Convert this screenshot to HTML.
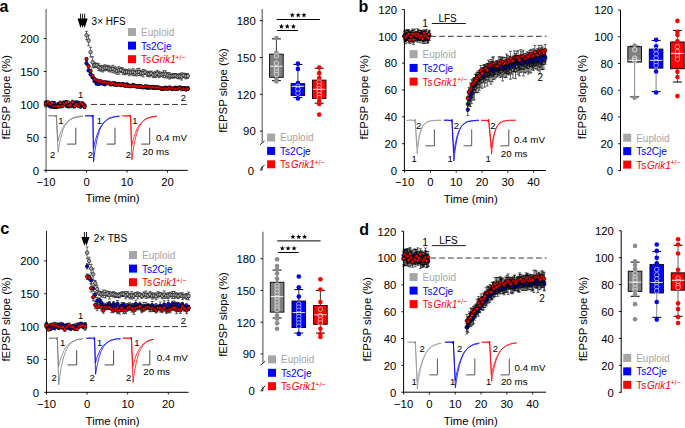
<!DOCTYPE html>
<html><head><meta charset="utf-8"><style>
html,body{margin:0;padding:0;background:#fff;width:685px;height:428px;overflow:hidden}
svg{display:block;font-family:"Liberation Sans",sans-serif}
</style></head><body>
<svg width="685" height="428" viewBox="0 0 685 428" font-family="Liberation Sans, sans-serif">
<rect width="685" height="428" fill="#fff"/>
<text x="-0.60" y="11.60" font-size="16" text-anchor="start" fill="#000" font-weight="bold" >a</text>
<text transform="translate(9.50,97.20) rotate(-90)" font-size="11.4" text-anchor="middle">fEPSP slope (%)</text>
<line x1="46.10" y1="9.00" x2="46.10" y2="170.85" stroke="#888" stroke-width="1.5" />
<line x1="43.80" y1="170.35" x2="46.10" y2="170.35" stroke="#000" stroke-width="0.9" />
<text x="39.00" y="174.70" font-size="11.3" text-anchor="end" fill="#000" >0</text>
<line x1="43.80" y1="137.40" x2="46.10" y2="137.40" stroke="#000" stroke-width="0.9" />
<text x="39.00" y="141.75" font-size="11.3" text-anchor="end" fill="#000" >50</text>
<line x1="43.80" y1="104.45" x2="46.10" y2="104.45" stroke="#000" stroke-width="0.9" />
<text x="39.00" y="108.80" font-size="11.3" text-anchor="end" fill="#000" >100</text>
<line x1="43.80" y1="71.50" x2="46.10" y2="71.50" stroke="#000" stroke-width="0.9" />
<text x="39.00" y="75.85" font-size="11.3" text-anchor="end" fill="#000" >150</text>
<line x1="43.80" y1="38.55" x2="46.10" y2="38.55" stroke="#000" stroke-width="0.9" />
<text x="39.00" y="42.90" font-size="11.3" text-anchor="end" fill="#000" >200</text>
<line x1="45.50" y1="170.35" x2="187.80" y2="170.35" stroke="#000" stroke-width="1" />
<line x1="46.05" y1="170.35" x2="46.05" y2="172.55" stroke="#000" stroke-width="0.9" />
<text x="46.05" y="186.35" font-size="11.3" text-anchor="middle" fill="#000" >−10</text>
<line x1="86.55" y1="170.35" x2="86.55" y2="172.55" stroke="#000" stroke-width="0.9" />
<text x="86.55" y="186.35" font-size="11.3" text-anchor="middle" fill="#000" >0</text>
<line x1="127.05" y1="170.35" x2="127.05" y2="172.55" stroke="#000" stroke-width="0.9" />
<text x="127.05" y="186.35" font-size="11.3" text-anchor="middle" fill="#000" >10</text>
<line x1="167.55" y1="170.35" x2="167.55" y2="172.55" stroke="#000" stroke-width="0.9" />
<text x="167.55" y="186.35" font-size="11.3" text-anchor="middle" fill="#000" >20</text>
<text x="112.60" y="202.15" font-size="11.4" text-anchor="middle" fill="#000" >Time (min)</text>
<line x1="91.00" y1="104.45" x2="187.50" y2="104.45" stroke="#222" stroke-width="0.9" stroke-dasharray="6.0,3.0"/>
<path d="M46.0,103.7V106.8M44.6,103.7h2.8M44.6,106.8h2.8M48.1,102.3V105.2M46.7,102.3h2.8M46.7,105.2h2.8M50.1,102.5V106.1M48.7,102.5h2.8M48.7,106.1h2.8M52.1,104.5V108.5M50.7,104.5h2.8M50.7,108.5h2.8M54.1,104.7V108.5M52.8,104.7h2.8M52.8,108.5h2.8M56.2,104.9V107.9M54.8,104.9h2.8M54.8,107.9h2.8M58.2,102.4V107.2M56.8,102.4h2.8M56.8,107.2h2.8M60.2,104.5V107.8M58.8,104.5h2.8M58.8,107.8h2.8M62.2,101.4V106.4M60.9,101.4h2.8M60.9,106.4h2.8M64.3,102.2V105.9M62.9,102.2h2.8M62.9,105.9h2.8M66.3,100.8V103.7M64.9,100.8h2.8M64.9,103.7h2.8M68.3,101.1V104.5M66.9,101.1h2.8M66.9,104.5h2.8M70.3,104.6V107.6M68.9,104.6h2.8M68.9,107.6h2.8M72.4,103.0V107.7M71.0,103.0h2.8M71.0,107.7h2.8M74.4,103.8V108.0M73.0,103.8h2.8M73.0,108.0h2.8M76.4,102.0V105.6M75.0,102.0h2.8M75.0,105.6h2.8M78.5,102.8V105.7M77.0,102.8h2.8M77.0,105.7h2.8M80.5,104.9V108.1M79.1,104.9h2.8M79.1,108.1h2.8M82.5,101.7V105.5M81.1,101.7h2.8M81.1,105.5h2.8M84.5,103.2V107.4M83.1,103.2h2.8M83.1,107.4h2.8" stroke="#000" stroke-width="0.6" fill="none"/>
<g fill="#b0b0b0" stroke="#000" stroke-width="0.65"><circle cx="46.0" cy="105.3" r="1.75"/><circle cx="48.1" cy="103.8" r="1.75"/><circle cx="50.1" cy="104.3" r="1.75"/><circle cx="52.1" cy="106.5" r="1.75"/><circle cx="54.1" cy="106.6" r="1.75"/><circle cx="56.2" cy="106.4" r="1.75"/><circle cx="58.2" cy="104.8" r="1.75"/><circle cx="60.2" cy="106.2" r="1.75"/><circle cx="62.2" cy="103.9" r="1.75"/><circle cx="64.3" cy="104.1" r="1.75"/><circle cx="66.3" cy="102.3" r="1.75"/><circle cx="68.3" cy="102.8" r="1.75"/><circle cx="70.3" cy="106.1" r="1.75"/><circle cx="72.4" cy="105.3" r="1.75"/><circle cx="74.4" cy="105.9" r="1.75"/><circle cx="76.4" cy="103.8" r="1.75"/><circle cx="78.5" cy="104.2" r="1.75"/><circle cx="80.5" cy="106.5" r="1.75"/><circle cx="82.5" cy="103.6" r="1.75"/><circle cx="84.5" cy="105.3" r="1.75"/></g>
<path d="M86.5,31.3V39.4M85.1,31.3h2.8M85.1,39.4h2.8M88.6,35.5V45.8M87.2,35.5h2.8M87.2,45.8h2.8M90.6,47.4V57.0M89.2,47.4h2.8M89.2,57.0h2.8M92.6,56.6V67.9M91.2,56.6h2.8M91.2,67.9h2.8M94.6,62.6V67.7M93.2,62.6h2.8M93.2,67.7h2.8M96.7,63.1V67.7M95.3,63.1h2.8M95.3,67.7h2.8M98.7,63.7V70.6M97.3,63.7h2.8M97.3,70.6h2.8M100.7,65.3V71.2M99.3,65.3h2.8M99.3,71.2h2.8M102.8,65.5V72.0M101.3,65.5h2.8M101.3,72.0h2.8M104.8,64.7V70.9M103.4,64.7h2.8M103.4,70.9h2.8M106.8,65.3V70.5M105.4,65.3h2.8M105.4,70.5h2.8M108.8,65.4V71.7M107.4,65.4h2.8M107.4,71.7h2.8M110.8,66.2V72.0M109.4,66.2h2.8M109.4,72.0h2.8M112.9,65.2V72.7M111.5,65.2h2.8M111.5,72.7h2.8M114.9,66.7V73.2M113.5,66.7h2.8M113.5,73.2h2.8M116.9,67.7V74.3M115.5,67.7h2.8M115.5,74.3h2.8M118.9,66.4V74.1M117.5,66.4h2.8M117.5,74.1h2.8M121.0,67.5V72.7M119.6,67.5h2.8M119.6,72.7h2.8M123.0,67.9V74.4M121.6,67.9h2.8M121.6,74.4h2.8M125.0,69.1V74.9M123.6,69.1h2.8M123.6,74.9h2.8M127.0,69.6V74.2M125.6,69.6h2.8M125.6,74.2h2.8M129.1,68.9V75.8M127.7,68.9h2.8M127.7,75.8h2.8M131.1,69.9V74.9M129.7,69.9h2.8M129.7,74.9h2.8M133.1,68.5V75.7M131.7,68.5h2.8M131.7,75.7h2.8M135.1,70.0V75.8M133.7,70.0h2.8M133.7,75.8h2.8M137.2,68.6V75.9M135.8,68.6h2.8M135.8,75.9h2.8M139.2,68.3V75.5M137.8,68.3h2.8M137.8,75.5h2.8M141.2,70.3V76.0M139.8,70.3h2.8M139.8,76.0h2.8M143.2,69.5V76.8M141.8,69.5h2.8M141.8,76.8h2.8M145.3,70.0V74.6M143.9,70.0h2.8M143.9,74.6h2.8M147.3,71.5V76.4M145.9,71.5h2.8M145.9,76.4h2.8M149.3,71.1V77.0M147.9,71.1h2.8M147.9,77.0h2.8M151.3,71.1V76.1M149.9,71.1h2.8M149.9,76.1h2.8M153.4,72.1V77.7M152.0,72.1h2.8M152.0,77.7h2.8M155.4,71.3V77.5M154.0,71.3h2.8M154.0,77.5h2.8M157.4,70.2V76.9M156.0,70.2h2.8M156.0,76.9h2.8M159.4,71.4V77.7M158.0,71.4h2.8M158.0,77.7h2.8M161.5,72.3V76.6M160.1,72.3h2.8M160.1,76.6h2.8M163.5,70.8V77.7M162.1,70.8h2.8M162.1,77.7h2.8M165.5,70.8V77.8M164.1,70.8h2.8M164.1,77.8h2.8M167.6,72.5V78.1M166.2,72.5h2.8M166.2,78.1h2.8M169.6,72.7V79.1M168.2,72.7h2.8M168.2,79.1h2.8M171.6,73.8V78.2M170.2,73.8h2.8M170.2,78.2h2.8M173.6,73.5V78.2M172.2,73.5h2.8M172.2,78.2h2.8M175.6,73.5V77.8M174.2,73.5h2.8M174.2,77.8h2.8M177.7,74.0V78.7M176.3,74.0h2.8M176.3,78.7h2.8M179.7,73.5V79.0M178.3,73.5h2.8M178.3,79.0h2.8M181.7,72.8V80.1M180.3,72.8h2.8M180.3,80.1h2.8M183.8,73.1V77.8M182.3,73.1h2.8M182.3,77.8h2.8M185.8,73.5V78.9M184.4,73.5h2.8M184.4,78.9h2.8M187.8,73.7V78.3M186.4,73.7h2.8M186.4,78.3h2.8" stroke="#000" stroke-width="0.6" fill="none"/>
<g fill="#b0b0b0" stroke="#000" stroke-width="0.65"><circle cx="86.5" cy="35.3" r="1.75"/><circle cx="88.6" cy="40.6" r="1.75"/><circle cx="90.6" cy="52.2" r="1.75"/><circle cx="92.6" cy="62.2" r="1.75"/><circle cx="94.6" cy="65.1" r="1.75"/><circle cx="96.7" cy="65.4" r="1.75"/><circle cx="98.7" cy="67.1" r="1.75"/><circle cx="100.7" cy="68.3" r="1.75"/><circle cx="102.8" cy="68.8" r="1.75"/><circle cx="104.8" cy="67.8" r="1.75"/><circle cx="106.8" cy="67.9" r="1.75"/><circle cx="108.8" cy="68.5" r="1.75"/><circle cx="110.8" cy="69.1" r="1.75"/><circle cx="112.9" cy="68.9" r="1.75"/><circle cx="114.9" cy="69.9" r="1.75"/><circle cx="116.9" cy="71.0" r="1.75"/><circle cx="118.9" cy="70.2" r="1.75"/><circle cx="121.0" cy="70.1" r="1.75"/><circle cx="123.0" cy="71.1" r="1.75"/><circle cx="125.0" cy="72.0" r="1.75"/><circle cx="127.0" cy="71.9" r="1.75"/><circle cx="129.1" cy="72.3" r="1.75"/><circle cx="131.1" cy="72.4" r="1.75"/><circle cx="133.1" cy="72.1" r="1.75"/><circle cx="135.1" cy="72.9" r="1.75"/><circle cx="137.2" cy="72.2" r="1.75"/><circle cx="139.2" cy="71.9" r="1.75"/><circle cx="141.2" cy="73.1" r="1.75"/><circle cx="143.2" cy="73.2" r="1.75"/><circle cx="145.3" cy="72.3" r="1.75"/><circle cx="147.3" cy="73.9" r="1.75"/><circle cx="149.3" cy="74.0" r="1.75"/><circle cx="151.3" cy="73.6" r="1.75"/><circle cx="153.4" cy="74.9" r="1.75"/><circle cx="155.4" cy="74.4" r="1.75"/><circle cx="157.4" cy="73.6" r="1.75"/><circle cx="159.4" cy="74.6" r="1.75"/><circle cx="161.5" cy="74.5" r="1.75"/><circle cx="163.5" cy="74.2" r="1.75"/><circle cx="165.5" cy="74.3" r="1.75"/><circle cx="167.6" cy="75.3" r="1.75"/><circle cx="169.6" cy="75.9" r="1.75"/><circle cx="171.6" cy="76.0" r="1.75"/><circle cx="173.6" cy="75.8" r="1.75"/><circle cx="175.6" cy="75.7" r="1.75"/><circle cx="177.7" cy="76.4" r="1.75"/><circle cx="179.7" cy="76.2" r="1.75"/><circle cx="181.7" cy="76.5" r="1.75"/><circle cx="183.8" cy="75.4" r="1.75"/><circle cx="185.8" cy="76.2" r="1.75"/><circle cx="187.8" cy="76.0" r="1.75"/></g>
<path d="M46.0,100.7V105.0M44.6,100.7h2.8M44.6,105.0h2.8M48.1,103.0V106.2M46.7,103.0h2.8M46.7,106.2h2.8M50.1,105.1V107.6M48.7,105.1h2.8M48.7,107.6h2.8M52.1,103.8V106.6M50.7,103.8h2.8M50.7,106.6h2.8M54.1,101.6V104.2M52.8,101.6h2.8M52.8,104.2h2.8M56.2,104.6V108.7M54.8,104.6h2.8M54.8,108.7h2.8M58.2,103.0V105.6M56.8,103.0h2.8M56.8,105.6h2.8M60.2,103.1V105.4M58.8,103.1h2.8M58.8,105.4h2.8M62.2,102.2V106.4M60.9,102.2h2.8M60.9,106.4h2.8M64.3,100.9V104.6M62.9,100.9h2.8M62.9,104.6h2.8M66.3,104.0V107.1M64.9,104.0h2.8M64.9,107.1h2.8M68.3,104.1V107.9M66.9,104.1h2.8M66.9,107.9h2.8M70.3,102.4V106.2M68.9,102.4h2.8M68.9,106.2h2.8M72.4,103.9V106.6M71.0,103.9h2.8M71.0,106.6h2.8M74.4,100.9V105.1M73.0,100.9h2.8M73.0,105.1h2.8M76.4,100.9V104.8M75.0,100.9h2.8M75.0,104.8h2.8M78.5,101.1V104.9M77.0,101.1h2.8M77.0,104.9h2.8M80.5,104.0V107.4M79.1,104.0h2.8M79.1,107.4h2.8M82.5,103.9V106.3M81.1,103.9h2.8M81.1,106.3h2.8M84.5,105.2V108.1M83.1,105.2h2.8M83.1,108.1h2.8" stroke="#000" stroke-width="0.6" fill="none"/>
<g fill="#0000ff" stroke="#000" stroke-width="0.65"><circle cx="46.0" cy="102.8" r="1.75"/><circle cx="48.1" cy="104.6" r="1.75"/><circle cx="50.1" cy="106.4" r="1.75"/><circle cx="52.1" cy="105.2" r="1.75"/><circle cx="54.1" cy="102.9" r="1.75"/><circle cx="56.2" cy="106.6" r="1.75"/><circle cx="58.2" cy="104.3" r="1.75"/><circle cx="60.2" cy="104.3" r="1.75"/><circle cx="62.2" cy="104.3" r="1.75"/><circle cx="64.3" cy="102.8" r="1.75"/><circle cx="66.3" cy="105.6" r="1.75"/><circle cx="68.3" cy="106.0" r="1.75"/><circle cx="70.3" cy="104.3" r="1.75"/><circle cx="72.4" cy="105.2" r="1.75"/><circle cx="74.4" cy="103.0" r="1.75"/><circle cx="76.4" cy="102.8" r="1.75"/><circle cx="78.5" cy="103.0" r="1.75"/><circle cx="80.5" cy="105.7" r="1.75"/><circle cx="82.5" cy="105.1" r="1.75"/><circle cx="84.5" cy="106.6" r="1.75"/></g>
<path d="M86.5,61.8V64.8M85.1,61.8h2.8M85.1,64.8h2.8M88.6,69.2V71.7M87.2,69.2h2.8M87.2,71.7h2.8M90.6,72.5V75.9M89.2,72.5h2.8M89.2,75.9h2.8M92.6,76.2V78.6M91.2,76.2h2.8M91.2,78.6h2.8M94.6,80.1V82.3M93.2,80.1h2.8M93.2,82.3h2.8M96.7,82.8V84.9M95.3,82.8h2.8M95.3,84.9h2.8M98.7,82.2V85.5M97.3,82.2h2.8M97.3,85.5h2.8M100.7,82.0V84.6M99.3,82.0h2.8M99.3,84.6h2.8M102.8,81.9V85.0M101.3,81.9h2.8M101.3,85.0h2.8M104.8,82.7V85.6M103.4,82.7h2.8M103.4,85.6h2.8M106.8,81.2V84.3M105.4,81.2h2.8M105.4,84.3h2.8M108.8,81.8V84.4M107.4,81.8h2.8M107.4,84.4h2.8M110.8,82.7V85.7M109.4,82.7h2.8M109.4,85.7h2.8M112.9,82.6V85.7M111.5,82.6h2.8M111.5,85.7h2.8M114.9,82.0V84.5M113.5,82.0h2.8M113.5,84.5h2.8M116.9,82.7V86.0M115.5,82.7h2.8M115.5,86.0h2.8M118.9,82.9V85.1M117.5,82.9h2.8M117.5,85.1h2.8M121.0,84.1V86.2M119.6,84.1h2.8M119.6,86.2h2.8M123.0,82.6V85.7M121.6,82.6h2.8M121.6,85.7h2.8M125.0,84.0V87.1M123.6,84.0h2.8M123.6,87.1h2.8M127.0,83.0V85.9M125.6,83.0h2.8M125.6,85.9h2.8M129.1,84.3V87.0M127.7,84.3h2.8M127.7,87.0h2.8M131.1,85.3V87.1M129.7,85.3h2.8M129.7,87.1h2.8M133.1,83.7V86.5M131.7,83.7h2.8M131.7,86.5h2.8M135.1,84.4V87.7M133.7,84.4h2.8M133.7,87.7h2.8M137.2,84.8V88.0M135.8,84.8h2.8M135.8,88.0h2.8M139.2,84.9V87.1M137.8,84.9h2.8M137.8,87.1h2.8M141.2,85.9V88.2M139.8,85.9h2.8M139.8,88.2h2.8M143.2,85.8V88.6M141.8,85.8h2.8M141.8,88.6h2.8M145.3,86.1V88.6M143.9,86.1h2.8M143.9,88.6h2.8M147.3,86.0V89.3M145.9,86.0h2.8M145.9,89.3h2.8M149.3,86.1V88.7M147.9,86.1h2.8M147.9,88.7h2.8M151.3,85.5V88.8M149.9,85.5h2.8M149.9,88.8h2.8M153.4,85.9V89.2M152.0,85.9h2.8M152.0,89.2h2.8M155.4,86.2V88.9M154.0,86.2h2.8M154.0,88.9h2.8M157.4,86.7V88.6M156.0,86.7h2.8M156.0,88.6h2.8M159.4,86.8V88.9M158.0,86.8h2.8M158.0,88.9h2.8M161.5,87.1V90.2M160.1,87.1h2.8M160.1,90.2h2.8M163.5,87.2V89.8M162.1,87.2h2.8M162.1,89.8h2.8M165.5,86.3V89.0M164.1,86.3h2.8M164.1,89.0h2.8M167.6,87.0V89.6M166.2,87.0h2.8M166.2,89.6h2.8M169.6,86.4V89.5M168.2,86.4h2.8M168.2,89.5h2.8M171.6,87.3V90.1M170.2,87.3h2.8M170.2,90.1h2.8M173.6,87.4V89.7M172.2,87.4h2.8M172.2,89.7h2.8M175.6,86.4V89.0M174.2,86.4h2.8M174.2,89.0h2.8M177.7,86.6V89.6M176.3,86.6h2.8M176.3,89.6h2.8M179.7,86.3V88.8M178.3,86.3h2.8M178.3,88.8h2.8M181.7,86.7V89.4M180.3,86.7h2.8M180.3,89.4h2.8M183.8,86.8V89.7M182.3,86.8h2.8M182.3,89.7h2.8M185.8,87.0V89.7M184.4,87.0h2.8M184.4,89.7h2.8M187.8,86.7V90.0M186.4,86.7h2.8M186.4,90.0h2.8" stroke="#000" stroke-width="0.6" fill="none"/>
<g fill="#0000ff" stroke="#000" stroke-width="0.65"><circle cx="86.5" cy="63.3" r="1.75"/><circle cx="88.6" cy="70.4" r="1.75"/><circle cx="90.6" cy="74.2" r="1.75"/><circle cx="92.6" cy="77.4" r="1.75"/><circle cx="94.6" cy="81.2" r="1.75"/><circle cx="96.7" cy="83.8" r="1.75"/><circle cx="98.7" cy="83.8" r="1.75"/><circle cx="100.7" cy="83.3" r="1.75"/><circle cx="102.8" cy="83.4" r="1.75"/><circle cx="104.8" cy="84.2" r="1.75"/><circle cx="106.8" cy="82.7" r="1.75"/><circle cx="108.8" cy="83.1" r="1.75"/><circle cx="110.8" cy="84.2" r="1.75"/><circle cx="112.9" cy="84.1" r="1.75"/><circle cx="114.9" cy="83.3" r="1.75"/><circle cx="116.9" cy="84.3" r="1.75"/><circle cx="118.9" cy="84.0" r="1.75"/><circle cx="121.0" cy="85.2" r="1.75"/><circle cx="123.0" cy="84.1" r="1.75"/><circle cx="125.0" cy="85.6" r="1.75"/><circle cx="127.0" cy="84.4" r="1.75"/><circle cx="129.1" cy="85.7" r="1.75"/><circle cx="131.1" cy="86.2" r="1.75"/><circle cx="133.1" cy="85.1" r="1.75"/><circle cx="135.1" cy="86.0" r="1.75"/><circle cx="137.2" cy="86.4" r="1.75"/><circle cx="139.2" cy="86.0" r="1.75"/><circle cx="141.2" cy="87.1" r="1.75"/><circle cx="143.2" cy="87.2" r="1.75"/><circle cx="145.3" cy="87.3" r="1.75"/><circle cx="147.3" cy="87.6" r="1.75"/><circle cx="149.3" cy="87.4" r="1.75"/><circle cx="151.3" cy="87.2" r="1.75"/><circle cx="153.4" cy="87.5" r="1.75"/><circle cx="155.4" cy="87.5" r="1.75"/><circle cx="157.4" cy="87.6" r="1.75"/><circle cx="159.4" cy="87.9" r="1.75"/><circle cx="161.5" cy="88.7" r="1.75"/><circle cx="163.5" cy="88.5" r="1.75"/><circle cx="165.5" cy="87.7" r="1.75"/><circle cx="167.6" cy="88.3" r="1.75"/><circle cx="169.6" cy="88.0" r="1.75"/><circle cx="171.6" cy="88.7" r="1.75"/><circle cx="173.6" cy="88.5" r="1.75"/><circle cx="175.6" cy="87.7" r="1.75"/><circle cx="177.7" cy="88.1" r="1.75"/><circle cx="179.7" cy="87.5" r="1.75"/><circle cx="181.7" cy="88.0" r="1.75"/><circle cx="183.8" cy="88.2" r="1.75"/><circle cx="185.8" cy="88.4" r="1.75"/><circle cx="187.8" cy="88.3" r="1.75"/></g>
<path d="M46.0,101.5V105.6M44.6,101.5h2.8M44.6,105.6h2.8M48.1,101.0V103.8M46.7,101.0h2.8M46.7,103.8h2.8M50.1,102.1V106.3M48.7,102.1h2.8M48.7,106.3h2.8M52.1,101.6V104.2M50.7,101.6h2.8M50.7,104.2h2.8M54.1,104.6V107.8M52.8,104.6h2.8M52.8,107.8h2.8M56.2,105.0V107.8M54.8,105.0h2.8M54.8,107.8h2.8M58.2,104.6V108.2M56.8,104.6h2.8M56.8,108.2h2.8M60.2,101.1V105.2M58.8,101.1h2.8M58.8,105.2h2.8M62.2,104.2V107.9M60.9,104.2h2.8M60.9,107.9h2.8M64.3,102.4V105.0M62.9,102.4h2.8M62.9,105.0h2.8M66.3,100.6V104.8M64.9,100.6h2.8M64.9,104.8h2.8M68.3,103.6V107.8M66.9,103.6h2.8M66.9,107.8h2.8M70.3,103.3V106.6M68.9,103.3h2.8M68.9,106.6h2.8M72.4,100.2V104.2M71.0,100.2h2.8M71.0,104.2h2.8M74.4,104.4V107.6M73.0,104.4h2.8M73.0,107.6h2.8M76.4,102.9V105.9M75.0,102.9h2.8M75.0,105.9h2.8M78.5,104.4V107.3M77.0,104.4h2.8M77.0,107.3h2.8M80.5,102.3V104.6M79.1,102.3h2.8M79.1,104.6h2.8M82.5,102.6V105.8M81.1,102.6h2.8M81.1,105.8h2.8M84.5,105.2V108.2M83.1,105.2h2.8M83.1,108.2h2.8" stroke="#000" stroke-width="0.6" fill="none"/>
<g fill="#ff0000" stroke="#000" stroke-width="0.65"><circle cx="46.0" cy="103.5" r="1.75"/><circle cx="48.1" cy="102.4" r="1.75"/><circle cx="50.1" cy="104.2" r="1.75"/><circle cx="52.1" cy="102.9" r="1.75"/><circle cx="54.1" cy="106.2" r="1.75"/><circle cx="56.2" cy="106.4" r="1.75"/><circle cx="58.2" cy="106.4" r="1.75"/><circle cx="60.2" cy="103.1" r="1.75"/><circle cx="62.2" cy="106.0" r="1.75"/><circle cx="64.3" cy="103.7" r="1.75"/><circle cx="66.3" cy="102.7" r="1.75"/><circle cx="68.3" cy="105.7" r="1.75"/><circle cx="70.3" cy="104.9" r="1.75"/><circle cx="72.4" cy="102.2" r="1.75"/><circle cx="74.4" cy="106.0" r="1.75"/><circle cx="76.4" cy="104.4" r="1.75"/><circle cx="78.5" cy="105.9" r="1.75"/><circle cx="80.5" cy="103.4" r="1.75"/><circle cx="82.5" cy="104.2" r="1.75"/><circle cx="84.5" cy="106.7" r="1.75"/></g>
<path d="M86.5,57.8V60.4M85.1,57.8h2.8M85.1,60.4h2.8M88.6,64.6V68.0M87.2,64.6h2.8M87.2,68.0h2.8M90.6,69.4V72.7M89.2,69.4h2.8M89.2,72.7h2.8M92.6,74.7V77.0M91.2,74.7h2.8M91.2,77.0h2.8M94.6,77.7V80.8M93.2,77.7h2.8M93.2,80.8h2.8M96.7,79.3V81.4M95.3,79.3h2.8M95.3,81.4h2.8M98.7,79.9V83.2M97.3,79.9h2.8M97.3,83.2h2.8M100.7,80.1V82.3M99.3,80.1h2.8M99.3,82.3h2.8M102.8,80.9V84.2M101.3,80.9h2.8M101.3,84.2h2.8M104.8,80.8V83.7M103.4,80.8h2.8M103.4,83.7h2.8M106.8,82.4V84.3M105.4,82.4h2.8M105.4,84.3h2.8M108.8,81.4V83.9M107.4,81.4h2.8M107.4,83.9h2.8M110.8,82.3V85.6M109.4,82.3h2.8M109.4,85.6h2.8M112.9,81.8V84.9M111.5,81.8h2.8M111.5,84.9h2.8M114.9,82.9V86.1M113.5,82.9h2.8M113.5,86.1h2.8M116.9,83.2V86.4M115.5,83.2h2.8M115.5,86.4h2.8M118.9,83.2V85.6M117.5,83.2h2.8M117.5,85.6h2.8M121.0,82.8V86.1M119.6,82.8h2.8M119.6,86.1h2.8M123.0,84.1V86.2M121.6,84.1h2.8M121.6,86.2h2.8M125.0,83.8V86.0M123.6,83.8h2.8M123.6,86.0h2.8M127.0,84.7V86.8M125.6,84.7h2.8M125.6,86.8h2.8M129.1,85.0V87.2M127.7,85.0h2.8M127.7,87.2h2.8M131.1,84.7V87.1M129.7,84.7h2.8M129.7,87.1h2.8M133.1,84.2V86.5M131.7,84.2h2.8M131.7,86.5h2.8M135.1,84.9V87.1M133.7,84.9h2.8M133.7,87.1h2.8M137.2,85.5V87.4M135.8,85.5h2.8M135.8,87.4h2.8M139.2,85.9V87.8M137.8,85.9h2.8M137.8,87.8h2.8M141.2,84.9V87.6M139.8,84.9h2.8M139.8,87.6h2.8M143.2,85.9V88.5M141.8,85.9h2.8M141.8,88.5h2.8M145.3,85.2V87.2M143.9,85.2h2.8M143.9,87.2h2.8M147.3,85.2V87.8M145.9,85.2h2.8M145.9,87.8h2.8M149.3,85.6V88.7M147.9,85.6h2.8M147.9,88.7h2.8M151.3,86.1V88.7M149.9,86.1h2.8M149.9,88.7h2.8M153.4,85.4V88.8M152.0,85.4h2.8M152.0,88.8h2.8M155.4,86.2V89.3M154.0,86.2h2.8M154.0,89.3h2.8M157.4,85.9V88.7M156.0,85.9h2.8M156.0,88.7h2.8M159.4,86.7V89.1M158.0,86.7h2.8M158.0,89.1h2.8M161.5,87.6V89.6M160.1,87.6h2.8M160.1,89.6h2.8M163.5,87.2V90.2M162.1,87.2h2.8M162.1,90.2h2.8M165.5,87.4V89.5M164.1,87.4h2.8M164.1,89.5h2.8M167.6,87.2V90.4M166.2,87.2h2.8M166.2,90.4h2.8M169.6,86.2V89.1M168.2,86.2h2.8M168.2,89.1h2.8M171.6,87.5V89.7M170.2,87.5h2.8M170.2,89.7h2.8M173.6,87.4V89.9M172.2,87.4h2.8M172.2,89.9h2.8M175.6,87.6V90.2M174.2,87.6h2.8M174.2,90.2h2.8M177.7,87.1V90.5M176.3,87.1h2.8M176.3,90.5h2.8M179.7,86.4V89.1M178.3,86.4h2.8M178.3,89.1h2.8M181.7,87.3V90.7M180.3,87.3h2.8M180.3,90.7h2.8M183.8,87.7V90.1M182.3,87.7h2.8M182.3,90.1h2.8M185.8,88.3V90.7M184.4,88.3h2.8M184.4,90.7h2.8M187.8,87.5V90.1M186.4,87.5h2.8M186.4,90.1h2.8" stroke="#000" stroke-width="0.6" fill="none"/>
<g fill="#ff0000" stroke="#000" stroke-width="0.65"><circle cx="86.5" cy="59.1" r="1.75"/><circle cx="88.6" cy="66.3" r="1.75"/><circle cx="90.6" cy="71.0" r="1.75"/><circle cx="92.6" cy="75.9" r="1.75"/><circle cx="94.6" cy="79.3" r="1.75"/><circle cx="96.7" cy="80.3" r="1.75"/><circle cx="98.7" cy="81.5" r="1.75"/><circle cx="100.7" cy="81.2" r="1.75"/><circle cx="102.8" cy="82.6" r="1.75"/><circle cx="104.8" cy="82.3" r="1.75"/><circle cx="106.8" cy="83.4" r="1.75"/><circle cx="108.8" cy="82.7" r="1.75"/><circle cx="110.8" cy="83.9" r="1.75"/><circle cx="112.9" cy="83.3" r="1.75"/><circle cx="114.9" cy="84.5" r="1.75"/><circle cx="116.9" cy="84.8" r="1.75"/><circle cx="118.9" cy="84.4" r="1.75"/><circle cx="121.0" cy="84.5" r="1.75"/><circle cx="123.0" cy="85.1" r="1.75"/><circle cx="125.0" cy="84.9" r="1.75"/><circle cx="127.0" cy="85.8" r="1.75"/><circle cx="129.1" cy="86.1" r="1.75"/><circle cx="131.1" cy="85.9" r="1.75"/><circle cx="133.1" cy="85.4" r="1.75"/><circle cx="135.1" cy="86.0" r="1.75"/><circle cx="137.2" cy="86.5" r="1.75"/><circle cx="139.2" cy="86.8" r="1.75"/><circle cx="141.2" cy="86.2" r="1.75"/><circle cx="143.2" cy="87.2" r="1.75"/><circle cx="145.3" cy="86.2" r="1.75"/><circle cx="147.3" cy="86.5" r="1.75"/><circle cx="149.3" cy="87.1" r="1.75"/><circle cx="151.3" cy="87.4" r="1.75"/><circle cx="153.4" cy="87.1" r="1.75"/><circle cx="155.4" cy="87.8" r="1.75"/><circle cx="157.4" cy="87.3" r="1.75"/><circle cx="159.4" cy="87.9" r="1.75"/><circle cx="161.5" cy="88.6" r="1.75"/><circle cx="163.5" cy="88.7" r="1.75"/><circle cx="165.5" cy="88.5" r="1.75"/><circle cx="167.6" cy="88.8" r="1.75"/><circle cx="169.6" cy="87.6" r="1.75"/><circle cx="171.6" cy="88.6" r="1.75"/><circle cx="173.6" cy="88.6" r="1.75"/><circle cx="175.6" cy="88.9" r="1.75"/><circle cx="177.7" cy="88.8" r="1.75"/><circle cx="179.7" cy="87.8" r="1.75"/><circle cx="181.7" cy="89.0" r="1.75"/><circle cx="183.8" cy="88.9" r="1.75"/><circle cx="185.8" cy="89.5" r="1.75"/><circle cx="187.8" cy="88.8" r="1.75"/></g>
<text x="78.00" y="98.45" font-size="9.5" text-anchor="start" fill="#000" >1</text>
<text x="180.80" y="101.45" font-size="9.5" text-anchor="start" fill="#000" >2</text>
<path d="M77.50,18.6 L83.50,18.6 L80.50,28 Z M79.55,18.6 L85.55,18.6 L82.55,28 Z M81.65,18.6 L87.65,18.6 L84.65,28 Z " fill="#000"/>
<line x1="80.50" y1="13.70" x2="80.50" y2="19.00" stroke="#000" stroke-width="0.9" />
<line x1="82.55" y1="13.70" x2="82.55" y2="19.00" stroke="#000" stroke-width="0.9" />
<line x1="84.65" y1="13.70" x2="84.65" y2="19.00" stroke="#000" stroke-width="0.9" />
<text x="91.60" y="25.00" font-size="10" text-anchor="start" fill="#000" >3× HFS</text>
<rect x="128.00" y="28.00" width="8.00" height="8.00" fill="#a6a6a6" stroke="none" stroke-width="0"/>
<text x="141.00" y="35.95" font-size="10.0" text-anchor="start" fill="#a6a6a6" >Euploid</text>
<rect x="128.00" y="41.60" width="8.00" height="8.00" fill="#0000ff" stroke="none" stroke-width="0"/>
<text x="141.00" y="49.55" font-size="10.0" text-anchor="start" fill="#0000ff" >Ts2Cje</text>
<rect x="128.00" y="55.20" width="8.00" height="8.00" fill="#ff0000" stroke="none" stroke-width="0"/>
<text x="141.00" y="63.15" font-size="10.0" fill="#ff0000">Ts<tspan font-style="italic" dx="0.8">Grik1</tspan><tspan font-size="7.00" dy="-3.60" dx="-0.4">+/−</tspan></text>
<path d="M48.3,115.7 L49.3,115.8 L50.3,115.6 L51.3,115.7 L52.3,115.6 L53.3,115.7 L54.3,115.6 L55.3,115.6 L56.0,117.0 L56.3,115.0 L57.9,141.0 L58.4,139.0 L58.9,137.3 L59.4,135.8 L59.9,134.3 L60.4,133.1 L60.9,131.8 L61.4,130.6 L61.9,129.6 L62.4,128.4 L62.9,127.4 L63.4,126.9 L63.9,125.6 L64.4,125.2 L64.9,124.5 L65.4,123.5 L65.9,123.3 L66.9,122.3 L67.9,121.3 L68.9,120.6 L69.9,119.9 L70.9,119.0 L71.9,118.7 L72.9,118.3 L73.9,118.1 L74.9,117.8 L75.9,117.5 L76.9,117.2 L77.9,117.2 L78.9,116.9 L79.9,116.8 L80.9,116.4 L81.9,116.2 L82.9,116.2" fill="none" stroke="#7a7a7a" stroke-width="0.8" stroke-linejoin="round" />
<path d="M48.3,115.7 L49.3,115.6 L50.3,116.0 L51.3,115.8 L52.3,115.9 L53.3,115.9 L54.3,115.9 L55.3,115.8 L56.0,117.0 L56.3,115.0 L58.1,152.3 L58.6,148.8 L59.1,146.2 L59.6,143.4 L60.1,140.8 L60.6,138.6 L61.1,136.6 L61.6,134.4 L62.1,133.1 L62.6,131.3 L63.1,129.8 L63.6,128.6 L64.1,127.7 L64.6,126.4 L65.1,125.7 L65.6,124.9 L66.1,123.9 L67.1,122.4 L68.1,121.3 L69.1,120.5 L70.1,119.7 L71.1,119.0 L72.1,118.5 L73.1,117.7 L74.1,117.4 L75.1,117.2 L76.1,117.1 L77.1,116.7 L78.1,116.7 L79.1,116.3 L80.1,116.2 L81.1,116.2 L82.1,116.3 L83.1,116.2" fill="none" stroke="#7a7a7a" stroke-width="0.8" stroke-linejoin="round" />
<path d="M85.1,115.9 L86.1,115.7 L87.1,115.8 L88.1,115.8 L89.1,115.8 L90.1,115.6 L91.1,116.0 L92.1,115.6 L92.6,117.0 L92.9,115.0 L93.4,149.0 L93.9,146.8 L94.4,144.5 L94.9,141.9 L95.4,140.2 L95.9,138.6 L96.4,137.0 L96.9,135.2 L97.4,133.6 L97.9,132.3 L98.4,131.4 L98.9,129.9 L99.4,129.0 L99.9,127.8 L100.4,127.1 L100.9,126.5 L101.4,125.3 L102.4,124.3 L103.4,122.9 L104.4,122.1 L105.4,121.1 L106.4,120.2 L107.4,119.9 L108.4,119.1 L109.4,118.4 L110.4,118.0 L111.4,117.9 L112.4,117.6 L113.4,117.2 L114.4,116.9 L115.4,116.8 L116.4,116.7 L117.4,116.8 L118.4,116.3 L119.4,116.5" fill="none" stroke="#0000ff" stroke-width="0.8" stroke-linejoin="round" />
<path d="M85.1,116.0 L86.1,115.6 L87.1,116.0 L88.1,115.9 L89.1,116.0 L90.1,115.7 L91.1,115.7 L92.1,115.7 L92.6,117.0 L92.9,115.0 L93.5,162.0 L94.0,158.1 L94.5,154.1 L95.0,150.5 L95.5,147.4 L96.0,144.5 L96.5,141.8 L97.0,139.5 L97.5,137.7 L98.0,135.5 L98.5,134.0 L99.0,132.0 L99.5,130.6 L100.0,129.4 L100.5,128.0 L101.0,127.0 L101.5,126.2 L102.5,124.4 L103.5,123.0 L104.5,121.7 L105.5,120.8 L106.5,120.0 L107.5,119.1 L108.5,118.6 L109.5,117.8 L110.5,117.8 L111.5,117.3 L112.5,117.2 L113.5,116.9 L114.5,116.6 L115.5,116.3 L116.5,116.6 L117.5,116.1 L118.5,116.2 L119.5,116.1" fill="none" stroke="#0000ff" stroke-width="0.8" stroke-linejoin="round" />
<path d="M122.4,115.7 L123.4,115.9 L124.4,116.0 L125.4,115.7 L126.4,115.9 L127.4,115.7 L128.4,115.8 L129.4,115.7 L130.2,117.0 L130.5,115.0 L131.7,146.0 L132.2,143.6 L132.7,141.5 L133.2,139.6 L133.7,138.2 L134.2,136.4 L134.7,134.7 L135.2,133.6 L135.7,132.4 L136.2,130.9 L136.7,129.6 L137.2,128.6 L137.7,127.6 L138.2,126.8 L138.7,125.9 L139.2,125.2 L139.7,124.5 L140.7,123.4 L141.7,122.5 L142.7,121.5 L143.7,120.5 L144.7,119.8 L145.7,119.3 L146.7,118.7 L147.7,118.3 L148.7,117.8 L149.7,117.6 L150.7,117.7 L151.7,117.0 L152.7,117.0 L153.7,116.9 L154.7,116.9 L155.7,116.4 L156.7,116.3" fill="none" stroke="#ff0000" stroke-width="0.8" stroke-linejoin="round" />
<path d="M122.4,115.7 L123.4,115.7 L124.4,115.8 L125.4,116.0 L126.4,116.0 L127.4,116.0 L128.4,115.6 L129.4,115.6 L130.2,117.0 L130.5,115.0 L131.9,159.6 L132.4,155.8 L132.9,152.3 L133.4,148.8 L133.9,145.9 L134.4,142.9 L134.9,140.6 L135.4,138.6 L135.9,136.6 L136.4,134.7 L136.9,133.1 L137.4,131.2 L137.9,129.7 L138.4,128.5 L138.9,127.5 L139.4,126.5 L139.9,125.7 L140.9,123.9 L141.9,122.5 L142.9,121.4 L143.9,120.3 L144.9,119.6 L145.9,118.7 L146.9,118.5 L147.9,117.8 L148.9,117.8 L149.9,117.3 L150.9,116.9 L151.9,116.6 L152.9,116.5 L153.9,116.6 L154.9,116.5 L155.9,116.1 L156.9,116.0" fill="none" stroke="#ff0000" stroke-width="0.8" stroke-linejoin="round" />
<path d="M75.80,127.70 L75.80,144.10 L67.10,144.10" fill="none" stroke="#333" stroke-width="0.9"/>
<path d="M115.00,127.70 L115.00,144.10 L106.90,144.10" fill="none" stroke="#333" stroke-width="0.9"/>
<path d="M149.70,127.70 L149.70,144.10 L141.20,144.10" fill="none" stroke="#333" stroke-width="0.9"/>
<text x="58.20" y="124.00" font-size="9.5" text-anchor="start" fill="#000" >1</text>
<text x="50.00" y="158.00" font-size="9.5" text-anchor="start" fill="#000" >2</text>
<text x="96.70" y="124.00" font-size="9.5" text-anchor="start" fill="#000" >1</text>
<text x="87.70" y="158.00" font-size="9.5" text-anchor="start" fill="#000" >2</text>
<text x="132.30" y="124.00" font-size="9.5" text-anchor="start" fill="#000" >1</text>
<text x="125.80" y="158.00" font-size="9.5" text-anchor="start" fill="#000" >2</text>
<text x="155.90" y="140.70" font-size="9.8" text-anchor="start" fill="#000" >0.4 mV</text>
<text x="142.50" y="155.00" font-size="9.8" text-anchor="start" fill="#000" >20 ms</text>
<text x="0.30" y="234.10" font-size="16.3" text-anchor="start" fill="#000" font-weight="bold" >c</text>
<text transform="translate(9.80,319.30) rotate(-90)" font-size="11.4" text-anchor="middle">fEPSP slope (%)</text>
<line x1="46.50" y1="231.00" x2="46.50" y2="392.80" stroke="#222" stroke-width="1.0" />
<line x1="44.20" y1="392.30" x2="46.50" y2="392.30" stroke="#000" stroke-width="0.9" />
<text x="39.00" y="396.65" font-size="11.3" text-anchor="end" fill="#000" >0</text>
<line x1="44.20" y1="359.45" x2="46.50" y2="359.45" stroke="#000" stroke-width="0.9" />
<text x="39.00" y="363.80" font-size="11.3" text-anchor="end" fill="#000" >50</text>
<line x1="44.20" y1="326.60" x2="46.50" y2="326.60" stroke="#000" stroke-width="0.9" />
<text x="39.00" y="330.95" font-size="11.3" text-anchor="end" fill="#000" >100</text>
<line x1="44.20" y1="293.75" x2="46.50" y2="293.75" stroke="#000" stroke-width="0.9" />
<text x="39.00" y="298.10" font-size="11.3" text-anchor="end" fill="#000" >150</text>
<line x1="44.20" y1="260.90" x2="46.50" y2="260.90" stroke="#000" stroke-width="0.9" />
<text x="39.00" y="265.25" font-size="11.3" text-anchor="end" fill="#000" >200</text>
<line x1="45.90" y1="392.30" x2="188.50" y2="392.30" stroke="#000" stroke-width="1" />
<line x1="46.50" y1="392.30" x2="46.50" y2="394.50" stroke="#000" stroke-width="0.9" />
<text x="46.50" y="408.30" font-size="11.3" text-anchor="middle" fill="#000" >−10</text>
<line x1="87.10" y1="392.30" x2="87.10" y2="394.50" stroke="#000" stroke-width="0.9" />
<text x="87.10" y="408.30" font-size="11.3" text-anchor="middle" fill="#000" >0</text>
<line x1="127.70" y1="392.30" x2="127.70" y2="394.50" stroke="#000" stroke-width="0.9" />
<text x="127.70" y="408.30" font-size="11.3" text-anchor="middle" fill="#000" >10</text>
<line x1="168.30" y1="392.30" x2="168.30" y2="394.50" stroke="#000" stroke-width="0.9" />
<text x="168.30" y="408.30" font-size="11.3" text-anchor="middle" fill="#000" >20</text>
<text x="112.60" y="425.20" font-size="11.4" text-anchor="middle" fill="#000" >Time (min)</text>
<line x1="91.00" y1="326.60" x2="187.50" y2="326.60" stroke="#222" stroke-width="0.9" stroke-dasharray="6.0,3.0"/>
<path d="M46.5,324.4V328.6M45.1,324.4h2.8M45.1,328.6h2.8M48.5,325.5V328.8M47.1,325.5h2.8M47.1,328.8h2.8M50.6,324.7V327.5M49.2,324.7h2.8M49.2,327.5h2.8M52.6,325.6V329.4M51.2,325.6h2.8M51.2,329.4h2.8M54.6,322.3V326.6M53.2,322.3h2.8M53.2,326.6h2.8M56.6,322.9V326.8M55.2,322.9h2.8M55.2,326.8h2.8M58.7,326.1V329.5M57.3,326.1h2.8M57.3,329.5h2.8M60.7,322.3V326.7M59.3,322.3h2.8M59.3,326.7h2.8M62.7,326.1V328.9M61.3,326.1h2.8M61.3,328.9h2.8M64.8,324.4V328.8M63.4,324.4h2.8M63.4,328.8h2.8M66.8,325.3V328.7M65.4,325.3h2.8M65.4,328.7h2.8M68.8,323.4V328.3M67.4,323.4h2.8M67.4,328.3h2.8M70.9,326.4V329.3M69.5,326.4h2.8M69.5,329.3h2.8M72.9,325.5V329.2M71.5,325.5h2.8M71.5,329.2h2.8M74.9,324.1V327.4M73.5,324.1h2.8M73.5,327.4h2.8M76.9,323.0V327.5M75.5,323.0h2.8M75.5,327.5h2.8M79.0,325.0V328.2M77.6,325.0h2.8M77.6,328.2h2.8M81.0,322.7V326.2M79.6,322.7h2.8M79.6,326.2h2.8M83.0,323.5V326.8M81.6,323.5h2.8M81.6,326.8h2.8M85.1,325.6V330.2M83.7,325.6h2.8M83.7,330.2h2.8" stroke="#000" stroke-width="0.6" fill="none"/>
<g fill="#b0b0b0" stroke="#000" stroke-width="0.65"><circle cx="46.5" cy="326.5" r="1.75"/><circle cx="48.5" cy="327.1" r="1.75"/><circle cx="50.6" cy="326.1" r="1.75"/><circle cx="52.6" cy="327.5" r="1.75"/><circle cx="54.6" cy="324.5" r="1.75"/><circle cx="56.6" cy="324.8" r="1.75"/><circle cx="58.7" cy="327.8" r="1.75"/><circle cx="60.7" cy="324.5" r="1.75"/><circle cx="62.7" cy="327.5" r="1.75"/><circle cx="64.8" cy="326.6" r="1.75"/><circle cx="66.8" cy="327.0" r="1.75"/><circle cx="68.8" cy="325.8" r="1.75"/><circle cx="70.9" cy="327.9" r="1.75"/><circle cx="72.9" cy="327.3" r="1.75"/><circle cx="74.9" cy="325.8" r="1.75"/><circle cx="76.9" cy="325.2" r="1.75"/><circle cx="79.0" cy="326.6" r="1.75"/><circle cx="81.0" cy="324.4" r="1.75"/><circle cx="83.0" cy="325.1" r="1.75"/><circle cx="85.1" cy="327.9" r="1.75"/></g>
<path d="M87.1,246.9V258.6M85.7,246.9h2.8M85.7,258.6h2.8M89.1,257.2V264.6M87.7,257.2h2.8M87.7,264.6h2.8M91.2,264.3V273.0M89.8,264.3h2.8M89.8,273.0h2.8M93.2,268.6V280.2M91.8,268.6h2.8M91.8,280.2h2.8M95.2,280.5V286.0M93.8,280.5h2.8M93.8,286.0h2.8M97.2,285.2V292.8M95.8,285.2h2.8M95.8,292.8h2.8M99.3,290.9V295.3M97.9,290.9h2.8M97.9,295.3h2.8M101.3,291.5V297.0M99.9,291.5h2.8M99.9,297.0h2.8M103.3,290.0V297.3M101.9,290.0h2.8M101.9,297.3h2.8M105.4,290.2V297.9M104.0,290.2h2.8M104.0,297.9h2.8M107.4,291.1V296.4M106.0,291.1h2.8M106.0,296.4h2.8M109.4,291.4V298.9M108.0,291.4h2.8M108.0,298.9h2.8M111.5,292.0V296.3M110.1,292.0h2.8M110.1,296.3h2.8M113.5,291.6V297.1M112.1,291.6h2.8M112.1,297.1h2.8M115.5,292.3V297.6M114.1,292.3h2.8M114.1,297.6h2.8M117.5,293.3V297.5M116.1,293.3h2.8M116.1,297.5h2.8M119.6,292.6V297.9M118.2,292.6h2.8M118.2,297.9h2.8M121.6,291.8V296.4M120.2,291.8h2.8M120.2,296.4h2.8M123.6,291.7V296.5M122.2,291.7h2.8M122.2,296.5h2.8M125.7,291.7V298.8M124.3,291.7h2.8M124.3,298.8h2.8M127.7,291.6V297.3M126.3,291.6h2.8M126.3,297.3h2.8M129.7,293.0V298.8M128.3,293.0h2.8M128.3,298.8h2.8M131.8,291.6V299.0M130.4,291.6h2.8M130.4,299.0h2.8M133.8,293.0V298.4M132.4,293.0h2.8M132.4,298.4h2.8M135.8,292.3V296.5M134.4,292.3h2.8M134.4,296.5h2.8M137.8,291.8V298.8M136.4,291.8h2.8M136.4,298.8h2.8M139.9,292.6V296.8M138.5,292.6h2.8M138.5,296.8h2.8M141.9,293.9V298.3M140.5,293.9h2.8M140.5,298.3h2.8M143.9,291.9V297.0M142.5,291.9h2.8M142.5,297.0h2.8M146.0,291.1V298.5M144.6,291.1h2.8M144.6,298.5h2.8M148.0,293.0V298.1M146.6,293.0h2.8M146.6,298.1h2.8M150.0,291.3V297.6M148.6,291.3h2.8M148.6,297.6h2.8M152.1,292.4V299.1M150.7,292.4h2.8M150.7,299.1h2.8M154.1,293.1V298.2M152.7,293.1h2.8M152.7,298.2h2.8M156.1,292.9V299.7M154.7,292.9h2.8M154.7,299.7h2.8M158.1,291.4V297.8M156.7,291.4h2.8M156.7,297.8h2.8M160.2,292.5V296.7M158.8,292.5h2.8M158.8,296.7h2.8M162.2,293.0V298.8M160.8,293.0h2.8M160.8,298.8h2.8M164.2,290.9V298.4M162.8,290.9h2.8M162.8,298.4h2.8M166.3,293.2V298.2M164.9,293.2h2.8M164.9,298.2h2.8M168.3,292.7V298.6M166.9,292.7h2.8M166.9,298.6h2.8M170.3,292.3V297.1M168.9,292.3h2.8M168.9,297.1h2.8M172.4,291.6V298.4M171.0,291.6h2.8M171.0,298.4h2.8M174.4,291.5V298.4M173.0,291.5h2.8M173.0,298.4h2.8M176.4,292.7V298.0M175.0,292.7h2.8M175.0,298.0h2.8M178.4,293.2V298.7M177.0,293.2h2.8M177.0,298.7h2.8M180.5,292.9V297.3M179.1,292.9h2.8M179.1,297.3h2.8M182.5,292.8V299.6M181.1,292.8h2.8M181.1,299.6h2.8M184.5,294.0V298.3M183.1,294.0h2.8M183.1,298.3h2.8M186.6,293.5V299.6M185.2,293.5h2.8M185.2,299.6h2.8M188.6,292.2V299.8M187.2,292.2h2.8M187.2,299.8h2.8" stroke="#000" stroke-width="0.6" fill="none"/>
<g fill="#b0b0b0" stroke="#000" stroke-width="0.65"><circle cx="87.1" cy="252.7" r="1.75"/><circle cx="89.1" cy="260.9" r="1.75"/><circle cx="91.2" cy="268.6" r="1.75"/><circle cx="93.2" cy="274.4" r="1.75"/><circle cx="95.2" cy="283.2" r="1.75"/><circle cx="97.2" cy="289.0" r="1.75"/><circle cx="99.3" cy="293.1" r="1.75"/><circle cx="101.3" cy="294.2" r="1.75"/><circle cx="103.3" cy="293.7" r="1.75"/><circle cx="105.4" cy="294.0" r="1.75"/><circle cx="107.4" cy="293.7" r="1.75"/><circle cx="109.4" cy="295.1" r="1.75"/><circle cx="111.5" cy="294.2" r="1.75"/><circle cx="113.5" cy="294.4" r="1.75"/><circle cx="115.5" cy="295.0" r="1.75"/><circle cx="117.5" cy="295.4" r="1.75"/><circle cx="119.6" cy="295.3" r="1.75"/><circle cx="121.6" cy="294.1" r="1.75"/><circle cx="123.6" cy="294.1" r="1.75"/><circle cx="125.7" cy="295.3" r="1.75"/><circle cx="127.7" cy="294.5" r="1.75"/><circle cx="129.7" cy="295.9" r="1.75"/><circle cx="131.8" cy="295.3" r="1.75"/><circle cx="133.8" cy="295.7" r="1.75"/><circle cx="135.8" cy="294.4" r="1.75"/><circle cx="137.8" cy="295.3" r="1.75"/><circle cx="139.9" cy="294.7" r="1.75"/><circle cx="141.9" cy="296.1" r="1.75"/><circle cx="143.9" cy="294.5" r="1.75"/><circle cx="146.0" cy="294.8" r="1.75"/><circle cx="148.0" cy="295.6" r="1.75"/><circle cx="150.0" cy="294.5" r="1.75"/><circle cx="152.1" cy="295.8" r="1.75"/><circle cx="154.1" cy="295.7" r="1.75"/><circle cx="156.1" cy="296.3" r="1.75"/><circle cx="158.1" cy="294.6" r="1.75"/><circle cx="160.2" cy="294.6" r="1.75"/><circle cx="162.2" cy="295.9" r="1.75"/><circle cx="164.2" cy="294.6" r="1.75"/><circle cx="166.3" cy="295.7" r="1.75"/><circle cx="168.3" cy="295.6" r="1.75"/><circle cx="170.3" cy="294.7" r="1.75"/><circle cx="172.4" cy="295.0" r="1.75"/><circle cx="174.4" cy="295.0" r="1.75"/><circle cx="176.4" cy="295.4" r="1.75"/><circle cx="178.4" cy="295.9" r="1.75"/><circle cx="180.5" cy="295.1" r="1.75"/><circle cx="182.5" cy="296.2" r="1.75"/><circle cx="184.5" cy="296.1" r="1.75"/><circle cx="186.6" cy="296.6" r="1.75"/><circle cx="188.6" cy="296.0" r="1.75"/></g>
<path d="M46.5,322.2V326.5M45.1,322.2h2.8M45.1,326.5h2.8M48.5,326.8V329.2M47.1,326.8h2.8M47.1,329.2h2.8M50.6,327.3V330.6M49.2,327.3h2.8M49.2,330.6h2.8M52.6,323.8V326.9M51.2,323.8h2.8M51.2,326.9h2.8M54.6,326.6V329.7M53.2,326.6h2.8M53.2,329.7h2.8M56.6,324.1V327.7M55.2,324.1h2.8M55.2,327.7h2.8M58.7,323.1V327.1M57.3,323.1h2.8M57.3,327.1h2.8M60.7,324.4V326.9M59.3,324.4h2.8M59.3,326.9h2.8M62.7,323.1V326.0M61.3,323.1h2.8M61.3,326.0h2.8M64.8,324.7V327.7M63.4,324.7h2.8M63.4,327.7h2.8M66.8,323.8V326.5M65.4,323.8h2.8M65.4,326.5h2.8M68.8,326.7V329.5M67.4,326.7h2.8M67.4,329.5h2.8M70.9,326.6V330.7M69.5,326.6h2.8M69.5,330.7h2.8M72.9,324.7V327.6M71.5,324.7h2.8M71.5,327.6h2.8M74.9,325.1V329.3M73.5,325.1h2.8M73.5,329.3h2.8M76.9,325.2V327.9M75.5,325.2h2.8M75.5,327.9h2.8M79.0,323.0V326.6M77.6,323.0h2.8M77.6,326.6h2.8M81.0,322.4V324.9M79.6,322.4h2.8M79.6,324.9h2.8M83.0,324.8V328.7M81.6,324.8h2.8M81.6,328.7h2.8M85.1,322.5V326.6M83.7,322.5h2.8M83.7,326.6h2.8" stroke="#000" stroke-width="0.6" fill="none"/>
<g fill="#0000ff" stroke="#000" stroke-width="0.65"><circle cx="46.5" cy="324.3" r="1.75"/><circle cx="48.5" cy="328.0" r="1.75"/><circle cx="50.6" cy="329.0" r="1.75"/><circle cx="52.6" cy="325.4" r="1.75"/><circle cx="54.6" cy="328.2" r="1.75"/><circle cx="56.6" cy="325.9" r="1.75"/><circle cx="58.7" cy="325.1" r="1.75"/><circle cx="60.7" cy="325.6" r="1.75"/><circle cx="62.7" cy="324.6" r="1.75"/><circle cx="64.8" cy="326.2" r="1.75"/><circle cx="66.8" cy="325.2" r="1.75"/><circle cx="68.8" cy="328.1" r="1.75"/><circle cx="70.9" cy="328.6" r="1.75"/><circle cx="72.9" cy="326.1" r="1.75"/><circle cx="74.9" cy="327.2" r="1.75"/><circle cx="76.9" cy="326.6" r="1.75"/><circle cx="79.0" cy="324.8" r="1.75"/><circle cx="81.0" cy="323.7" r="1.75"/><circle cx="83.0" cy="326.7" r="1.75"/><circle cx="85.1" cy="324.6" r="1.75"/></g>
<path d="M87.1,263.7V268.9M85.7,263.7h2.8M85.7,268.9h2.8M89.1,274.7V279.5M87.7,274.7h2.8M87.7,279.5h2.8M91.2,277.3V283.5M89.8,277.3h2.8M89.8,283.5h2.8M93.2,285.8V291.2M91.8,285.8h2.8M91.8,291.2h2.8M95.2,291.8V297.6M93.8,291.8h2.8M93.8,297.6h2.8M97.2,297.3V304.2M95.8,297.3h2.8M95.8,304.2h2.8M99.3,298.0V302.5M97.9,298.0h2.8M97.9,302.5h2.8M101.3,299.7V306.0M99.9,299.7h2.8M99.9,306.0h2.8M103.3,302.8V308.3M101.9,302.8h2.8M101.9,308.3h2.8M105.4,303.6V308.5M104.0,303.6h2.8M104.0,308.5h2.8M107.4,302.5V308.7M106.0,302.5h2.8M106.0,308.7h2.8M109.4,301.5V306.3M108.0,301.5h2.8M108.0,306.3h2.8M111.5,304.3V309.6M110.1,304.3h2.8M110.1,309.6h2.8M113.5,301.6V306.4M112.1,301.6h2.8M112.1,306.4h2.8M115.5,303.4V308.2M114.1,303.4h2.8M114.1,308.2h2.8M117.5,300.6V306.7M116.1,300.6h2.8M116.1,306.7h2.8M119.6,304.9V309.4M118.2,304.9h2.8M118.2,309.4h2.8M121.6,302.7V308.8M120.2,302.7h2.8M120.2,308.8h2.8M123.6,302.5V306.9M122.2,302.5h2.8M122.2,306.9h2.8M125.7,303.7V310.3M124.3,303.7h2.8M124.3,310.3h2.8M127.7,303.4V308.6M126.3,303.4h2.8M126.3,308.6h2.8M129.7,302.7V310.2M128.3,302.7h2.8M128.3,310.2h2.8M131.8,303.4V309.6M130.4,303.4h2.8M130.4,309.6h2.8M133.8,303.5V309.1M132.4,303.5h2.8M132.4,309.1h2.8M135.8,300.2V307.8M134.4,300.2h2.8M134.4,307.8h2.8M137.8,303.9V308.7M136.4,303.9h2.8M136.4,308.7h2.8M139.9,302.2V307.1M138.5,302.2h2.8M138.5,307.1h2.8M141.9,304.3V311.7M140.5,304.3h2.8M140.5,311.7h2.8M143.9,302.6V309.6M142.5,302.6h2.8M142.5,309.6h2.8M146.0,302.6V309.8M144.6,302.6h2.8M144.6,309.8h2.8M148.0,303.6V308.3M146.6,303.6h2.8M146.6,308.3h2.8M150.0,305.0V311.1M148.6,305.0h2.8M148.6,311.1h2.8M152.1,301.5V308.9M150.7,301.5h2.8M150.7,308.9h2.8M154.1,304.6V310.9M152.7,304.6h2.8M152.7,310.9h2.8M156.1,303.5V309.4M154.7,303.5h2.8M154.7,309.4h2.8M158.1,305.0V310.1M156.7,305.0h2.8M156.7,310.1h2.8M160.2,302.1V309.5M158.8,302.1h2.8M158.8,309.5h2.8M162.2,304.8V310.7M160.8,304.8h2.8M160.8,310.7h2.8M164.2,300.8V308.4M162.8,300.8h2.8M162.8,308.4h2.8M166.3,305.1V309.7M164.9,305.1h2.8M164.9,309.7h2.8M168.3,300.2V307.8M166.9,300.2h2.8M166.9,307.8h2.8M170.3,304.0V308.3M168.9,304.0h2.8M168.9,308.3h2.8M172.4,301.3V306.9M171.0,301.3h2.8M171.0,306.9h2.8M174.4,301.1V307.4M173.0,301.1h2.8M173.0,307.4h2.8M176.4,302.3V307.0M175.0,302.3h2.8M175.0,307.0h2.8M178.4,302.3V307.3M177.0,302.3h2.8M177.0,307.3h2.8M180.5,303.0V310.2M179.1,303.0h2.8M179.1,310.2h2.8M182.5,302.3V307.0M181.1,302.3h2.8M181.1,307.0h2.8M184.5,304.7V310.3M183.1,304.7h2.8M183.1,310.3h2.8M186.6,303.4V308.9M185.2,303.4h2.8M185.2,308.9h2.8M188.6,305.5V310.5M187.2,305.5h2.8M187.2,310.5h2.8" stroke="#000" stroke-width="0.6" fill="none"/>
<g fill="#0000ff" stroke="#000" stroke-width="0.65"><circle cx="87.1" cy="266.3" r="1.75"/><circle cx="89.1" cy="277.1" r="1.75"/><circle cx="91.2" cy="280.4" r="1.75"/><circle cx="93.2" cy="288.5" r="1.75"/><circle cx="95.2" cy="294.7" r="1.75"/><circle cx="97.2" cy="300.8" r="1.75"/><circle cx="99.3" cy="300.2" r="1.75"/><circle cx="101.3" cy="302.8" r="1.75"/><circle cx="103.3" cy="305.6" r="1.75"/><circle cx="105.4" cy="306.0" r="1.75"/><circle cx="107.4" cy="305.6" r="1.75"/><circle cx="109.4" cy="303.9" r="1.75"/><circle cx="111.5" cy="306.9" r="1.75"/><circle cx="113.5" cy="304.0" r="1.75"/><circle cx="115.5" cy="305.8" r="1.75"/><circle cx="117.5" cy="303.7" r="1.75"/><circle cx="119.6" cy="307.1" r="1.75"/><circle cx="121.6" cy="305.7" r="1.75"/><circle cx="123.6" cy="304.7" r="1.75"/><circle cx="125.7" cy="307.0" r="1.75"/><circle cx="127.7" cy="306.0" r="1.75"/><circle cx="129.7" cy="306.5" r="1.75"/><circle cx="131.8" cy="306.5" r="1.75"/><circle cx="133.8" cy="306.3" r="1.75"/><circle cx="135.8" cy="304.0" r="1.75"/><circle cx="137.8" cy="306.3" r="1.75"/><circle cx="139.9" cy="304.7" r="1.75"/><circle cx="141.9" cy="308.0" r="1.75"/><circle cx="143.9" cy="306.1" r="1.75"/><circle cx="146.0" cy="306.2" r="1.75"/><circle cx="148.0" cy="306.0" r="1.75"/><circle cx="150.0" cy="308.0" r="1.75"/><circle cx="152.1" cy="305.2" r="1.75"/><circle cx="154.1" cy="307.8" r="1.75"/><circle cx="156.1" cy="306.5" r="1.75"/><circle cx="158.1" cy="307.5" r="1.75"/><circle cx="160.2" cy="305.8" r="1.75"/><circle cx="162.2" cy="307.7" r="1.75"/><circle cx="164.2" cy="304.6" r="1.75"/><circle cx="166.3" cy="307.4" r="1.75"/><circle cx="168.3" cy="304.0" r="1.75"/><circle cx="170.3" cy="306.1" r="1.75"/><circle cx="172.4" cy="304.1" r="1.75"/><circle cx="174.4" cy="304.2" r="1.75"/><circle cx="176.4" cy="304.6" r="1.75"/><circle cx="178.4" cy="304.8" r="1.75"/><circle cx="180.5" cy="306.6" r="1.75"/><circle cx="182.5" cy="304.7" r="1.75"/><circle cx="184.5" cy="307.5" r="1.75"/><circle cx="186.6" cy="306.1" r="1.75"/><circle cx="188.6" cy="308.0" r="1.75"/></g>
<path d="M46.5,323.2V327.3M45.1,323.2h2.8M45.1,327.3h2.8M48.5,327.6V331.0M47.1,327.6h2.8M47.1,331.0h2.8M50.6,323.9V326.3M49.2,323.9h2.8M49.2,326.3h2.8M52.6,323.3V325.9M51.2,323.3h2.8M51.2,325.9h2.8M54.6,324.3V327.7M53.2,324.3h2.8M53.2,327.7h2.8M56.6,324.4V327.3M55.2,324.4h2.8M55.2,327.3h2.8M58.7,325.3V328.8M57.3,325.3h2.8M57.3,328.8h2.8M60.7,325.2V328.8M59.3,325.2h2.8M59.3,328.8h2.8M62.7,325.3V328.5M61.3,325.3h2.8M61.3,328.5h2.8M64.8,327.7V331.2M63.4,327.7h2.8M63.4,331.2h2.8M66.8,325.3V328.0M65.4,325.3h2.8M65.4,328.0h2.8M68.8,323.1V327.0M67.4,323.1h2.8M67.4,327.0h2.8M70.9,325.5V328.2M69.5,325.5h2.8M69.5,328.2h2.8M72.9,325.5V328.0M71.5,325.5h2.8M71.5,328.0h2.8M74.9,327.2V330.4M73.5,327.2h2.8M73.5,330.4h2.8M76.9,327.4V330.6M75.5,327.4h2.8M75.5,330.6h2.8M79.0,325.3V327.7M77.6,325.3h2.8M77.6,327.7h2.8M81.0,324.6V327.0M79.6,324.6h2.8M79.6,327.0h2.8M83.0,323.3V327.1M81.6,323.3h2.8M81.6,327.1h2.8M85.1,325.3V327.7M83.7,325.3h2.8M83.7,327.7h2.8" stroke="#000" stroke-width="0.6" fill="none"/>
<g fill="#ff0000" stroke="#000" stroke-width="0.65"><circle cx="46.5" cy="325.3" r="1.75"/><circle cx="48.5" cy="329.3" r="1.75"/><circle cx="50.6" cy="325.1" r="1.75"/><circle cx="52.6" cy="324.6" r="1.75"/><circle cx="54.6" cy="326.0" r="1.75"/><circle cx="56.6" cy="325.8" r="1.75"/><circle cx="58.7" cy="327.1" r="1.75"/><circle cx="60.7" cy="327.0" r="1.75"/><circle cx="62.7" cy="326.9" r="1.75"/><circle cx="64.8" cy="329.4" r="1.75"/><circle cx="66.8" cy="326.7" r="1.75"/><circle cx="68.8" cy="325.0" r="1.75"/><circle cx="70.9" cy="326.8" r="1.75"/><circle cx="72.9" cy="326.8" r="1.75"/><circle cx="74.9" cy="328.8" r="1.75"/><circle cx="76.9" cy="329.0" r="1.75"/><circle cx="79.0" cy="326.5" r="1.75"/><circle cx="81.0" cy="325.8" r="1.75"/><circle cx="83.0" cy="325.2" r="1.75"/><circle cx="85.1" cy="326.5" r="1.75"/></g>
<path d="M87.1,273.9V279.4M85.7,273.9h2.8M85.7,279.4h2.8M89.1,275.6V280.2M87.7,275.6h2.8M87.7,280.2h2.8M91.2,284.3V292.0M89.8,284.3h2.8M89.8,292.0h2.8M93.2,293.8V300.8M91.8,293.8h2.8M91.8,300.8h2.8M95.2,301.2V308.8M93.8,301.2h2.8M93.8,308.8h2.8M97.2,303.2V310.7M95.8,303.2h2.8M95.8,310.7h2.8M99.3,303.9V308.7M97.9,303.9h2.8M97.9,308.7h2.8M101.3,303.3V310.8M99.9,303.3h2.8M99.9,310.8h2.8M103.3,307.8V313.2M101.9,307.8h2.8M101.9,313.2h2.8M105.4,305.2V309.9M104.0,305.2h2.8M104.0,309.9h2.8M107.4,304.5V309.6M106.0,304.5h2.8M106.0,309.6h2.8M109.4,305.1V309.7M108.0,305.1h2.8M108.0,309.7h2.8M111.5,305.1V312.6M110.1,305.1h2.8M110.1,312.6h2.8M113.5,307.7V312.7M112.1,307.7h2.8M112.1,312.7h2.8M115.5,306.2V311.5M114.1,306.2h2.8M114.1,311.5h2.8M117.5,308.6V313.4M116.1,308.6h2.8M116.1,313.4h2.8M119.6,306.7V314.1M118.2,306.7h2.8M118.2,314.1h2.8M121.6,304.4V311.7M120.2,304.4h2.8M120.2,311.7h2.8M123.6,306.9V313.8M122.2,306.9h2.8M122.2,313.8h2.8M125.7,307.6V313.6M124.3,307.6h2.8M124.3,313.6h2.8M127.7,305.5V310.9M126.3,305.5h2.8M126.3,310.9h2.8M129.7,304.1V310.2M128.3,304.1h2.8M128.3,310.2h2.8M131.8,304.8V312.1M130.4,304.8h2.8M130.4,312.1h2.8M133.8,306.8V314.4M132.4,306.8h2.8M132.4,314.4h2.8M135.8,305.4V310.9M134.4,305.4h2.8M134.4,310.9h2.8M137.8,304.8V309.9M136.4,304.8h2.8M136.4,309.9h2.8M139.9,303.4V309.6M138.5,303.4h2.8M138.5,309.6h2.8M141.9,305.9V312.8M140.5,305.9h2.8M140.5,312.8h2.8M143.9,306.6V311.3M142.5,306.6h2.8M142.5,311.3h2.8M146.0,305.4V309.7M144.6,305.4h2.8M144.6,309.7h2.8M148.0,304.7V309.7M146.6,304.7h2.8M146.6,309.7h2.8M150.0,304.2V311.8M148.6,304.2h2.8M148.6,311.8h2.8M152.1,305.0V311.5M150.7,305.0h2.8M150.7,311.5h2.8M154.1,307.4V311.5M152.7,307.4h2.8M152.7,311.5h2.8M156.1,308.4V313.0M154.7,308.4h2.8M154.7,313.0h2.8M158.1,305.2V310.8M156.7,305.2h2.8M156.7,310.8h2.8M160.2,304.8V312.1M158.8,304.8h2.8M158.8,312.1h2.8M162.2,307.7V312.7M160.8,307.7h2.8M160.8,312.7h2.8M164.2,305.7V309.9M162.8,305.7h2.8M162.8,309.9h2.8M166.3,308.0V313.4M164.9,308.0h2.8M164.9,313.4h2.8M168.3,307.5V312.9M166.9,307.5h2.8M166.9,312.9h2.8M170.3,306.6V312.8M168.9,306.6h2.8M168.9,312.8h2.8M172.4,305.5V310.4M171.0,305.5h2.8M171.0,310.4h2.8M174.4,304.9V310.7M173.0,304.9h2.8M173.0,310.7h2.8M176.4,306.3V313.7M175.0,306.3h2.8M175.0,313.7h2.8M178.4,307.2V311.8M177.0,307.2h2.8M177.0,311.8h2.8M180.5,306.9V313.4M179.1,306.9h2.8M179.1,313.4h2.8M182.5,303.1V310.0M181.1,303.1h2.8M181.1,310.0h2.8M184.5,306.2V311.2M183.1,306.2h2.8M183.1,311.2h2.8M186.6,307.3V313.7M185.2,307.3h2.8M185.2,313.7h2.8M188.6,305.2V310.6M187.2,305.2h2.8M187.2,310.6h2.8" stroke="#000" stroke-width="0.6" fill="none"/>
<g fill="#ff0000" stroke="#000" stroke-width="0.65"><circle cx="87.1" cy="276.6" r="1.75"/><circle cx="89.1" cy="277.9" r="1.75"/><circle cx="91.2" cy="288.2" r="1.75"/><circle cx="93.2" cy="297.3" r="1.75"/><circle cx="95.2" cy="305.0" r="1.75"/><circle cx="97.2" cy="306.9" r="1.75"/><circle cx="99.3" cy="306.3" r="1.75"/><circle cx="101.3" cy="307.0" r="1.75"/><circle cx="103.3" cy="310.5" r="1.75"/><circle cx="105.4" cy="307.5" r="1.75"/><circle cx="107.4" cy="307.0" r="1.75"/><circle cx="109.4" cy="307.4" r="1.75"/><circle cx="111.5" cy="308.9" r="1.75"/><circle cx="113.5" cy="310.2" r="1.75"/><circle cx="115.5" cy="308.8" r="1.75"/><circle cx="117.5" cy="311.0" r="1.75"/><circle cx="119.6" cy="310.4" r="1.75"/><circle cx="121.6" cy="308.0" r="1.75"/><circle cx="123.6" cy="310.4" r="1.75"/><circle cx="125.7" cy="310.6" r="1.75"/><circle cx="127.7" cy="308.2" r="1.75"/><circle cx="129.7" cy="307.1" r="1.75"/><circle cx="131.8" cy="308.4" r="1.75"/><circle cx="133.8" cy="310.6" r="1.75"/><circle cx="135.8" cy="308.2" r="1.75"/><circle cx="137.8" cy="307.4" r="1.75"/><circle cx="139.9" cy="306.5" r="1.75"/><circle cx="141.9" cy="309.4" r="1.75"/><circle cx="143.9" cy="309.0" r="1.75"/><circle cx="146.0" cy="307.5" r="1.75"/><circle cx="148.0" cy="307.2" r="1.75"/><circle cx="150.0" cy="308.0" r="1.75"/><circle cx="152.1" cy="308.2" r="1.75"/><circle cx="154.1" cy="309.4" r="1.75"/><circle cx="156.1" cy="310.7" r="1.75"/><circle cx="158.1" cy="308.0" r="1.75"/><circle cx="160.2" cy="308.5" r="1.75"/><circle cx="162.2" cy="310.2" r="1.75"/><circle cx="164.2" cy="307.8" r="1.75"/><circle cx="166.3" cy="310.7" r="1.75"/><circle cx="168.3" cy="310.2" r="1.75"/><circle cx="170.3" cy="309.7" r="1.75"/><circle cx="172.4" cy="308.0" r="1.75"/><circle cx="174.4" cy="307.8" r="1.75"/><circle cx="176.4" cy="310.0" r="1.75"/><circle cx="178.4" cy="309.5" r="1.75"/><circle cx="180.5" cy="310.2" r="1.75"/><circle cx="182.5" cy="306.6" r="1.75"/><circle cx="184.5" cy="308.7" r="1.75"/><circle cx="186.6" cy="310.5" r="1.75"/><circle cx="188.6" cy="307.9" r="1.75"/></g>
<text x="78.00" y="319.00" font-size="9.5" text-anchor="start" fill="#000" >1</text>
<text x="180.80" y="323.60" font-size="9.5" text-anchor="start" fill="#000" >2</text>
<path d="M81.40,237.1 L87.40,237.1 L84.40,246 Z M83.50,237.1 L89.50,237.1 L86.50,246 Z " fill="#000"/>
<line x1="84.40" y1="232.00" x2="84.40" y2="237.50" stroke="#000" stroke-width="0.9" />
<line x1="86.50" y1="232.00" x2="86.50" y2="237.50" stroke="#000" stroke-width="0.9" />
<text x="93.70" y="241.70" font-size="10" text-anchor="start" fill="#000" >2× TBS</text>
<rect x="129.00" y="251.00" width="8.00" height="8.00" fill="#a6a6a6" stroke="none" stroke-width="0"/>
<text x="142.00" y="258.95" font-size="10.0" text-anchor="start" fill="#a6a6a6" >Euploid</text>
<rect x="129.00" y="264.60" width="8.00" height="8.00" fill="#0000ff" stroke="none" stroke-width="0"/>
<text x="142.00" y="272.55" font-size="10.0" text-anchor="start" fill="#0000ff" >Ts2Cje</text>
<rect x="129.00" y="278.20" width="8.00" height="8.00" fill="#ff0000" stroke="none" stroke-width="0"/>
<text x="142.00" y="286.15" font-size="10.0" fill="#ff0000">Ts<tspan font-style="italic" dx="0.8">Grik1</tspan><tspan font-size="7.00" dy="-3.60" dx="-0.4">+/−</tspan></text>
<path d="M48.9,338.3 L49.9,338.2 L50.9,338.4 L51.9,338.3 L52.9,338.1 L53.9,338.4 L54.9,338.0 L55.9,338.2 L56.9,338.2 L57.0,339.4 L57.3,337.4 L58.5,367.0 L59.0,364.7 L59.5,362.7 L60.0,361.2 L60.5,359.1 L61.0,357.8 L61.5,356.6 L62.0,354.8 L62.5,353.6 L63.0,352.7 L63.5,351.5 L64.0,350.6 L64.5,349.8 L65.0,348.6 L65.5,347.9 L66.0,347.2 L66.5,346.4 L67.5,345.6 L68.5,344.5 L69.5,343.6 L70.5,342.5 L71.5,342.3 L72.5,341.7 L73.5,341.0 L74.5,340.8 L75.5,340.3 L76.5,339.9 L77.5,339.6 L78.5,339.4 L79.5,339.1 L80.5,339.1 L81.5,339.2 L82.5,339.0" fill="none" stroke="#7a7a7a" stroke-width="0.8" stroke-linejoin="round" />
<path d="M48.9,338.4 L49.9,338.3 L50.9,338.1 L51.9,338.2 L52.9,338.2 L53.9,338.3 L54.9,338.2 L55.9,338.1 L56.9,338.3 L57.0,339.4 L57.3,337.4 L58.7,384.8 L59.2,381.0 L59.7,376.9 L60.2,373.9 L60.7,370.4 L61.2,367.7 L61.7,365.1 L62.2,363.0 L62.7,360.9 L63.2,358.9 L63.7,356.9 L64.2,355.5 L64.7,353.8 L65.2,352.4 L65.7,351.5 L66.2,350.2 L66.7,349.2 L67.7,347.4 L68.7,346.0 L69.7,344.5 L70.7,343.6 L71.7,342.7 L72.7,342.0 L73.7,341.2 L74.7,340.9 L75.7,340.4 L76.7,339.9 L77.7,339.5 L78.7,339.5 L79.7,339.0 L80.7,339.3 L81.7,338.7 L82.7,338.6" fill="none" stroke="#7a7a7a" stroke-width="0.8" stroke-linejoin="round" />
<path d="M86.3,338.0 L87.3,338.4 L88.3,338.1 L89.3,338.0 L90.3,338.0 L91.3,338.0 L92.3,338.3 L93.3,338.3 L94.2,339.4 L94.5,337.4 L95.4,363.0 L95.9,361.3 L96.4,359.6 L96.9,357.7 L97.4,356.5 L97.9,355.0 L98.4,354.0 L98.9,352.8 L99.4,351.8 L99.9,350.4 L100.4,349.9 L100.9,349.0 L101.4,348.3 L101.9,347.1 L102.4,346.5 L102.9,345.8 L103.4,345.2 L104.4,344.6 L105.4,343.7 L106.4,342.8 L107.4,342.3 L108.4,341.6 L109.4,341.0 L110.4,340.5 L111.4,340.1 L112.4,340.1 L113.4,339.6 L114.4,339.4 L115.4,339.3 L116.4,338.9 L117.4,338.9 L118.4,338.8 L119.4,338.9 L120.4,338.7" fill="none" stroke="#0000ff" stroke-width="0.8" stroke-linejoin="round" />
<path d="M86.3,338.1 L87.3,338.4 L88.3,338.2 L89.3,338.4 L90.3,338.3 L91.3,338.0 L92.3,338.2 L93.3,338.2 L94.2,339.4 L94.5,337.4 L95.6,374.3 L96.1,371.3 L96.6,368.2 L97.1,365.8 L97.6,363.3 L98.1,361.0 L98.6,359.3 L99.1,357.1 L99.6,355.8 L100.1,354.0 L100.6,352.5 L101.1,351.3 L101.6,350.5 L102.1,349.5 L102.6,348.1 L103.1,347.4 L103.6,346.6 L104.6,345.4 L105.6,343.9 L106.6,343.1 L107.6,342.2 L108.6,341.8 L109.6,340.9 L110.6,340.8 L111.6,340.1 L112.6,339.7 L113.6,339.7 L114.6,339.3 L115.6,339.0 L116.6,339.1 L117.6,338.7 L118.6,338.9 L119.6,338.8 L120.6,338.7" fill="none" stroke="#0000ff" stroke-width="0.8" stroke-linejoin="round" />
<path d="M122.9,338.3 L123.9,338.1 L124.9,338.2 L125.9,338.1 L126.9,338.4 L127.9,338.0 L128.9,338.4 L129.9,338.0 L130.9,338.1 L131.1,339.4 L131.4,337.4 L132.8,367.0 L133.3,364.7 L133.8,363.1 L134.3,361.1 L134.8,359.3 L135.3,358.0 L135.8,356.2 L136.3,355.0 L136.8,353.8 L137.3,352.7 L137.8,351.7 L138.3,350.6 L138.8,349.6 L139.3,348.7 L139.8,347.8 L140.3,347.5 L140.8,346.7 L141.8,345.5 L142.8,344.2 L143.8,343.5 L144.8,342.9 L145.8,342.1 L146.8,341.4 L147.8,341.0 L148.8,340.8 L149.8,340.2 L150.8,339.9 L151.8,339.6 L152.8,339.6 L153.8,339.5" fill="none" stroke="#ff0000" stroke-width="0.8" stroke-linejoin="round" />
<path d="M122.9,338.0 L123.9,338.0 L124.9,338.1 L125.9,338.1 L126.9,338.2 L127.9,338.0 L128.9,338.1 L129.9,338.0 L130.9,338.4 L131.1,339.4 L131.4,337.4 L133.0,382.4 L133.5,378.7 L134.0,374.9 L134.5,372.1 L135.0,368.7 L135.5,366.2 L136.0,364.1 L136.5,361.7 L137.0,359.7 L137.5,357.7 L138.0,355.9 L138.5,354.5 L139.0,352.9 L139.5,351.6 L140.0,350.5 L140.5,349.3 L141.0,348.5 L142.0,347.0 L143.0,345.5 L144.0,344.2 L145.0,343.3 L146.0,342.3 L147.0,341.5 L148.0,341.1 L149.0,340.6 L150.0,340.3 L151.0,340.1 L152.0,339.6 L153.0,339.4 L154.0,339.3" fill="none" stroke="#ff0000" stroke-width="0.8" stroke-linejoin="round" />
<path d="M76.70,350.20 L76.70,364.90 L67.60,364.90" fill="none" stroke="#333" stroke-width="0.9"/>
<path d="M113.60,350.20 L113.60,364.90 L104.60,364.90" fill="none" stroke="#333" stroke-width="0.9"/>
<path d="M149.80,350.20 L149.80,364.90 L142.30,364.90" fill="none" stroke="#333" stroke-width="0.9"/>
<text x="60.00" y="346.20" font-size="9.5" text-anchor="start" fill="#000" >1</text>
<text x="51.40" y="380.60" font-size="9.5" text-anchor="start" fill="#000" >2</text>
<text x="96.90" y="346.20" font-size="9.5" text-anchor="start" fill="#000" >1</text>
<text x="89.40" y="380.60" font-size="9.5" text-anchor="start" fill="#000" >2</text>
<text x="134.30" y="346.20" font-size="9.5" text-anchor="start" fill="#000" >1</text>
<text x="126.10" y="380.60" font-size="9.5" text-anchor="start" fill="#000" >2</text>
<text x="156.80" y="361.40" font-size="9.8" text-anchor="start" fill="#000" >0.4 mV</text>
<text x="143.30" y="375.40" font-size="9.8" text-anchor="start" fill="#000" >20 ms</text>
<text x="358.60" y="11.60" font-size="16" text-anchor="start" fill="#000" font-weight="bold" >b</text>
<text transform="translate(368.20,97.10) rotate(-90)" font-size="11.4" text-anchor="middle">fEPSP slope (%)</text>
<line x1="404.40" y1="9.46" x2="404.40" y2="171.00" stroke="#000" stroke-width="1" />
<line x1="402.10" y1="170.50" x2="404.40" y2="170.50" stroke="#000" stroke-width="0.9" />
<text x="397.10" y="174.85" font-size="11.3" text-anchor="end" fill="#000" >0</text>
<line x1="402.10" y1="143.66" x2="404.40" y2="143.66" stroke="#000" stroke-width="0.9" />
<text x="397.10" y="148.01" font-size="11.3" text-anchor="end" fill="#000" >20</text>
<line x1="402.10" y1="116.82" x2="404.40" y2="116.82" stroke="#000" stroke-width="0.9" />
<text x="397.10" y="121.17" font-size="11.3" text-anchor="end" fill="#000" >40</text>
<line x1="402.10" y1="89.98" x2="404.40" y2="89.98" stroke="#000" stroke-width="0.9" />
<text x="397.10" y="94.33" font-size="11.3" text-anchor="end" fill="#000" >60</text>
<line x1="402.10" y1="63.14" x2="404.40" y2="63.14" stroke="#000" stroke-width="0.9" />
<text x="397.10" y="67.49" font-size="11.3" text-anchor="end" fill="#000" >80</text>
<line x1="402.10" y1="36.30" x2="404.40" y2="36.30" stroke="#000" stroke-width="0.9" />
<text x="397.10" y="40.65" font-size="11.3" text-anchor="end" fill="#000" >100</text>
<line x1="402.10" y1="9.46" x2="404.40" y2="9.46" stroke="#000" stroke-width="0.9" />
<text x="397.10" y="13.81" font-size="11.3" text-anchor="end" fill="#000" >120</text>
<line x1="403.90" y1="170.50" x2="546.00" y2="170.50" stroke="#000" stroke-width="1" />
<line x1="404.60" y1="170.50" x2="404.60" y2="172.70" stroke="#000" stroke-width="0.9" />
<text x="404.60" y="186.10" font-size="11.3" text-anchor="middle" fill="#000" >−10</text>
<line x1="430.40" y1="170.50" x2="430.40" y2="172.70" stroke="#000" stroke-width="0.9" />
<text x="430.40" y="186.10" font-size="11.3" text-anchor="middle" fill="#000" >0</text>
<line x1="456.20" y1="170.50" x2="456.20" y2="172.70" stroke="#000" stroke-width="0.9" />
<text x="456.20" y="186.10" font-size="11.3" text-anchor="middle" fill="#000" >10</text>
<line x1="482.00" y1="170.50" x2="482.00" y2="172.70" stroke="#000" stroke-width="0.9" />
<text x="482.00" y="186.10" font-size="11.3" text-anchor="middle" fill="#000" >20</text>
<line x1="507.80" y1="170.50" x2="507.80" y2="172.70" stroke="#000" stroke-width="0.9" />
<text x="507.80" y="186.10" font-size="11.3" text-anchor="middle" fill="#000" >30</text>
<line x1="533.60" y1="170.50" x2="533.60" y2="172.70" stroke="#000" stroke-width="0.9" />
<text x="533.60" y="186.10" font-size="11.3" text-anchor="middle" fill="#000" >40</text>
<text x="470.70" y="203.00" font-size="11.4" text-anchor="middle" fill="#000" >Time (min)</text>
<line x1="430.40" y1="36.30" x2="546.50" y2="36.30" stroke="#222" stroke-width="0.9" stroke-dasharray="5.8,3.0"/>
<line x1="431.80" y1="23.50" x2="465.80" y2="23.50" stroke="#000" stroke-width="0.9" />
<text x="447.60" y="21.60" font-size="10" text-anchor="middle" fill="#000" >LFS</text>
<text x="422.30" y="27.30" font-size="10.4" text-anchor="start" fill="#000" >1</text>
<path d="M404.6,33.5V40.2M403.2,33.5h2.8M403.2,40.2h2.8M405.9,29.9V39.8M404.5,29.9h2.8M404.5,39.8h2.8M407.2,30.0V39.0M405.8,30.0h2.8M405.8,39.0h2.8M408.5,29.5V38.4M407.1,29.5h2.8M407.1,38.4h2.8M409.8,31.4V39.3M408.4,31.4h2.8M408.4,39.3h2.8M411.0,33.2V41.9M409.6,33.2h2.8M409.6,41.9h2.8M412.3,35.2V42.8M410.9,35.2h2.8M410.9,42.8h2.8M413.6,29.9V38.9M412.2,29.9h2.8M412.2,38.9h2.8M414.9,32.0V38.9M413.5,32.0h2.8M413.5,38.9h2.8M416.2,32.9V40.7M414.8,32.9h2.8M414.8,40.7h2.8M417.5,31.7V39.3M416.1,31.7h2.8M416.1,39.3h2.8M418.8,30.1V40.2M417.4,30.1h2.8M417.4,40.2h2.8M420.1,34.0V42.8M418.7,34.0h2.8M418.7,42.8h2.8M421.4,30.7V38.2M420.0,30.7h2.8M420.0,38.2h2.8M422.7,31.2V41.5M421.3,31.2h2.8M421.3,41.5h2.8M423.9,35.3V43.5M422.6,35.3h2.8M422.6,43.5h2.8M425.2,33.9V43.3M423.8,33.9h2.8M423.8,43.3h2.8M426.5,29.3V37.4M425.1,29.3h2.8M425.1,37.4h2.8M427.8,34.8V43.2M426.4,34.8h2.8M426.4,43.2h2.8M429.1,31.5V40.6M427.7,31.5h2.8M427.7,40.6h2.8" stroke="#000" stroke-width="0.6" fill="none"/>
<g fill="#8a8a8a" stroke="#000" stroke-width="0.65"><circle cx="404.6" cy="36.8" r="1.75"/><circle cx="405.9" cy="34.8" r="1.75"/><circle cx="407.2" cy="34.5" r="1.75"/><circle cx="408.5" cy="33.9" r="1.75"/><circle cx="409.8" cy="35.4" r="1.75"/><circle cx="411.0" cy="37.6" r="1.75"/><circle cx="412.3" cy="39.0" r="1.75"/><circle cx="413.6" cy="34.4" r="1.75"/><circle cx="414.9" cy="35.4" r="1.75"/><circle cx="416.2" cy="36.8" r="1.75"/><circle cx="417.5" cy="35.5" r="1.75"/><circle cx="418.8" cy="35.1" r="1.75"/><circle cx="420.1" cy="38.4" r="1.75"/><circle cx="421.4" cy="34.4" r="1.75"/><circle cx="422.7" cy="36.4" r="1.75"/><circle cx="423.9" cy="39.4" r="1.75"/><circle cx="425.2" cy="38.6" r="1.75"/><circle cx="426.5" cy="33.3" r="1.75"/><circle cx="427.8" cy="39.0" r="1.75"/><circle cx="429.1" cy="36.0" r="1.75"/></g>
<path d="M467.8,96.7V111.3M466.4,96.7h2.8M466.4,111.3h2.8M469.1,92.2V105.7M467.7,92.2h2.8M467.7,105.7h2.8M470.4,89.4V106.5M469.0,89.4h2.8M469.0,106.5h2.8M471.7,88.7V103.7M470.3,88.7h2.8M470.3,103.7h2.8M473.0,84.6V100.2M471.6,84.6h2.8M471.6,100.2h2.8M474.3,82.4V99.7M472.9,82.4h2.8M472.9,99.7h2.8M475.5,82.6V92.4M474.1,82.6h2.8M474.1,92.4h2.8M476.8,80.1V92.7M475.4,80.1h2.8M475.4,92.7h2.8M478.1,79.9V92.7M476.7,79.9h2.8M476.7,92.7h2.8M479.4,75.1V90.2M478.0,75.1h2.8M478.0,90.2h2.8M480.7,75.8V87.3M479.3,75.8h2.8M479.3,87.3h2.8M482.0,73.0V88.4M480.6,73.0h2.8M480.6,88.4h2.8M483.3,69.3V82.9M481.9,69.3h2.8M481.9,82.9h2.8M484.6,71.3V87.2M483.2,71.3h2.8M483.2,87.2h2.8M485.9,72.0V83.1M484.5,72.0h2.8M484.5,83.1h2.8M487.2,70.4V86.0M485.8,70.4h2.8M485.8,86.0h2.8M488.4,66.5V81.0M487.1,66.5h2.8M487.1,81.0h2.8M489.7,67.9V81.8M488.3,67.9h2.8M488.3,81.8h2.8M491.0,67.1V84.3M489.6,67.1h2.8M489.6,84.3h2.8M492.3,67.3V81.8M490.9,67.3h2.8M490.9,81.8h2.8M493.6,63.6V79.6M492.2,63.6h2.8M492.2,79.6h2.8M494.9,67.2V79.0M493.5,67.2h2.8M493.5,79.0h2.8M496.2,67.0V77.4M494.8,67.0h2.8M494.8,77.4h2.8M497.5,64.1V76.4M496.1,64.1h2.8M496.1,76.4h2.8M498.8,64.0V75.5M497.4,64.0h2.8M497.4,75.5h2.8M500.1,66.1V77.6M498.7,66.1h2.8M498.7,77.6h2.8M501.3,65.8V76.7M499.9,65.8h2.8M499.9,76.7h2.8M502.6,65.6V80.9M501.2,65.6h2.8M501.2,80.9h2.8M503.9,65.8V77.1M502.5,65.8h2.8M502.5,77.1h2.8M505.2,64.4V77.7M503.8,64.4h2.8M503.8,77.7h2.8M506.5,62.8V77.3M505.1,62.8h2.8M505.1,77.3h2.8M507.8,62.4V74.7M506.4,62.4h2.8M506.4,74.7h2.8M509.1,58.6V74.9M507.7,58.6h2.8M507.7,74.9h2.8M510.4,63.1V79.2M509.0,63.1h2.8M509.0,79.2h2.8M511.7,58.4V74.1M510.3,58.4h2.8M510.3,74.1h2.8M513.0,62.0V78.1M511.6,62.0h2.8M511.6,78.1h2.8M514.2,62.4V71.9M512.9,62.4h2.8M512.9,71.9h2.8M515.5,61.6V78.7M514.1,61.6h2.8M514.1,78.7h2.8M516.8,60.7V72.1M515.4,60.7h2.8M515.4,72.1h2.8M518.1,63.8V74.3M516.7,63.8h2.8M516.7,74.3h2.8M519.4,60.2V75.9M518.0,60.2h2.8M518.0,75.9h2.8M520.7,61.9V72.5M519.3,61.9h2.8M519.3,72.5h2.8M522.0,56.1V71.8M520.6,56.1h2.8M520.6,71.8h2.8M523.3,59.4V75.9M521.9,59.4h2.8M521.9,75.9h2.8M524.6,57.2V72.9M523.2,57.2h2.8M523.2,72.9h2.8M525.9,56.2V72.8M524.5,56.2h2.8M524.5,72.8h2.8M527.1,55.5V71.7M525.8,55.5h2.8M525.8,71.7h2.8M528.4,59.0V74.0M527.0,59.0h2.8M527.0,74.0h2.8M529.7,56.8V72.2M528.3,56.8h2.8M528.3,72.2h2.8M531.0,56.5V73.0M529.6,56.5h2.8M529.6,73.0h2.8M532.3,58.1V69.6M530.9,58.1h2.8M530.9,69.6h2.8M533.6,60.1V70.6M532.2,60.1h2.8M532.2,70.6h2.8M534.9,58.8V68.7M533.5,58.8h2.8M533.5,68.7h2.8M536.2,58.3V68.9M534.8,58.3h2.8M534.8,68.9h2.8M537.5,56.5V70.0M536.1,56.5h2.8M536.1,70.0h2.8M538.8,54.6V70.9M537.4,54.6h2.8M537.4,70.9h2.8M540.0,57.3V73.4M538.6,57.3h2.8M538.6,73.4h2.8M541.3,55.7V69.6M539.9,55.7h2.8M539.9,69.6h2.8M542.6,53.3V69.4M541.2,53.3h2.8M541.2,69.4h2.8M543.9,56.3V69.0M542.5,56.3h2.8M542.5,69.0h2.8M545.2,54.3V64.3M543.8,54.3h2.8M543.8,64.3h2.8" stroke="#000" stroke-width="0.6" fill="none"/>
<g fill="#8a8a8a" stroke="#000" stroke-width="0.65"><circle cx="467.8" cy="104.0" r="1.75"/><circle cx="469.1" cy="99.0" r="1.75"/><circle cx="470.4" cy="97.9" r="1.75"/><circle cx="471.7" cy="96.2" r="1.75"/><circle cx="473.0" cy="92.4" r="1.75"/><circle cx="474.3" cy="91.0" r="1.75"/><circle cx="475.5" cy="87.5" r="1.75"/><circle cx="476.8" cy="86.4" r="1.75"/><circle cx="478.1" cy="86.3" r="1.75"/><circle cx="479.4" cy="82.7" r="1.75"/><circle cx="480.7" cy="81.5" r="1.75"/><circle cx="482.0" cy="80.7" r="1.75"/><circle cx="483.3" cy="76.1" r="1.75"/><circle cx="484.6" cy="79.2" r="1.75"/><circle cx="485.9" cy="77.6" r="1.75"/><circle cx="487.2" cy="78.2" r="1.75"/><circle cx="488.4" cy="73.8" r="1.75"/><circle cx="489.7" cy="74.9" r="1.75"/><circle cx="491.0" cy="75.7" r="1.75"/><circle cx="492.3" cy="74.6" r="1.75"/><circle cx="493.6" cy="71.6" r="1.75"/><circle cx="494.9" cy="73.1" r="1.75"/><circle cx="496.2" cy="72.2" r="1.75"/><circle cx="497.5" cy="70.3" r="1.75"/><circle cx="498.8" cy="69.7" r="1.75"/><circle cx="500.1" cy="71.9" r="1.75"/><circle cx="501.3" cy="71.3" r="1.75"/><circle cx="502.6" cy="73.3" r="1.75"/><circle cx="503.9" cy="71.5" r="1.75"/><circle cx="505.2" cy="71.0" r="1.75"/><circle cx="506.5" cy="70.1" r="1.75"/><circle cx="507.8" cy="68.5" r="1.75"/><circle cx="509.1" cy="66.8" r="1.75"/><circle cx="510.4" cy="71.1" r="1.75"/><circle cx="511.7" cy="66.3" r="1.75"/><circle cx="513.0" cy="70.1" r="1.75"/><circle cx="514.2" cy="67.1" r="1.75"/><circle cx="515.5" cy="70.2" r="1.75"/><circle cx="516.8" cy="66.4" r="1.75"/><circle cx="518.1" cy="69.1" r="1.75"/><circle cx="519.4" cy="68.0" r="1.75"/><circle cx="520.7" cy="67.2" r="1.75"/><circle cx="522.0" cy="63.9" r="1.75"/><circle cx="523.3" cy="67.6" r="1.75"/><circle cx="524.6" cy="65.0" r="1.75"/><circle cx="525.9" cy="64.5" r="1.75"/><circle cx="527.1" cy="63.6" r="1.75"/><circle cx="528.4" cy="66.5" r="1.75"/><circle cx="529.7" cy="64.5" r="1.75"/><circle cx="531.0" cy="64.7" r="1.75"/><circle cx="532.3" cy="63.9" r="1.75"/><circle cx="533.6" cy="65.4" r="1.75"/><circle cx="534.9" cy="63.7" r="1.75"/><circle cx="536.2" cy="63.6" r="1.75"/><circle cx="537.5" cy="63.2" r="1.75"/><circle cx="538.8" cy="62.7" r="1.75"/><circle cx="540.0" cy="65.4" r="1.75"/><circle cx="541.3" cy="62.6" r="1.75"/><circle cx="542.6" cy="61.3" r="1.75"/><circle cx="543.9" cy="62.7" r="1.75"/><circle cx="545.2" cy="59.3" r="1.75"/></g>
<path d="M404.6,31.0V39.7M403.2,31.0h2.8M403.2,39.7h2.8M405.9,35.2V43.8M404.5,35.2h2.8M404.5,43.8h2.8M407.2,30.0V40.1M405.8,30.0h2.8M405.8,40.1h2.8M408.5,32.2V42.6M407.1,32.2h2.8M407.1,42.6h2.8M409.8,32.2V40.2M408.4,32.2h2.8M408.4,40.2h2.8M411.0,30.7V36.5M409.6,30.7h2.8M409.6,36.5h2.8M412.3,30.5V39.2M410.9,30.5h2.8M410.9,39.2h2.8M413.6,32.5V42.3M412.2,32.5h2.8M412.2,42.3h2.8M414.9,33.2V41.2M413.5,33.2h2.8M413.5,41.2h2.8M416.2,31.4V40.8M414.8,31.4h2.8M414.8,40.8h2.8M417.5,34.4V42.1M416.1,34.4h2.8M416.1,42.1h2.8M418.8,32.7V41.0M417.4,32.7h2.8M417.4,41.0h2.8M420.1,30.6V37.6M418.7,30.6h2.8M418.7,37.6h2.8M421.4,30.3V37.9M420.0,30.3h2.8M420.0,37.9h2.8M422.7,32.8V39.7M421.3,32.8h2.8M421.3,39.7h2.8M423.9,31.1V41.4M422.6,31.1h2.8M422.6,41.4h2.8M425.2,30.5V40.0M423.8,30.5h2.8M423.8,40.0h2.8M426.5,33.9V41.0M425.1,33.9h2.8M425.1,41.0h2.8M427.8,33.4V41.9M426.4,33.4h2.8M426.4,41.9h2.8M429.1,30.7V40.1M427.7,30.7h2.8M427.7,40.1h2.8" stroke="#000" stroke-width="0.6" fill="none"/>
<g fill="#0000ff" stroke="#000" stroke-width="0.65"><circle cx="404.6" cy="35.4" r="1.75"/><circle cx="405.9" cy="39.5" r="1.75"/><circle cx="407.2" cy="35.1" r="1.75"/><circle cx="408.5" cy="37.4" r="1.75"/><circle cx="409.8" cy="36.2" r="1.75"/><circle cx="411.0" cy="33.6" r="1.75"/><circle cx="412.3" cy="34.8" r="1.75"/><circle cx="413.6" cy="37.4" r="1.75"/><circle cx="414.9" cy="37.2" r="1.75"/><circle cx="416.2" cy="36.1" r="1.75"/><circle cx="417.5" cy="38.2" r="1.75"/><circle cx="418.8" cy="36.8" r="1.75"/><circle cx="420.1" cy="34.1" r="1.75"/><circle cx="421.4" cy="34.1" r="1.75"/><circle cx="422.7" cy="36.3" r="1.75"/><circle cx="423.9" cy="36.3" r="1.75"/><circle cx="425.2" cy="35.3" r="1.75"/><circle cx="426.5" cy="37.4" r="1.75"/><circle cx="427.8" cy="37.6" r="1.75"/><circle cx="429.1" cy="35.4" r="1.75"/></g>
<path d="M467.8,103.6V115.7M466.4,103.6h2.8M466.4,115.7h2.8M469.1,93.3V104.4M467.7,93.3h2.8M467.7,104.4h2.8M470.4,92.1V101.6M469.0,92.1h2.8M469.0,101.6h2.8M471.7,89.3V98.1M470.3,89.3h2.8M470.3,98.1h2.8M473.0,80.2V91.6M471.6,80.2h2.8M471.6,91.6h2.8M474.3,77.5V90.1M472.9,77.5h2.8M472.9,90.1h2.8M475.5,74.3V85.8M474.1,74.3h2.8M474.1,85.8h2.8M476.8,74.2V85.8M475.4,74.2h2.8M475.4,85.8h2.8M478.1,72.5V83.9M476.7,72.5h2.8M476.7,83.9h2.8M479.4,72.4V81.3M478.0,72.4h2.8M478.0,81.3h2.8M480.7,70.2V80.7M479.3,70.2h2.8M479.3,80.7h2.8M482.0,69.5V77.6M480.6,69.5h2.8M480.6,77.6h2.8M483.3,71.6V79.4M481.9,71.6h2.8M481.9,79.4h2.8M484.6,65.1V78.5M483.2,65.1h2.8M483.2,78.5h2.8M485.9,66.6V76.5M484.5,66.6h2.8M484.5,76.5h2.8M487.2,63.6V76.2M485.8,63.6h2.8M485.8,76.2h2.8M488.4,65.7V74.9M487.1,65.7h2.8M487.1,74.9h2.8M489.7,65.6V75.8M488.3,65.6h2.8M488.3,75.8h2.8M491.0,65.0V75.3M489.6,65.0h2.8M489.6,75.3h2.8M492.3,61.5V75.0M490.9,61.5h2.8M490.9,75.0h2.8M493.6,65.1V76.3M492.2,65.1h2.8M492.2,76.3h2.8M494.9,66.3V74.6M493.5,66.3h2.8M493.5,74.6h2.8M496.2,60.7V72.0M494.8,60.7h2.8M494.8,72.0h2.8M497.5,60.3V70.7M496.1,60.3h2.8M496.1,70.7h2.8M498.8,64.5V74.5M497.4,64.5h2.8M497.4,74.5h2.8M500.1,59.5V73.1M498.7,59.5h2.8M498.7,73.1h2.8M501.3,58.8V69.4M499.9,58.8h2.8M499.9,69.4h2.8M502.6,62.5V70.6M501.2,62.5h2.8M501.2,70.6h2.8M503.9,60.7V69.5M502.5,60.7h2.8M502.5,69.5h2.8M505.2,63.3V71.0M503.8,63.3h2.8M503.8,71.0h2.8M506.5,61.6V73.5M505.1,61.6h2.8M505.1,73.5h2.8M507.8,59.8V73.5M506.4,59.8h2.8M506.4,73.5h2.8M509.1,59.9V73.1M507.7,59.9h2.8M507.7,73.1h2.8M510.4,62.2V69.8M509.0,62.2h2.8M509.0,69.8h2.8M511.7,58.3V67.3M510.3,58.3h2.8M510.3,67.3h2.8M513.0,58.0V66.8M511.6,58.0h2.8M511.6,66.8h2.8M514.2,59.1V71.6M512.9,59.1h2.8M512.9,71.6h2.8M515.5,55.3V68.4M514.1,55.3h2.8M514.1,68.4h2.8M516.8,57.4V65.5M515.4,57.4h2.8M515.4,65.5h2.8M518.1,55.6V67.7M516.7,55.6h2.8M516.7,67.7h2.8M519.4,55.4V68.9M518.0,55.4h2.8M518.0,68.9h2.8M520.7,56.0V69.7M519.3,56.0h2.8M519.3,69.7h2.8M522.0,56.6V64.2M520.6,56.6h2.8M520.6,64.2h2.8M523.3,57.7V69.5M521.9,57.7h2.8M521.9,69.5h2.8M524.6,55.5V63.5M523.2,55.5h2.8M523.2,63.5h2.8M525.9,55.6V67.9M524.5,55.6h2.8M524.5,67.9h2.8M527.1,55.7V68.8M525.8,55.7h2.8M525.8,68.8h2.8M528.4,56.5V64.4M527.0,56.5h2.8M527.0,64.4h2.8M529.7,55.3V66.5M528.3,55.3h2.8M528.3,66.5h2.8M531.0,54.4V66.2M529.6,54.4h2.8M529.6,66.2h2.8M532.3,55.2V67.8M530.9,55.2h2.8M530.9,67.8h2.8M533.6,54.4V66.1M532.2,54.4h2.8M532.2,66.1h2.8M534.9,53.7V63.9M533.5,53.7h2.8M533.5,63.9h2.8M536.2,53.4V66.0M534.8,53.4h2.8M534.8,66.0h2.8M537.5,50.5V63.1M536.1,50.5h2.8M536.1,63.1h2.8M538.8,53.7V63.1M537.4,53.7h2.8M537.4,63.1h2.8M540.0,53.8V67.6M538.6,53.8h2.8M538.6,67.6h2.8M541.3,50.9V63.8M539.9,50.9h2.8M539.9,63.8h2.8M542.6,53.2V64.7M541.2,53.2h2.8M541.2,64.7h2.8M543.9,49.2V62.1M542.5,49.2h2.8M542.5,62.1h2.8M545.2,52.5V62.0M543.8,52.5h2.8M543.8,62.0h2.8" stroke="#000" stroke-width="0.6" fill="none"/>
<g fill="#0000ff" stroke="#000" stroke-width="0.65"><circle cx="467.8" cy="109.6" r="1.75"/><circle cx="469.1" cy="98.9" r="1.75"/><circle cx="470.4" cy="96.9" r="1.75"/><circle cx="471.7" cy="93.7" r="1.75"/><circle cx="473.0" cy="85.9" r="1.75"/><circle cx="474.3" cy="83.8" r="1.75"/><circle cx="475.5" cy="80.0" r="1.75"/><circle cx="476.8" cy="80.0" r="1.75"/><circle cx="478.1" cy="78.2" r="1.75"/><circle cx="479.4" cy="76.8" r="1.75"/><circle cx="480.7" cy="75.4" r="1.75"/><circle cx="482.0" cy="73.5" r="1.75"/><circle cx="483.3" cy="75.5" r="1.75"/><circle cx="484.6" cy="71.8" r="1.75"/><circle cx="485.9" cy="71.5" r="1.75"/><circle cx="487.2" cy="69.9" r="1.75"/><circle cx="488.4" cy="70.3" r="1.75"/><circle cx="489.7" cy="70.7" r="1.75"/><circle cx="491.0" cy="70.2" r="1.75"/><circle cx="492.3" cy="68.2" r="1.75"/><circle cx="493.6" cy="70.7" r="1.75"/><circle cx="494.9" cy="70.4" r="1.75"/><circle cx="496.2" cy="66.3" r="1.75"/><circle cx="497.5" cy="65.5" r="1.75"/><circle cx="498.8" cy="69.5" r="1.75"/><circle cx="500.1" cy="66.3" r="1.75"/><circle cx="501.3" cy="64.1" r="1.75"/><circle cx="502.6" cy="66.5" r="1.75"/><circle cx="503.9" cy="65.1" r="1.75"/><circle cx="505.2" cy="67.2" r="1.75"/><circle cx="506.5" cy="67.5" r="1.75"/><circle cx="507.8" cy="66.7" r="1.75"/><circle cx="509.1" cy="66.5" r="1.75"/><circle cx="510.4" cy="66.0" r="1.75"/><circle cx="511.7" cy="62.8" r="1.75"/><circle cx="513.0" cy="62.4" r="1.75"/><circle cx="514.2" cy="65.4" r="1.75"/><circle cx="515.5" cy="61.9" r="1.75"/><circle cx="516.8" cy="61.5" r="1.75"/><circle cx="518.1" cy="61.6" r="1.75"/><circle cx="519.4" cy="62.1" r="1.75"/><circle cx="520.7" cy="62.9" r="1.75"/><circle cx="522.0" cy="60.4" r="1.75"/><circle cx="523.3" cy="63.6" r="1.75"/><circle cx="524.6" cy="59.5" r="1.75"/><circle cx="525.9" cy="61.8" r="1.75"/><circle cx="527.1" cy="62.2" r="1.75"/><circle cx="528.4" cy="60.5" r="1.75"/><circle cx="529.7" cy="60.9" r="1.75"/><circle cx="531.0" cy="60.3" r="1.75"/><circle cx="532.3" cy="61.5" r="1.75"/><circle cx="533.6" cy="60.3" r="1.75"/><circle cx="534.9" cy="58.8" r="1.75"/><circle cx="536.2" cy="59.7" r="1.75"/><circle cx="537.5" cy="56.8" r="1.75"/><circle cx="538.8" cy="58.4" r="1.75"/><circle cx="540.0" cy="60.7" r="1.75"/><circle cx="541.3" cy="57.4" r="1.75"/><circle cx="542.6" cy="59.0" r="1.75"/><circle cx="543.9" cy="55.6" r="1.75"/><circle cx="545.2" cy="57.3" r="1.75"/></g>
<path d="M404.6,31.9V41.8M403.2,31.9h2.8M403.2,41.8h2.8M405.9,32.8V41.7M404.5,32.8h2.8M404.5,41.7h2.8M407.2,30.6V40.5M405.8,30.6h2.8M405.8,40.5h2.8M408.5,30.5V37.5M407.1,30.5h2.8M407.1,37.5h2.8M409.8,36.6V43.5M408.4,36.6h2.8M408.4,43.5h2.8M411.0,32.6V41.1M409.6,32.6h2.8M409.6,41.1h2.8M412.3,29.0V38.9M410.9,29.0h2.8M410.9,38.9h2.8M413.6,34.9V44.6M412.2,34.9h2.8M412.2,44.6h2.8M414.9,29.0V38.9M413.5,29.0h2.8M413.5,38.9h2.8M416.2,32.3V39.2M414.8,32.3h2.8M414.8,39.2h2.8M417.5,28.9V38.4M416.1,28.9h2.8M416.1,38.4h2.8M418.8,29.9V39.9M417.4,29.9h2.8M417.4,39.9h2.8M420.1,34.4V40.5M418.7,34.4h2.8M418.7,40.5h2.8M421.4,31.2V40.6M420.0,31.2h2.8M420.0,40.6h2.8M422.7,33.9V43.2M421.3,33.9h2.8M421.3,43.2h2.8M423.9,29.7V36.4M422.6,29.7h2.8M422.6,36.4h2.8M425.2,31.0V40.0M423.8,31.0h2.8M423.8,40.0h2.8M426.5,33.2V39.9M425.1,33.2h2.8M425.1,39.9h2.8M427.8,33.5V42.8M426.4,33.5h2.8M426.4,42.8h2.8M429.1,30.2V38.0M427.7,30.2h2.8M427.7,38.0h2.8" stroke="#000" stroke-width="0.6" fill="none"/>
<g fill="#ff0000" stroke="#000" stroke-width="0.65"><circle cx="404.6" cy="36.8" r="1.75"/><circle cx="405.9" cy="37.2" r="1.75"/><circle cx="407.2" cy="35.5" r="1.75"/><circle cx="408.5" cy="34.0" r="1.75"/><circle cx="409.8" cy="40.0" r="1.75"/><circle cx="411.0" cy="36.9" r="1.75"/><circle cx="412.3" cy="33.9" r="1.75"/><circle cx="413.6" cy="39.7" r="1.75"/><circle cx="414.9" cy="34.0" r="1.75"/><circle cx="416.2" cy="35.8" r="1.75"/><circle cx="417.5" cy="33.7" r="1.75"/><circle cx="418.8" cy="34.9" r="1.75"/><circle cx="420.1" cy="37.5" r="1.75"/><circle cx="421.4" cy="35.9" r="1.75"/><circle cx="422.7" cy="38.6" r="1.75"/><circle cx="423.9" cy="33.1" r="1.75"/><circle cx="425.2" cy="35.5" r="1.75"/><circle cx="426.5" cy="36.6" r="1.75"/><circle cx="427.8" cy="38.1" r="1.75"/><circle cx="429.1" cy="34.1" r="1.75"/></g>
<path d="M467.8,92.0V104.7M466.4,92.0h2.8M466.4,104.7h2.8M469.1,87.3V96.3M467.7,87.3h2.8M467.7,96.3h2.8M470.4,82.9V96.2M469.0,82.9h2.8M469.0,96.2h2.8M471.7,79.7V90.5M470.3,79.7h2.8M470.3,90.5h2.8M473.0,78.4V89.8M471.6,78.4h2.8M471.6,89.8h2.8M474.3,78.1V86.9M472.9,78.1h2.8M472.9,86.9h2.8M475.5,74.2V86.2M474.1,74.2h2.8M474.1,86.2h2.8M476.8,72.3V83.5M475.4,72.3h2.8M475.4,83.5h2.8M478.1,70.8V81.7M476.7,70.8h2.8M476.7,81.7h2.8M479.4,72.1V79.9M478.0,72.1h2.8M478.0,79.9h2.8M480.7,65.5V75.5M479.3,65.5h2.8M479.3,75.5h2.8M482.0,67.6V79.2M480.6,67.6h2.8M480.6,79.2h2.8M483.3,65.0V73.5M481.9,65.0h2.8M481.9,73.5h2.8M484.6,64.4V74.2M483.2,64.4h2.8M483.2,74.2h2.8M485.9,65.0V72.7M484.5,65.0h2.8M484.5,72.7h2.8M487.2,63.4V77.3M485.8,63.4h2.8M485.8,77.3h2.8M488.4,60.1V70.8M487.1,60.1h2.8M487.1,70.8h2.8M489.7,61.5V70.7M488.3,61.5h2.8M488.3,70.7h2.8M491.0,59.5V69.7M489.6,59.5h2.8M489.6,69.7h2.8M492.3,57.2V69.6M490.9,57.2h2.8M490.9,69.6h2.8M493.6,56.8V70.5M492.2,56.8h2.8M492.2,70.5h2.8M494.9,62.2V69.9M493.5,62.2h2.8M493.5,69.9h2.8M496.2,61.6V70.3M494.8,61.6h2.8M494.8,70.3h2.8M497.5,62.2V70.1M496.1,62.2h2.8M496.1,70.1h2.8M498.8,56.9V70.1M497.4,56.9h2.8M497.4,70.1h2.8M500.1,56.8V70.4M498.7,56.8h2.8M498.7,70.4h2.8M501.3,57.1V65.0M499.9,57.1h2.8M499.9,65.0h2.8M502.6,57.2V67.2M501.2,57.2h2.8M501.2,67.2h2.8M503.9,57.3V71.0M502.5,57.3h2.8M502.5,71.0h2.8M505.2,57.5V68.7M503.8,57.5h2.8M503.8,68.7h2.8M506.5,54.1V67.7M505.1,54.1h2.8M505.1,67.7h2.8M507.8,55.4V65.4M506.4,55.4h2.8M506.4,65.4h2.8M509.1,56.8V65.4M507.7,56.8h2.8M507.7,65.4h2.8M510.4,51.3V65.2M509.0,51.3h2.8M509.0,65.2h2.8M511.7,57.6V65.3M510.3,57.6h2.8M510.3,65.3h2.8M513.0,56.0V65.8M511.6,56.0h2.8M511.6,65.8h2.8M514.2,50.8V64.1M512.9,50.8h2.8M512.9,64.1h2.8M515.5,53.5V61.3M514.1,53.5h2.8M514.1,61.3h2.8M516.8,51.2V63.3M515.4,51.2h2.8M515.4,63.3h2.8M518.1,50.6V64.5M516.7,50.6h2.8M516.7,64.5h2.8M519.4,55.8V64.3M518.0,55.8h2.8M518.0,64.3h2.8M520.7,49.6V63.1M519.3,49.6h2.8M519.3,63.1h2.8M522.0,51.7V61.1M520.6,51.7h2.8M520.6,61.1h2.8M523.3,50.3V62.6M521.9,50.3h2.8M521.9,62.6h2.8M524.6,53.7V63.3M523.2,53.7h2.8M523.2,63.3h2.8M525.9,53.2V61.5M524.5,53.2h2.8M524.5,61.5h2.8M527.1,51.7V60.3M525.8,51.7h2.8M525.8,60.3h2.8M528.4,52.6V61.0M527.0,52.6h2.8M527.0,61.0h2.8M529.7,50.5V58.1M528.3,50.5h2.8M528.3,58.1h2.8M531.0,49.4V58.2M529.6,49.4h2.8M529.6,58.2h2.8M532.3,50.0V63.5M530.9,50.0h2.8M530.9,63.5h2.8M533.6,48.8V62.3M532.2,48.8h2.8M532.2,62.3h2.8M534.9,45.4V58.7M533.5,45.4h2.8M533.5,58.7h2.8M536.2,50.0V60.4M534.8,50.0h2.8M534.8,60.4h2.8M537.5,48.4V61.9M536.1,48.4h2.8M536.1,61.9h2.8M538.8,45.4V57.0M537.4,45.4h2.8M537.4,57.0h2.8M540.0,47.9V57.6M538.6,47.9h2.8M538.6,57.6h2.8M541.3,45.3V55.9M539.9,45.3h2.8M539.9,55.9h2.8M542.6,47.0V55.4M541.2,47.0h2.8M541.2,55.4h2.8M543.9,48.9V56.8M542.5,48.9h2.8M542.5,56.8h2.8M545.2,44.6V55.7M543.8,44.6h2.8M543.8,55.7h2.8" stroke="#000" stroke-width="0.6" fill="none"/>
<g fill="#ff0000" stroke="#000" stroke-width="0.65"><circle cx="467.8" cy="98.3" r="1.75"/><circle cx="469.1" cy="91.8" r="1.75"/><circle cx="470.4" cy="89.5" r="1.75"/><circle cx="471.7" cy="85.1" r="1.75"/><circle cx="473.0" cy="84.1" r="1.75"/><circle cx="474.3" cy="82.5" r="1.75"/><circle cx="475.5" cy="80.2" r="1.75"/><circle cx="476.8" cy="77.9" r="1.75"/><circle cx="478.1" cy="76.3" r="1.75"/><circle cx="479.4" cy="76.0" r="1.75"/><circle cx="480.7" cy="70.5" r="1.75"/><circle cx="482.0" cy="73.4" r="1.75"/><circle cx="483.3" cy="69.2" r="1.75"/><circle cx="484.6" cy="69.3" r="1.75"/><circle cx="485.9" cy="68.8" r="1.75"/><circle cx="487.2" cy="70.3" r="1.75"/><circle cx="488.4" cy="65.5" r="1.75"/><circle cx="489.7" cy="66.1" r="1.75"/><circle cx="491.0" cy="64.6" r="1.75"/><circle cx="492.3" cy="63.4" r="1.75"/><circle cx="493.6" cy="63.7" r="1.75"/><circle cx="494.9" cy="66.0" r="1.75"/><circle cx="496.2" cy="65.9" r="1.75"/><circle cx="497.5" cy="66.1" r="1.75"/><circle cx="498.8" cy="63.5" r="1.75"/><circle cx="500.1" cy="63.6" r="1.75"/><circle cx="501.3" cy="61.1" r="1.75"/><circle cx="502.6" cy="62.2" r="1.75"/><circle cx="503.9" cy="64.1" r="1.75"/><circle cx="505.2" cy="63.1" r="1.75"/><circle cx="506.5" cy="60.9" r="1.75"/><circle cx="507.8" cy="60.4" r="1.75"/><circle cx="509.1" cy="61.1" r="1.75"/><circle cx="510.4" cy="58.2" r="1.75"/><circle cx="511.7" cy="61.5" r="1.75"/><circle cx="513.0" cy="60.9" r="1.75"/><circle cx="514.2" cy="57.4" r="1.75"/><circle cx="515.5" cy="57.4" r="1.75"/><circle cx="516.8" cy="57.3" r="1.75"/><circle cx="518.1" cy="57.6" r="1.75"/><circle cx="519.4" cy="60.1" r="1.75"/><circle cx="520.7" cy="56.3" r="1.75"/><circle cx="522.0" cy="56.4" r="1.75"/><circle cx="523.3" cy="56.4" r="1.75"/><circle cx="524.6" cy="58.5" r="1.75"/><circle cx="525.9" cy="57.4" r="1.75"/><circle cx="527.1" cy="56.0" r="1.75"/><circle cx="528.4" cy="56.8" r="1.75"/><circle cx="529.7" cy="54.3" r="1.75"/><circle cx="531.0" cy="53.8" r="1.75"/><circle cx="532.3" cy="56.8" r="1.75"/><circle cx="533.6" cy="55.5" r="1.75"/><circle cx="534.9" cy="52.1" r="1.75"/><circle cx="536.2" cy="55.2" r="1.75"/><circle cx="537.5" cy="55.1" r="1.75"/><circle cx="538.8" cy="51.2" r="1.75"/><circle cx="540.0" cy="52.7" r="1.75"/><circle cx="541.3" cy="50.6" r="1.75"/><circle cx="542.6" cy="51.2" r="1.75"/><circle cx="543.9" cy="52.8" r="1.75"/><circle cx="545.2" cy="50.2" r="1.75"/></g>
<text x="537.40" y="80.80" font-size="10.0" text-anchor="start" fill="#000" >2</text>
<rect x="409.60" y="50.20" width="8.00" height="8.00" fill="#a6a6a6" stroke="none" stroke-width="0"/>
<text x="422.60" y="58.15" font-size="10.0" text-anchor="start" fill="#a6a6a6" >Euploid</text>
<rect x="409.60" y="63.90" width="8.00" height="8.00" fill="#0000ff" stroke="none" stroke-width="0"/>
<text x="422.60" y="71.85" font-size="10.0" text-anchor="start" fill="#0000ff" >Ts2Cje</text>
<rect x="409.60" y="77.60" width="8.00" height="8.00" fill="#ff0000" stroke="none" stroke-width="0"/>
<text x="422.60" y="85.55" font-size="10.0" fill="#ff0000">Ts<tspan font-style="italic" dx="0.8">Grik1</tspan><tspan font-size="7.00" dy="-3.60" dx="-0.4">+/−</tspan></text>
<path d="M406.5,120.1 L407.5,120.5 L408.5,120.2 L409.5,120.3 L410.5,120.1 L411.5,120.2 L412.5,120.5 L413.5,120.2 L414.5,120.1 L414.8,121.5 L415.1,119.5 L417.2,154.1 L417.7,149.2 L418.2,144.9 L418.7,141.7 L419.2,138.2 L419.7,136.0 L420.2,133.3 L420.7,131.8 L421.2,130.1 L421.7,128.4 L422.2,127.4 L422.7,126.3 L423.2,125.4 L423.7,124.6 L424.2,124.0 L424.7,123.8 L425.2,123.3 L426.2,122.5 L427.2,121.6 L428.2,121.3 L429.2,121.3 L430.2,120.7 L431.2,120.8 L432.2,120.5 L433.2,120.8 L434.2,120.2 L435.2,120.6 L436.2,120.3 L437.2,120.2 L438.2,120.1 L439.2,120.5 L440.2,120.3 L441.2,120.2" fill="none" stroke="#999" stroke-width="0.8" stroke-linejoin="round" />
<path d="M406.5,120.3 L407.5,120.5 L408.5,120.2 L409.5,120.3 L410.5,120.1 L411.5,120.1 L412.5,120.4 L413.5,120.4 L414.5,120.1 L414.8,121.5 L415.1,119.5 L417.1,147.5 L417.6,143.9 L418.1,141.0 L418.6,138.7 L419.1,136.4 L419.6,134.3 L420.1,132.5 L420.6,131.2 L421.1,129.9 L421.6,128.8 L422.1,127.6 L422.6,126.5 L423.1,125.7 L423.6,125.3 L424.1,124.6 L424.6,124.2 L425.1,123.4 L426.1,123.0 L427.1,122.2 L428.1,122.0 L429.1,121.6 L430.1,121.2 L431.1,120.7 L432.1,121.0 L433.1,120.7 L434.1,120.8 L435.1,120.4 L436.1,120.3 L437.1,120.6 L438.1,120.3 L439.1,120.2 L440.1,120.3 L441.1,120.4" fill="none" stroke="#999" stroke-width="0.8" stroke-linejoin="round" />
<path d="M443.9,120.1 L444.9,120.3 L445.9,120.3 L446.9,120.3 L447.9,120.1 L448.9,120.4 L449.9,120.5 L450.9,120.5 L451.6,121.5 L451.9,119.5 L453.9,161.0 L454.4,156.1 L454.9,152.1 L455.4,148.2 L455.9,145.1 L456.4,141.9 L456.9,139.7 L457.4,137.5 L457.9,135.3 L458.4,133.5 L458.9,132.0 L459.4,130.6 L459.9,129.1 L460.4,128.5 L460.9,127.2 L461.4,126.4 L461.9,125.6 L462.9,124.5 L463.9,123.8 L464.9,122.7 L465.9,122.1 L466.9,122.0 L467.9,121.4 L468.9,121.0 L469.9,121.1 L470.9,120.9 L471.9,120.8 L472.9,120.8 L473.9,120.4 L474.9,120.7 L475.9,120.6 L476.9,120.2 L477.9,120.2 L478.9,120.4" fill="none" stroke="#0000ff" stroke-width="0.8" stroke-linejoin="round" />
<path d="M443.9,120.3 L444.9,120.2 L445.9,120.1 L446.9,120.3 L447.9,120.1 L448.9,120.3 L449.9,120.5 L450.9,120.1 L451.6,121.5 L451.9,119.5 L453.8,153.0 L454.3,149.7 L454.8,146.7 L455.3,143.7 L455.8,141.6 L456.3,139.5 L456.8,137.3 L457.3,135.5 L457.8,134.2 L458.3,132.6 L458.8,131.3 L459.3,130.4 L459.8,129.3 L460.3,128.2 L460.8,127.3 L461.3,126.6 L461.8,126.0 L462.8,125.2 L463.8,124.2 L464.8,123.5 L465.8,122.9 L466.8,122.4 L467.8,121.6 L468.8,121.6 L469.8,121.5 L470.8,121.3 L471.8,120.8 L472.8,120.8 L473.8,120.8 L474.8,120.6 L475.8,120.6 L476.8,120.3 L477.8,120.4 L478.8,120.4" fill="none" stroke="#0000ff" stroke-width="0.8" stroke-linejoin="round" />
<path d="M481.1,120.1 L482.1,120.1 L483.1,120.5 L484.1,120.4 L485.1,120.5 L486.1,120.4 L487.1,120.5 L488.1,120.5 L488.3,121.5 L488.6,119.5 L491.6,154.1 L492.1,149.4 L492.6,144.8 L493.1,141.5 L493.6,138.3 L494.1,135.9 L494.6,133.4 L495.1,131.6 L495.6,130.2 L496.1,128.6 L496.6,127.3 L497.1,126.4 L497.6,125.5 L498.1,125.0 L498.6,124.0 L499.1,123.4 L499.6,123.1 L500.6,122.1 L501.6,121.8 L502.6,121.6 L503.6,121.1 L504.6,120.8 L505.6,120.7 L506.6,120.6 L507.6,120.4 L508.6,120.3 L509.6,120.2 L510.6,120.3 L511.6,120.3 L512.6,120.2 L513.6,120.2 L514.6,120.1 L515.6,120.3" fill="none" stroke="#ff0000" stroke-width="0.8" stroke-linejoin="round" />
<path d="M481.1,120.5 L482.1,120.4 L483.1,120.3 L484.1,120.4 L485.1,120.2 L486.1,120.4 L487.1,120.3 L488.1,120.3 L488.3,121.5 L488.6,119.5 L491.5,147.5 L492.0,144.2 L492.5,141.2 L493.0,138.5 L493.5,136.2 L494.0,134.2 L494.5,132.7 L495.0,131.1 L495.5,129.8 L496.0,128.4 L496.5,127.5 L497.0,126.9 L497.5,125.8 L498.0,125.2 L498.5,124.6 L499.0,124.0 L499.5,123.9 L500.5,122.7 L501.5,122.4 L502.5,121.6 L503.5,121.2 L504.5,121.4 L505.5,121.0 L506.5,120.6 L507.5,120.6 L508.5,120.6 L509.5,120.7 L510.5,120.3 L511.5,120.3 L512.5,120.6 L513.5,120.5 L514.5,120.2 L515.5,120.3" fill="none" stroke="#ff0000" stroke-width="0.8" stroke-linejoin="round" />
<path d="M434.40,129.40 L434.40,145.80 L425.40,145.80" fill="none" stroke="#444" stroke-width="0.9"/>
<path d="M471.70,129.40 L471.70,145.80 L463.50,145.80" fill="none" stroke="#444" stroke-width="0.9"/>
<path d="M508.80,129.40 L508.80,145.80 L500.30,145.80" fill="none" stroke="#444" stroke-width="0.9"/>
<text x="411.40" y="162.20" font-size="9.5" text-anchor="start" fill="#000" >1</text>
<text x="416.10" y="128.60" font-size="9.5" text-anchor="start" fill="#000" >2</text>
<text x="447.40" y="162.20" font-size="9.5" text-anchor="start" fill="#000" >1</text>
<text x="453.80" y="128.60" font-size="9.5" text-anchor="start" fill="#000" >2</text>
<text x="485.50" y="162.20" font-size="9.5" text-anchor="start" fill="#000" >1</text>
<text x="490.20" y="128.60" font-size="9.5" text-anchor="start" fill="#000" >2</text>
<text x="513.90" y="142.90" font-size="9.8" text-anchor="start" fill="#000" >0.4 mV</text>
<text x="500.80" y="157.30" font-size="9.8" text-anchor="start" fill="#000" >20 ms</text>
<text x="359.30" y="234.60" font-size="16" text-anchor="start" fill="#000" font-weight="bold" >d</text>
<text transform="translate(370.50,319.20) rotate(-90)" font-size="11.4" text-anchor="middle">fEPSP slope (%)</text>
<line x1="403.60" y1="231.20" x2="403.60" y2="392.70" stroke="#000" stroke-width="1" />
<line x1="401.30" y1="392.20" x2="403.60" y2="392.20" stroke="#000" stroke-width="0.9" />
<text x="396.30" y="396.55" font-size="11.3" text-anchor="end" fill="#000" >0</text>
<line x1="401.30" y1="365.37" x2="403.60" y2="365.37" stroke="#000" stroke-width="0.9" />
<text x="396.30" y="369.72" font-size="11.3" text-anchor="end" fill="#000" >20</text>
<line x1="401.30" y1="338.53" x2="403.60" y2="338.53" stroke="#000" stroke-width="0.9" />
<text x="396.30" y="342.88" font-size="11.3" text-anchor="end" fill="#000" >40</text>
<line x1="401.30" y1="311.70" x2="403.60" y2="311.70" stroke="#000" stroke-width="0.9" />
<text x="396.30" y="316.05" font-size="11.3" text-anchor="end" fill="#000" >60</text>
<line x1="401.30" y1="284.86" x2="403.60" y2="284.86" stroke="#000" stroke-width="0.9" />
<text x="396.30" y="289.21" font-size="11.3" text-anchor="end" fill="#000" >80</text>
<line x1="401.30" y1="258.03" x2="403.60" y2="258.03" stroke="#000" stroke-width="0.9" />
<text x="396.30" y="262.38" font-size="11.3" text-anchor="end" fill="#000" >100</text>
<line x1="401.30" y1="231.20" x2="403.60" y2="231.20" stroke="#000" stroke-width="0.9" />
<text x="396.30" y="235.55" font-size="11.3" text-anchor="end" fill="#000" >120</text>
<line x1="403.10" y1="392.20" x2="546.00" y2="392.20" stroke="#000" stroke-width="1" />
<line x1="403.60" y1="392.20" x2="403.60" y2="394.40" stroke="#000" stroke-width="0.9" />
<text x="403.60" y="407.80" font-size="11.3" text-anchor="middle" fill="#000" >−10</text>
<line x1="429.40" y1="392.20" x2="429.40" y2="394.40" stroke="#000" stroke-width="0.9" />
<text x="429.40" y="407.80" font-size="11.3" text-anchor="middle" fill="#000" >0</text>
<line x1="455.20" y1="392.20" x2="455.20" y2="394.40" stroke="#000" stroke-width="0.9" />
<text x="455.20" y="407.80" font-size="11.3" text-anchor="middle" fill="#000" >10</text>
<line x1="481.00" y1="392.20" x2="481.00" y2="394.40" stroke="#000" stroke-width="0.9" />
<text x="481.00" y="407.80" font-size="11.3" text-anchor="middle" fill="#000" >20</text>
<line x1="506.80" y1="392.20" x2="506.80" y2="394.40" stroke="#000" stroke-width="0.9" />
<text x="506.80" y="407.80" font-size="11.3" text-anchor="middle" fill="#000" >30</text>
<line x1="532.60" y1="392.20" x2="532.60" y2="394.40" stroke="#000" stroke-width="0.9" />
<text x="532.60" y="407.80" font-size="11.3" text-anchor="middle" fill="#000" >40</text>
<text x="470.70" y="424.70" font-size="11.4" text-anchor="middle" fill="#000" >Time (min)</text>
<line x1="430.40" y1="258.03" x2="546.50" y2="258.03" stroke="#222" stroke-width="0.9" stroke-dasharray="5.8,3.0"/>
<line x1="431.80" y1="245.63" x2="465.80" y2="245.63" stroke="#000" stroke-width="0.9" />
<text x="448.50" y="243.83" font-size="10" text-anchor="middle" fill="#000" >LFS</text>
<text x="422.30" y="245.73" font-size="10.4" text-anchor="start" fill="#000" >1</text>
<path d="M403.6,251.6V266.4M402.2,251.6h2.8M402.2,266.4h2.8M404.9,249.1V265.4M403.5,249.1h2.8M403.5,265.4h2.8M406.2,249.1V262.7M404.8,249.1h2.8M404.8,262.7h2.8M407.5,248.7V264.1M406.1,248.7h2.8M406.1,264.1h2.8M408.8,249.7V262.9M407.4,249.7h2.8M407.4,262.9h2.8M410.0,248.6V263.7M408.6,248.6h2.8M408.6,263.7h2.8M411.3,250.0V260.5M409.9,250.0h2.8M409.9,260.5h2.8M412.6,250.8V260.3M411.2,250.8h2.8M411.2,260.3h2.8M413.9,249.2V263.3M412.5,249.2h2.8M412.5,263.3h2.8M415.2,249.5V266.6M413.8,249.5h2.8M413.8,266.6h2.8M416.5,251.2V263.9M415.1,251.2h2.8M415.1,263.9h2.8M417.8,247.9V264.3M416.4,247.9h2.8M416.4,264.3h2.8M419.1,251.1V263.5M417.7,251.1h2.8M417.7,263.5h2.8M420.4,251.8V264.9M419.0,251.8h2.8M419.0,264.9h2.8M421.7,250.7V262.4M420.3,250.7h2.8M420.3,262.4h2.8M422.9,251.8V265.7M421.6,251.8h2.8M421.6,265.7h2.8M424.2,252.8V264.8M422.8,252.8h2.8M422.8,264.8h2.8M425.5,248.0V264.2M424.1,248.0h2.8M424.1,264.2h2.8M426.8,251.5V264.5M425.4,251.5h2.8M425.4,264.5h2.8M428.1,254.2V266.1M426.7,254.2h2.8M426.7,266.1h2.8" stroke="#000" stroke-width="0.6" fill="none"/>
<g fill="#8a8a8a" stroke="#000" stroke-width="0.65"><circle cx="403.6" cy="259.0" r="1.75"/><circle cx="404.9" cy="257.2" r="1.75"/><circle cx="406.2" cy="255.9" r="1.75"/><circle cx="407.5" cy="256.4" r="1.75"/><circle cx="408.8" cy="256.3" r="1.75"/><circle cx="410.0" cy="256.1" r="1.75"/><circle cx="411.3" cy="255.2" r="1.75"/><circle cx="412.6" cy="255.5" r="1.75"/><circle cx="413.9" cy="256.2" r="1.75"/><circle cx="415.2" cy="258.0" r="1.75"/><circle cx="416.5" cy="257.5" r="1.75"/><circle cx="417.8" cy="256.1" r="1.75"/><circle cx="419.1" cy="257.3" r="1.75"/><circle cx="420.4" cy="258.4" r="1.75"/><circle cx="421.7" cy="256.5" r="1.75"/><circle cx="422.9" cy="258.8" r="1.75"/><circle cx="424.2" cy="258.8" r="1.75"/><circle cx="425.5" cy="256.1" r="1.75"/><circle cx="426.8" cy="258.0" r="1.75"/><circle cx="428.1" cy="260.1" r="1.75"/></g>
<path d="M466.8,320.0V334.0M465.4,320.0h2.8M465.4,334.0h2.8M468.1,317.1V327.2M466.7,317.1h2.8M466.7,327.2h2.8M469.4,311.8V323.8M468.0,311.8h2.8M468.0,323.8h2.8M470.7,308.1V324.2M469.3,308.1h2.8M469.3,324.2h2.8M472.0,308.3V319.3M470.6,308.3h2.8M470.6,319.3h2.8M473.3,306.5V323.2M471.9,306.5h2.8M471.9,323.2h2.8M474.5,310.5V320.2M473.1,310.5h2.8M473.1,320.2h2.8M475.8,304.0V317.4M474.4,304.0h2.8M474.4,317.4h2.8M477.1,299.3V314.9M475.7,299.3h2.8M475.7,314.9h2.8M478.4,298.8V316.2M477.0,298.8h2.8M477.0,316.2h2.8M479.7,299.1V312.7M478.3,299.1h2.8M478.3,312.7h2.8M481.0,297.0V309.5M479.6,297.0h2.8M479.6,309.5h2.8M482.3,296.2V310.3M480.9,296.2h2.8M480.9,310.3h2.8M483.6,293.0V310.0M482.2,293.0h2.8M482.2,310.0h2.8M484.9,291.2V304.8M483.5,291.2h2.8M483.5,304.8h2.8M486.2,293.6V306.0M484.8,293.6h2.8M484.8,306.0h2.8M487.4,289.8V303.8M486.1,289.8h2.8M486.1,303.8h2.8M488.7,286.3V302.8M487.3,286.3h2.8M487.3,302.8h2.8M490.0,284.4V297.7M488.6,284.4h2.8M488.6,297.7h2.8M491.3,285.5V299.9M489.9,285.5h2.8M489.9,299.9h2.8M492.6,282.4V294.5M491.2,282.4h2.8M491.2,294.5h2.8M493.9,281.7V297.7M492.5,281.7h2.8M492.5,297.7h2.8M495.2,284.6V296.5M493.8,284.6h2.8M493.8,296.5h2.8M496.5,277.7V293.7M495.1,277.7h2.8M495.1,293.7h2.8M497.8,282.5V292.8M496.4,282.5h2.8M496.4,292.8h2.8M499.1,277.6V292.5M497.7,277.6h2.8M497.7,292.5h2.8M500.3,276.4V293.7M498.9,276.4h2.8M498.9,293.7h2.8M501.6,278.0V290.8M500.2,278.0h2.8M500.2,290.8h2.8M502.9,282.2V293.9M501.5,282.2h2.8M501.5,293.9h2.8M504.2,279.2V292.6M502.8,279.2h2.8M502.8,292.6h2.8M505.5,281.9V292.8M504.1,281.9h2.8M504.1,292.8h2.8M506.8,277.6V291.8M505.4,277.6h2.8M505.4,291.8h2.8M508.1,277.2V294.6M506.7,277.2h2.8M506.7,294.6h2.8M509.4,279.3V289.0M508.0,279.3h2.8M508.0,289.0h2.8M510.7,277.3V293.0M509.3,277.3h2.8M509.3,293.0h2.8M512.0,278.1V293.0M510.6,278.1h2.8M510.6,293.0h2.8M513.2,281.1V292.9M511.9,281.1h2.8M511.9,292.9h2.8M514.5,275.3V289.4M513.1,275.3h2.8M513.1,289.4h2.8M515.8,277.6V288.6M514.4,277.6h2.8M514.4,288.6h2.8M517.1,276.9V290.8M515.7,276.9h2.8M515.7,290.8h2.8M518.4,277.6V292.2M517.0,277.6h2.8M517.0,292.2h2.8M519.7,274.6V292.1M518.3,274.6h2.8M518.3,292.1h2.8M521.0,276.6V289.3M519.6,276.6h2.8M519.6,289.3h2.8M522.3,279.9V290.5M520.9,279.9h2.8M520.9,290.5h2.8M523.6,276.5V286.8M522.2,276.5h2.8M522.2,286.8h2.8M524.9,279.6V290.4M523.5,279.6h2.8M523.5,290.4h2.8M526.1,274.6V290.6M524.8,274.6h2.8M524.8,290.6h2.8M527.4,274.0V289.9M526.0,274.0h2.8M526.0,289.9h2.8M528.7,280.0V289.4M527.3,280.0h2.8M527.3,289.4h2.8M530.0,274.7V286.7M528.6,274.7h2.8M528.6,286.7h2.8M531.3,274.8V287.1M529.9,274.8h2.8M529.9,287.1h2.8M532.6,278.1V289.6M531.2,278.1h2.8M531.2,289.6h2.8M533.9,275.8V292.5M532.5,275.8h2.8M532.5,292.5h2.8M535.2,275.4V287.6M533.8,275.4h2.8M533.8,287.6h2.8M536.5,275.9V288.4M535.1,275.9h2.8M535.1,288.4h2.8M537.8,275.9V292.5M536.4,275.9h2.8M536.4,292.5h2.8M539.0,272.8V289.9M537.6,272.8h2.8M537.6,289.9h2.8M540.3,274.8V289.2M538.9,274.8h2.8M538.9,289.2h2.8M541.6,278.1V287.8M540.2,278.1h2.8M540.2,287.8h2.8M542.9,271.1V287.4M541.5,271.1h2.8M541.5,287.4h2.8M544.2,274.2V290.8M542.8,274.2h2.8M542.8,290.8h2.8" stroke="#000" stroke-width="0.6" fill="none"/>
<g fill="#8a8a8a" stroke="#000" stroke-width="0.65"><circle cx="466.8" cy="327.0" r="1.75"/><circle cx="468.1" cy="322.2" r="1.75"/><circle cx="469.4" cy="317.8" r="1.75"/><circle cx="470.7" cy="316.2" r="1.75"/><circle cx="472.0" cy="313.8" r="1.75"/><circle cx="473.3" cy="314.9" r="1.75"/><circle cx="474.5" cy="315.3" r="1.75"/><circle cx="475.8" cy="310.7" r="1.75"/><circle cx="477.1" cy="307.1" r="1.75"/><circle cx="478.4" cy="307.5" r="1.75"/><circle cx="479.7" cy="305.9" r="1.75"/><circle cx="481.0" cy="303.3" r="1.75"/><circle cx="482.3" cy="303.2" r="1.75"/><circle cx="483.6" cy="301.5" r="1.75"/><circle cx="484.9" cy="298.0" r="1.75"/><circle cx="486.2" cy="299.8" r="1.75"/><circle cx="487.4" cy="296.8" r="1.75"/><circle cx="488.7" cy="294.5" r="1.75"/><circle cx="490.0" cy="291.1" r="1.75"/><circle cx="491.3" cy="292.7" r="1.75"/><circle cx="492.6" cy="288.5" r="1.75"/><circle cx="493.9" cy="289.7" r="1.75"/><circle cx="495.2" cy="290.6" r="1.75"/><circle cx="496.5" cy="285.7" r="1.75"/><circle cx="497.8" cy="287.7" r="1.75"/><circle cx="499.1" cy="285.1" r="1.75"/><circle cx="500.3" cy="285.0" r="1.75"/><circle cx="501.6" cy="284.4" r="1.75"/><circle cx="502.9" cy="288.1" r="1.75"/><circle cx="504.2" cy="285.9" r="1.75"/><circle cx="505.5" cy="287.4" r="1.75"/><circle cx="506.8" cy="284.7" r="1.75"/><circle cx="508.1" cy="285.9" r="1.75"/><circle cx="509.4" cy="284.1" r="1.75"/><circle cx="510.7" cy="285.2" r="1.75"/><circle cx="512.0" cy="285.6" r="1.75"/><circle cx="513.2" cy="287.0" r="1.75"/><circle cx="514.5" cy="282.4" r="1.75"/><circle cx="515.8" cy="283.1" r="1.75"/><circle cx="517.1" cy="283.9" r="1.75"/><circle cx="518.4" cy="284.9" r="1.75"/><circle cx="519.7" cy="283.4" r="1.75"/><circle cx="521.0" cy="283.0" r="1.75"/><circle cx="522.3" cy="285.2" r="1.75"/><circle cx="523.6" cy="281.6" r="1.75"/><circle cx="524.9" cy="285.0" r="1.75"/><circle cx="526.1" cy="282.6" r="1.75"/><circle cx="527.4" cy="281.9" r="1.75"/><circle cx="528.7" cy="284.7" r="1.75"/><circle cx="530.0" cy="280.7" r="1.75"/><circle cx="531.3" cy="281.0" r="1.75"/><circle cx="532.6" cy="283.8" r="1.75"/><circle cx="533.9" cy="284.1" r="1.75"/><circle cx="535.2" cy="281.5" r="1.75"/><circle cx="536.5" cy="282.1" r="1.75"/><circle cx="537.8" cy="284.2" r="1.75"/><circle cx="539.0" cy="281.3" r="1.75"/><circle cx="540.3" cy="282.0" r="1.75"/><circle cx="541.6" cy="283.0" r="1.75"/><circle cx="542.9" cy="279.3" r="1.75"/><circle cx="544.2" cy="282.5" r="1.75"/></g>
<path d="M403.6,250.2V260.8M402.2,250.2h2.8M402.2,260.8h2.8M404.9,249.5V264.9M403.5,249.5h2.8M403.5,264.9h2.8M406.2,250.4V265.7M404.8,250.4h2.8M404.8,265.7h2.8M407.5,254.5V265.7M406.1,254.5h2.8M406.1,265.7h2.8M408.8,251.2V261.3M407.4,251.2h2.8M407.4,261.3h2.8M410.0,252.2V267.0M408.6,252.2h2.8M408.6,267.0h2.8M411.3,251.1V265.3M409.9,251.1h2.8M409.9,265.3h2.8M412.6,255.2V265.0M411.2,255.2h2.8M411.2,265.0h2.8M413.9,254.3V264.1M412.5,254.3h2.8M412.5,264.1h2.8M415.2,249.0V259.5M413.8,249.0h2.8M413.8,259.5h2.8M416.5,252.9V262.2M415.1,252.9h2.8M415.1,262.2h2.8M417.8,252.1V263.4M416.4,252.1h2.8M416.4,263.4h2.8M419.1,254.3V263.3M417.7,254.3h2.8M417.7,263.3h2.8M420.4,253.8V268.3M419.0,253.8h2.8M419.0,268.3h2.8M421.7,254.1V264.3M420.3,254.1h2.8M420.3,264.3h2.8M422.9,255.3V265.8M421.6,255.3h2.8M421.6,265.8h2.8M424.2,255.8V264.5M422.8,255.8h2.8M422.8,264.5h2.8M425.5,251.2V262.2M424.1,251.2h2.8M424.1,262.2h2.8M426.8,254.0V267.6M425.4,254.0h2.8M425.4,267.6h2.8M428.1,256.1V266.5M426.7,256.1h2.8M426.7,266.5h2.8" stroke="#000" stroke-width="0.6" fill="none"/>
<g fill="#0000ff" stroke="#000" stroke-width="0.65"><circle cx="403.6" cy="255.5" r="1.75"/><circle cx="404.9" cy="257.2" r="1.75"/><circle cx="406.2" cy="258.1" r="1.75"/><circle cx="407.5" cy="260.1" r="1.75"/><circle cx="408.8" cy="256.3" r="1.75"/><circle cx="410.0" cy="259.6" r="1.75"/><circle cx="411.3" cy="258.2" r="1.75"/><circle cx="412.6" cy="260.1" r="1.75"/><circle cx="413.9" cy="259.2" r="1.75"/><circle cx="415.2" cy="254.2" r="1.75"/><circle cx="416.5" cy="257.5" r="1.75"/><circle cx="417.8" cy="257.8" r="1.75"/><circle cx="419.1" cy="258.8" r="1.75"/><circle cx="420.4" cy="261.1" r="1.75"/><circle cx="421.7" cy="259.2" r="1.75"/><circle cx="422.9" cy="260.5" r="1.75"/><circle cx="424.2" cy="260.1" r="1.75"/><circle cx="425.5" cy="256.7" r="1.75"/><circle cx="426.8" cy="260.8" r="1.75"/><circle cx="428.1" cy="261.3" r="1.75"/></g>
<path d="M466.8,323.4V331.7M465.4,323.4h2.8M465.4,331.7h2.8M468.1,319.6V332.5M466.7,319.6h2.8M466.7,332.5h2.8M469.4,316.7V325.2M468.0,316.7h2.8M468.0,325.2h2.8M470.7,314.6V326.7M469.3,314.6h2.8M469.3,326.7h2.8M472.0,311.7V325.4M470.6,311.7h2.8M470.6,325.4h2.8M473.3,310.6V324.3M471.9,310.6h2.8M471.9,324.3h2.8M474.5,309.6V318.6M473.1,309.6h2.8M473.1,318.6h2.8M475.8,308.4V316.8M474.4,308.4h2.8M474.4,316.8h2.8M477.1,305.1V314.3M475.7,305.1h2.8M475.7,314.3h2.8M478.4,301.4V312.7M477.0,301.4h2.8M477.0,312.7h2.8M479.7,303.4V312.5M478.3,303.4h2.8M478.3,312.5h2.8M481.0,300.6V309.5M479.6,300.6h2.8M479.6,309.5h2.8M482.3,297.9V306.2M480.9,297.9h2.8M480.9,306.2h2.8M483.6,296.5V307.5M482.2,296.5h2.8M482.2,307.5h2.8M484.9,295.2V307.6M483.5,295.2h2.8M483.5,307.6h2.8M486.2,293.5V305.2M484.8,293.5h2.8M484.8,305.2h2.8M487.4,292.2V301.7M486.1,292.2h2.8M486.1,301.7h2.8M488.7,292.3V300.3M487.3,292.3h2.8M487.3,300.3h2.8M490.0,289.3V302.3M488.6,289.3h2.8M488.6,302.3h2.8M491.3,288.0V299.8M489.9,288.0h2.8M489.9,299.8h2.8M492.6,288.1V299.2M491.2,288.1h2.8M491.2,299.2h2.8M493.9,285.8V296.6M492.5,285.8h2.8M492.5,296.6h2.8M495.2,286.5V294.4M493.8,286.5h2.8M493.8,294.4h2.8M496.5,285.4V294.3M495.1,285.4h2.8M495.1,294.3h2.8M497.8,284.1V296.3M496.4,284.1h2.8M496.4,296.3h2.8M499.1,283.9V294.0M497.7,283.9h2.8M497.7,294.0h2.8M500.3,279.2V291.7M498.9,279.2h2.8M498.9,291.7h2.8M501.6,278.8V291.8M500.2,278.8h2.8M500.2,291.8h2.8M502.9,284.0V293.3M501.5,284.0h2.8M501.5,293.3h2.8M504.2,282.9V294.8M502.8,282.9h2.8M502.8,294.8h2.8M505.5,280.7V290.4M504.1,280.7h2.8M504.1,290.4h2.8M506.8,280.6V292.4M505.4,280.6h2.8M505.4,292.4h2.8M508.1,280.3V289.4M506.7,280.3h2.8M506.7,289.4h2.8M509.4,279.0V288.8M508.0,279.0h2.8M508.0,288.8h2.8M510.7,280.4V289.1M509.3,280.4h2.8M509.3,289.1h2.8M512.0,280.4V293.8M510.6,280.4h2.8M510.6,293.8h2.8M513.2,277.8V290.0M511.9,277.8h2.8M511.9,290.0h2.8M514.5,283.2V291.0M513.1,283.2h2.8M513.1,291.0h2.8M515.8,281.9V290.7M514.4,281.9h2.8M514.4,290.7h2.8M517.1,280.5V290.5M515.7,280.5h2.8M515.7,290.5h2.8M518.4,281.8V291.3M517.0,281.8h2.8M517.0,291.3h2.8M519.7,279.2V287.9M518.3,279.2h2.8M518.3,287.9h2.8M521.0,276.8V288.0M519.6,276.8h2.8M519.6,288.0h2.8M522.3,278.2V287.4M520.9,278.2h2.8M520.9,287.4h2.8M523.6,278.0V290.0M522.2,278.0h2.8M522.2,290.0h2.8M524.9,280.5V288.0M523.5,280.5h2.8M523.5,288.0h2.8M526.1,275.5V288.0M524.8,275.5h2.8M524.8,288.0h2.8M527.4,280.3V288.1M526.0,280.3h2.8M526.0,288.1h2.8M528.7,275.6V287.0M527.3,275.6h2.8M527.3,287.0h2.8M530.0,280.5V289.6M528.6,280.5h2.8M528.6,289.6h2.8M531.3,278.4V291.0M529.9,278.4h2.8M529.9,291.0h2.8M532.6,277.4V290.8M531.2,277.4h2.8M531.2,290.8h2.8M533.9,277.4V285.5M532.5,277.4h2.8M532.5,285.5h2.8M535.2,276.6V286.7M533.8,276.6h2.8M533.8,286.7h2.8M536.5,274.9V287.8M535.1,274.9h2.8M535.1,287.8h2.8M537.8,279.5V287.6M536.4,279.5h2.8M536.4,287.6h2.8M539.0,275.1V285.4M537.6,275.1h2.8M537.6,285.4h2.8M540.3,274.3V286.3M538.9,274.3h2.8M538.9,286.3h2.8M541.6,274.7V287.6M540.2,274.7h2.8M540.2,287.6h2.8M542.9,276.4V286.8M541.5,276.4h2.8M541.5,286.8h2.8M544.2,278.3V290.3M542.8,278.3h2.8M542.8,290.3h2.8" stroke="#000" stroke-width="0.6" fill="none"/>
<g fill="#0000ff" stroke="#000" stroke-width="0.65"><circle cx="466.8" cy="327.5" r="1.75"/><circle cx="468.1" cy="326.1" r="1.75"/><circle cx="469.4" cy="321.0" r="1.75"/><circle cx="470.7" cy="320.6" r="1.75"/><circle cx="472.0" cy="318.6" r="1.75"/><circle cx="473.3" cy="317.5" r="1.75"/><circle cx="474.5" cy="314.1" r="1.75"/><circle cx="475.8" cy="312.6" r="1.75"/><circle cx="477.1" cy="309.7" r="1.75"/><circle cx="478.4" cy="307.1" r="1.75"/><circle cx="479.7" cy="308.0" r="1.75"/><circle cx="481.0" cy="305.1" r="1.75"/><circle cx="482.3" cy="302.0" r="1.75"/><circle cx="483.6" cy="302.0" r="1.75"/><circle cx="484.9" cy="301.4" r="1.75"/><circle cx="486.2" cy="299.3" r="1.75"/><circle cx="487.4" cy="296.9" r="1.75"/><circle cx="488.7" cy="296.3" r="1.75"/><circle cx="490.0" cy="295.8" r="1.75"/><circle cx="491.3" cy="293.9" r="1.75"/><circle cx="492.6" cy="293.7" r="1.75"/><circle cx="493.9" cy="291.2" r="1.75"/><circle cx="495.2" cy="290.4" r="1.75"/><circle cx="496.5" cy="289.8" r="1.75"/><circle cx="497.8" cy="290.2" r="1.75"/><circle cx="499.1" cy="288.9" r="1.75"/><circle cx="500.3" cy="285.5" r="1.75"/><circle cx="501.6" cy="285.3" r="1.75"/><circle cx="502.9" cy="288.7" r="1.75"/><circle cx="504.2" cy="288.9" r="1.75"/><circle cx="505.5" cy="285.6" r="1.75"/><circle cx="506.8" cy="286.5" r="1.75"/><circle cx="508.1" cy="284.8" r="1.75"/><circle cx="509.4" cy="283.9" r="1.75"/><circle cx="510.7" cy="284.7" r="1.75"/><circle cx="512.0" cy="287.1" r="1.75"/><circle cx="513.2" cy="283.9" r="1.75"/><circle cx="514.5" cy="287.1" r="1.75"/><circle cx="515.8" cy="286.3" r="1.75"/><circle cx="517.1" cy="285.5" r="1.75"/><circle cx="518.4" cy="286.6" r="1.75"/><circle cx="519.7" cy="283.5" r="1.75"/><circle cx="521.0" cy="282.4" r="1.75"/><circle cx="522.3" cy="282.8" r="1.75"/><circle cx="523.6" cy="284.0" r="1.75"/><circle cx="524.9" cy="284.3" r="1.75"/><circle cx="526.1" cy="281.7" r="1.75"/><circle cx="527.4" cy="284.2" r="1.75"/><circle cx="528.7" cy="281.3" r="1.75"/><circle cx="530.0" cy="285.0" r="1.75"/><circle cx="531.3" cy="284.7" r="1.75"/><circle cx="532.6" cy="284.1" r="1.75"/><circle cx="533.9" cy="281.5" r="1.75"/><circle cx="535.2" cy="281.7" r="1.75"/><circle cx="536.5" cy="281.4" r="1.75"/><circle cx="537.8" cy="283.5" r="1.75"/><circle cx="539.0" cy="280.3" r="1.75"/><circle cx="540.3" cy="280.3" r="1.75"/><circle cx="541.6" cy="281.2" r="1.75"/><circle cx="542.9" cy="281.6" r="1.75"/><circle cx="544.2" cy="284.3" r="1.75"/></g>
<path d="M403.6,252.6V264.7M402.2,252.6h2.8M402.2,264.7h2.8M404.9,249.7V259.0M403.5,249.7h2.8M403.5,259.0h2.8M406.2,251.4V260.2M404.8,251.4h2.8M404.8,260.2h2.8M407.5,249.1V263.4M406.1,249.1h2.8M406.1,263.4h2.8M408.8,253.9V266.3M407.4,253.9h2.8M407.4,266.3h2.8M410.0,247.5V260.5M408.6,247.5h2.8M408.6,260.5h2.8M411.3,252.5V262.8M409.9,252.5h2.8M409.9,262.8h2.8M412.6,256.3V267.3M411.2,256.3h2.8M411.2,267.3h2.8M413.9,253.8V263.7M412.5,253.8h2.8M412.5,263.7h2.8M415.2,254.9V264.4M413.8,254.9h2.8M413.8,264.4h2.8M416.5,249.6V262.9M415.1,249.6h2.8M415.1,262.9h2.8M417.8,255.2V265.4M416.4,255.2h2.8M416.4,265.4h2.8M419.1,252.1V263.7M417.7,252.1h2.8M417.7,263.7h2.8M420.4,248.8V259.8M419.0,248.8h2.8M419.0,259.8h2.8M421.7,252.3V267.2M420.3,252.3h2.8M420.3,267.2h2.8M422.9,254.8V267.4M421.6,254.8h2.8M421.6,267.4h2.8M424.2,252.3V266.6M422.8,252.3h2.8M422.8,266.6h2.8M425.5,250.6V264.6M424.1,250.6h2.8M424.1,264.6h2.8M426.8,254.2V267.5M425.4,254.2h2.8M425.4,267.5h2.8M428.1,251.3V263.1M426.7,251.3h2.8M426.7,263.1h2.8" stroke="#000" stroke-width="0.6" fill="none"/>
<g fill="#ff0000" stroke="#000" stroke-width="0.65"><circle cx="403.6" cy="258.6" r="1.75"/><circle cx="404.9" cy="254.4" r="1.75"/><circle cx="406.2" cy="255.8" r="1.75"/><circle cx="407.5" cy="256.3" r="1.75"/><circle cx="408.8" cy="260.1" r="1.75"/><circle cx="410.0" cy="254.0" r="1.75"/><circle cx="411.3" cy="257.7" r="1.75"/><circle cx="412.6" cy="261.8" r="1.75"/><circle cx="413.9" cy="258.8" r="1.75"/><circle cx="415.2" cy="259.7" r="1.75"/><circle cx="416.5" cy="256.3" r="1.75"/><circle cx="417.8" cy="260.3" r="1.75"/><circle cx="419.1" cy="257.9" r="1.75"/><circle cx="420.4" cy="254.3" r="1.75"/><circle cx="421.7" cy="259.8" r="1.75"/><circle cx="422.9" cy="261.1" r="1.75"/><circle cx="424.2" cy="259.5" r="1.75"/><circle cx="425.5" cy="257.6" r="1.75"/><circle cx="426.8" cy="260.9" r="1.75"/><circle cx="428.1" cy="257.2" r="1.75"/></g>
<path d="M466.8,314.3V327.2M465.4,314.3h2.8M465.4,327.2h2.8M468.1,316.8V326.2M466.7,316.8h2.8M466.7,326.2h2.8M469.4,313.5V322.3M468.0,313.5h2.8M468.0,322.3h2.8M470.7,312.7V322.0M469.3,312.7h2.8M469.3,322.0h2.8M472.0,309.0V321.0M470.6,309.0h2.8M470.6,321.0h2.8M473.3,308.0V316.2M471.9,308.0h2.8M471.9,316.2h2.8M474.5,305.7V316.3M473.1,305.7h2.8M473.1,316.3h2.8M475.8,304.8V313.4M474.4,304.8h2.8M474.4,313.4h2.8M477.1,305.1V312.7M475.7,305.1h2.8M475.7,312.7h2.8M478.4,296.6V308.9M477.0,296.6h2.8M477.0,308.9h2.8M479.7,299.4V311.5M478.3,299.4h2.8M478.3,311.5h2.8M481.0,293.8V305.0M479.6,293.8h2.8M479.6,305.0h2.8M482.3,296.6V307.2M480.9,296.6h2.8M480.9,307.2h2.8M483.6,294.2V303.0M482.2,294.2h2.8M482.2,303.0h2.8M484.9,292.5V300.1M483.5,292.5h2.8M483.5,300.1h2.8M486.2,287.3V298.9M484.8,287.3h2.8M484.8,298.9h2.8M487.4,286.3V299.9M486.1,286.3h2.8M486.1,299.9h2.8M488.7,287.0V296.1M487.3,287.0h2.8M487.3,296.1h2.8M490.0,287.9V296.3M488.6,287.9h2.8M488.6,296.3h2.8M491.3,285.7V298.2M489.9,285.7h2.8M489.9,298.2h2.8M492.6,282.1V291.5M491.2,282.1h2.8M491.2,291.5h2.8M493.9,282.9V294.5M492.5,282.9h2.8M492.5,294.5h2.8M495.2,277.7V291.2M493.8,277.7h2.8M493.8,291.2h2.8M496.5,280.9V293.5M495.1,280.9h2.8M495.1,293.5h2.8M497.8,277.4V289.7M496.4,277.4h2.8M496.4,289.7h2.8M499.1,281.1V289.8M497.7,281.1h2.8M497.7,289.8h2.8M500.3,277.9V287.4M498.9,277.9h2.8M498.9,287.4h2.8M501.6,279.1V290.1M500.2,279.1h2.8M500.2,290.1h2.8M502.9,277.9V290.8M501.5,277.9h2.8M501.5,290.8h2.8M504.2,280.8V288.6M502.8,280.8h2.8M502.8,288.6h2.8M505.5,277.1V288.7M504.1,277.1h2.8M504.1,288.7h2.8M506.8,275.4V287.4M505.4,275.4h2.8M505.4,287.4h2.8M508.1,273.9V287.5M506.7,273.9h2.8M506.7,287.5h2.8M509.4,277.1V287.8M508.0,277.1h2.8M508.0,287.8h2.8M510.7,279.2V288.6M509.3,279.2h2.8M509.3,288.6h2.8M512.0,277.7V285.7M510.6,277.7h2.8M510.6,285.7h2.8M513.2,276.7V285.3M511.9,276.7h2.8M511.9,285.3h2.8M514.5,275.1V288.9M513.1,275.1h2.8M513.1,288.9h2.8M515.8,279.6V287.4M514.4,279.6h2.8M514.4,287.4h2.8M517.1,277.3V286.0M515.7,277.3h2.8M515.7,286.0h2.8M518.4,276.3V283.8M517.0,276.3h2.8M517.0,283.8h2.8M519.7,272.8V285.8M518.3,272.8h2.8M518.3,285.8h2.8M521.0,274.3V284.5M519.6,274.3h2.8M519.6,284.5h2.8M522.3,275.8V287.5M520.9,275.8h2.8M520.9,287.5h2.8M523.6,275.2V285.5M522.2,275.2h2.8M522.2,285.5h2.8M524.9,275.8V286.2M523.5,275.8h2.8M523.5,286.2h2.8M526.1,272.8V285.7M524.8,272.8h2.8M524.8,285.7h2.8M527.4,273.6V282.2M526.0,273.6h2.8M526.0,282.2h2.8M528.7,275.5V285.9M527.3,275.5h2.8M527.3,285.9h2.8M530.0,274.3V284.1M528.6,274.3h2.8M528.6,284.1h2.8M531.3,276.8V284.9M529.9,276.8h2.8M529.9,284.9h2.8M532.6,274.9V285.3M531.2,274.9h2.8M531.2,285.3h2.8M533.9,270.2V283.5M532.5,270.2h2.8M532.5,283.5h2.8M535.2,270.3V284.1M533.8,270.3h2.8M533.8,284.1h2.8M536.5,270.9V282.4M535.1,270.9h2.8M535.1,282.4h2.8M537.8,273.3V281.2M536.4,273.3h2.8M536.4,281.2h2.8M539.0,272.1V283.5M537.6,272.1h2.8M537.6,283.5h2.8M540.3,273.9V285.1M538.9,273.9h2.8M538.9,285.1h2.8M541.6,270.9V281.5M540.2,270.9h2.8M540.2,281.5h2.8M542.9,272.8V282.3M541.5,272.8h2.8M541.5,282.3h2.8M544.2,272.3V285.5M542.8,272.3h2.8M542.8,285.5h2.8" stroke="#000" stroke-width="0.6" fill="none"/>
<g fill="#ff0000" stroke="#000" stroke-width="0.65"><circle cx="466.8" cy="320.7" r="1.75"/><circle cx="468.1" cy="321.5" r="1.75"/><circle cx="469.4" cy="317.9" r="1.75"/><circle cx="470.7" cy="317.4" r="1.75"/><circle cx="472.0" cy="315.0" r="1.75"/><circle cx="473.3" cy="312.1" r="1.75"/><circle cx="474.5" cy="311.0" r="1.75"/><circle cx="475.8" cy="309.1" r="1.75"/><circle cx="477.1" cy="308.9" r="1.75"/><circle cx="478.4" cy="302.7" r="1.75"/><circle cx="479.7" cy="305.5" r="1.75"/><circle cx="481.0" cy="299.4" r="1.75"/><circle cx="482.3" cy="301.9" r="1.75"/><circle cx="483.6" cy="298.6" r="1.75"/><circle cx="484.9" cy="296.3" r="1.75"/><circle cx="486.2" cy="293.1" r="1.75"/><circle cx="487.4" cy="293.1" r="1.75"/><circle cx="488.7" cy="291.6" r="1.75"/><circle cx="490.0" cy="292.1" r="1.75"/><circle cx="491.3" cy="291.9" r="1.75"/><circle cx="492.6" cy="286.8" r="1.75"/><circle cx="493.9" cy="288.7" r="1.75"/><circle cx="495.2" cy="284.4" r="1.75"/><circle cx="496.5" cy="287.2" r="1.75"/><circle cx="497.8" cy="283.5" r="1.75"/><circle cx="499.1" cy="285.5" r="1.75"/><circle cx="500.3" cy="282.7" r="1.75"/><circle cx="501.6" cy="284.6" r="1.75"/><circle cx="502.9" cy="284.3" r="1.75"/><circle cx="504.2" cy="284.7" r="1.75"/><circle cx="505.5" cy="282.9" r="1.75"/><circle cx="506.8" cy="281.4" r="1.75"/><circle cx="508.1" cy="280.7" r="1.75"/><circle cx="509.4" cy="282.5" r="1.75"/><circle cx="510.7" cy="283.9" r="1.75"/><circle cx="512.0" cy="281.7" r="1.75"/><circle cx="513.2" cy="281.0" r="1.75"/><circle cx="514.5" cy="282.0" r="1.75"/><circle cx="515.8" cy="283.5" r="1.75"/><circle cx="517.1" cy="281.6" r="1.75"/><circle cx="518.4" cy="280.1" r="1.75"/><circle cx="519.7" cy="279.3" r="1.75"/><circle cx="521.0" cy="279.4" r="1.75"/><circle cx="522.3" cy="281.7" r="1.75"/><circle cx="523.6" cy="280.3" r="1.75"/><circle cx="524.9" cy="281.0" r="1.75"/><circle cx="526.1" cy="279.2" r="1.75"/><circle cx="527.4" cy="277.9" r="1.75"/><circle cx="528.7" cy="280.7" r="1.75"/><circle cx="530.0" cy="279.2" r="1.75"/><circle cx="531.3" cy="280.8" r="1.75"/><circle cx="532.6" cy="280.1" r="1.75"/><circle cx="533.9" cy="276.9" r="1.75"/><circle cx="535.2" cy="277.2" r="1.75"/><circle cx="536.5" cy="276.7" r="1.75"/><circle cx="537.8" cy="277.3" r="1.75"/><circle cx="539.0" cy="277.8" r="1.75"/><circle cx="540.3" cy="279.5" r="1.75"/><circle cx="541.6" cy="276.2" r="1.75"/><circle cx="542.9" cy="277.6" r="1.75"/><circle cx="544.2" cy="278.9" r="1.75"/></g>
<text x="539.20" y="301.80" font-size="10.0" text-anchor="start" fill="#000" >2</text>
<rect x="409.60" y="273.10" width="8.00" height="8.00" fill="#a6a6a6" stroke="none" stroke-width="0"/>
<text x="422.60" y="281.05" font-size="10.0" text-anchor="start" fill="#a6a6a6" >Euploid</text>
<rect x="409.60" y="286.60" width="8.00" height="8.00" fill="#0000ff" stroke="none" stroke-width="0"/>
<text x="422.60" y="294.55" font-size="10.0" text-anchor="start" fill="#0000ff" >Ts2Cje</text>
<rect x="409.60" y="300.10" width="8.00" height="8.00" fill="#ff0000" stroke="none" stroke-width="0"/>
<text x="422.60" y="308.05" font-size="10.0" fill="#ff0000">Ts<tspan font-style="italic" dx="0.8">Grik1</tspan><tspan font-size="7.00" dy="-3.60" dx="-0.4">+/−</tspan></text>
<path d="M407.5,342.0 L408.5,342.0 L409.5,342.3 L410.5,342.2 L411.5,342.0 L412.5,342.3 L413.5,342.1 L414.5,342.2 L415.0,343.4 L415.3,341.4 L417.3,388.9 L417.8,385.1 L418.3,381.7 L418.8,378.6 L419.3,375.6 L419.8,372.8 L420.3,370.4 L420.8,368.5 L421.3,366.2 L421.8,364.1 L422.3,362.7 L422.8,360.7 L423.3,359.2 L423.8,358.0 L424.3,356.6 L424.8,355.6 L425.3,354.5 L426.3,352.5 L427.3,351.1 L428.3,349.5 L429.3,348.5 L430.3,347.6 L431.3,346.5 L432.3,346.0 L433.3,345.2 L434.3,344.9 L435.3,344.7 L436.3,344.2 L437.3,344.0 L438.3,343.7 L439.3,343.2 L440.3,343.5 L441.3,343.2" fill="none" stroke="#999" stroke-width="0.8" stroke-linejoin="round" />
<path d="M407.5,342.0 L408.5,342.4 L409.5,342.1 L410.5,342.0 L411.5,342.4 L412.5,342.2 L413.5,342.3 L414.5,342.0 L415.0,343.4 L415.3,341.4 L417.2,381.5 L417.7,378.9 L418.2,375.9 L418.7,373.6 L419.2,371.4 L419.7,369.2 L420.2,367.5 L420.7,365.5 L421.2,363.9 L421.7,362.6 L422.2,361.0 L422.7,359.9 L423.2,358.5 L423.7,357.5 L424.2,356.3 L424.7,355.5 L425.2,354.5 L426.2,352.5 L427.2,351.4 L428.2,349.9 L429.2,349.1 L430.2,348.1 L431.2,347.4 L432.2,346.3 L433.2,345.9 L434.2,345.5 L435.2,345.2 L436.2,344.7 L437.2,344.0 L438.2,344.0 L439.2,343.5 L440.2,343.6 L441.2,343.5" fill="none" stroke="#999" stroke-width="0.8" stroke-linejoin="round" />
<path d="M444.9,342.0 L445.9,342.4 L446.9,342.3 L447.9,342.1 L448.9,342.0 L449.9,342.2 L450.9,342.4 L451.9,342.2 L452.9,342.0 L453.0,343.4 L453.3,341.4 L455.4,387.8 L455.9,383.9 L456.4,380.6 L456.9,377.9 L457.4,374.7 L457.9,372.3 L458.4,369.8 L458.9,367.7 L459.4,365.6 L459.9,363.6 L460.4,362.2 L460.9,360.5 L461.4,359.1 L461.9,357.8 L462.4,356.6 L462.9,355.0 L463.4,354.1 L464.4,352.2 L465.4,350.8 L466.4,349.7 L467.4,348.5 L468.4,347.2 L469.4,346.5 L470.4,346.1 L471.4,345.5 L472.4,344.8 L473.4,344.5 L474.4,344.0 L475.4,344.0 L476.4,343.5 L477.4,343.6 L478.4,343.2 L479.4,342.8" fill="none" stroke="#0000ff" stroke-width="0.8" stroke-linejoin="round" />
<path d="M444.9,342.1 L445.9,342.1 L446.9,342.4 L447.9,342.2 L448.9,342.0 L449.9,342.0 L450.9,342.1 L451.9,342.2 L452.9,342.2 L453.0,343.4 L453.3,341.4 L455.3,380.5 L455.8,377.7 L456.3,375.2 L456.8,372.7 L457.3,370.8 L457.8,368.6 L458.3,366.6 L458.8,365.1 L459.3,363.7 L459.8,361.7 L460.3,360.4 L460.8,359.3 L461.3,357.9 L461.8,356.8 L462.3,355.9 L462.8,354.8 L463.3,354.0 L464.3,352.4 L465.3,351.2 L466.3,350.0 L467.3,348.5 L468.3,347.9 L469.3,347.2 L470.3,346.6 L471.3,346.0 L472.3,345.4 L473.3,345.0 L474.3,344.5 L475.3,344.1 L476.3,344.1 L477.3,343.9 L478.3,343.7 L479.3,343.4" fill="none" stroke="#0000ff" stroke-width="0.8" stroke-linejoin="round" />
<path d="M481.8,342.1 L482.8,342.3 L483.8,342.3 L484.8,342.2 L485.8,342.3 L486.8,342.1 L487.8,342.2 L488.8,342.2 L489.3,343.4 L489.6,341.4 L491.6,381.2 L492.1,377.9 L492.6,375.1 L493.1,372.5 L493.6,370.4 L494.1,367.9 L494.6,365.8 L495.1,363.8 L495.6,362.1 L496.1,360.5 L496.6,359.0 L497.1,357.5 L497.6,356.7 L498.1,355.4 L498.6,354.3 L499.1,353.4 L499.6,352.4 L500.6,350.7 L501.6,349.3 L502.6,348.3 L503.6,347.4 L504.6,346.8 L505.6,346.0 L506.6,345.6 L507.6,344.8 L508.6,344.7 L509.6,344.2 L510.6,343.6 L511.6,343.4 L512.6,343.4 L513.6,343.4 L514.6,343.0 L515.6,343.1 L516.6,342.8" fill="none" stroke="#ff0000" stroke-width="0.8" stroke-linejoin="round" />
<path d="M481.8,342.4 L482.8,342.0 L483.8,342.2 L484.8,342.4 L485.8,342.1 L486.8,342.1 L487.8,342.0 L488.8,342.0 L489.3,343.4 L489.6,341.4 L491.5,374.5 L492.0,372.1 L492.5,370.2 L493.0,368.0 L493.5,366.2 L494.0,364.4 L494.5,363.0 L495.0,361.7 L495.5,360.2 L496.0,358.7 L496.5,357.8 L497.0,356.8 L497.5,355.6 L498.0,354.4 L498.5,353.9 L499.0,353.1 L499.5,352.1 L500.5,350.6 L501.5,349.5 L502.5,348.6 L503.5,347.9 L504.5,347.0 L505.5,346.5 L506.5,345.6 L507.5,345.2 L508.5,345.0 L509.5,344.6 L510.5,344.1 L511.5,344.0 L512.5,343.6 L513.5,343.2 L514.5,343.3 L515.5,342.9 L516.5,343.1" fill="none" stroke="#ff0000" stroke-width="0.8" stroke-linejoin="round" />
<path d="M437.40,358.60 L437.40,374.90 L429.20,374.90" fill="none" stroke="#444" stroke-width="0.9"/>
<path d="M474.80,358.60 L474.80,374.90 L466.10,374.90" fill="none" stroke="#444" stroke-width="0.9"/>
<path d="M509.30,358.60 L509.30,374.90 L500.50,374.90" fill="none" stroke="#444" stroke-width="0.9"/>
<text x="411.40" y="384.60" font-size="9.5" text-anchor="start" fill="#000" >1</text>
<text x="419.50" y="351.50" font-size="9.5" text-anchor="start" fill="#000" >2</text>
<text x="449.90" y="384.60" font-size="9.5" text-anchor="start" fill="#000" >1</text>
<text x="456.90" y="351.50" font-size="9.5" text-anchor="start" fill="#000" >2</text>
<text x="486.10" y="384.60" font-size="9.5" text-anchor="start" fill="#000" >1</text>
<text x="492.70" y="351.50" font-size="9.5" text-anchor="start" fill="#000" >2</text>
<text x="514.50" y="371.40" font-size="9.8" text-anchor="start" fill="#000" >0.4 mV</text>
<text x="500.90" y="385.40" font-size="9.8" text-anchor="start" fill="#000" >20 ms</text>
<text transform="translate(227.00,90.50) rotate(-90)" font-size="11.4" text-anchor="middle">fEPSP slope (%)</text>
<line x1="262.20" y1="9.00" x2="262.20" y2="142.20" stroke="#666" stroke-width="1.2" />
<line x1="259.80" y1="131.13" x2="262.20" y2="131.13" stroke="#000" stroke-width="0.9" />
<text x="255.70" y="135.48" font-size="11.3" text-anchor="end" fill="#000" >90</text>
<line x1="259.80" y1="94.32" x2="262.20" y2="94.32" stroke="#000" stroke-width="0.9" />
<text x="255.70" y="98.67" font-size="11.3" text-anchor="end" fill="#000" >120</text>
<line x1="259.80" y1="57.51" x2="262.20" y2="57.51" stroke="#000" stroke-width="0.9" />
<text x="255.70" y="61.86" font-size="11.3" text-anchor="end" fill="#000" >150</text>
<line x1="259.80" y1="20.70" x2="262.20" y2="20.70" stroke="#000" stroke-width="0.9" />
<text x="255.70" y="25.05" font-size="11.3" text-anchor="end" fill="#000" >180</text>
<line x1="259.90" y1="144.80" x2="264.50" y2="141.00" stroke="#000" stroke-width="0.9" />
<line x1="260.60" y1="169.00" x2="264.60" y2="164.80" stroke="#000" stroke-width="0.9" />
<line x1="262.20" y1="166.40" x2="262.20" y2="170.00" stroke="#000" stroke-width="0.9" />
<line x1="259.80" y1="170.00" x2="262.20" y2="170.00" stroke="#000" stroke-width="0.9" />
<text x="254.00" y="175.30" font-size="11.3" text-anchor="end" fill="#000" >0</text>
<line x1="276.60" y1="19.50" x2="319.90" y2="19.50" stroke="#000" stroke-width="1.0" />
<line x1="277.00" y1="30.50" x2="298.00" y2="30.50" stroke="#000" stroke-width="1.0" />
<path d="M292.30,12.50 L292.98,14.27 L294.87,14.37 L293.39,15.56 L293.89,17.38 L292.30,16.35 L290.71,17.38 L291.21,15.56 L289.73,14.37 L291.62,14.27ZM298.20,12.50 L298.88,14.27 L300.77,14.37 L299.29,15.56 L299.79,17.38 L298.20,16.35 L296.61,17.38 L297.11,15.56 L295.63,14.37 L297.52,14.27ZM304.00,12.50 L304.68,14.27 L306.57,14.37 L305.09,15.56 L305.59,17.38 L304.00,16.35 L302.41,17.38 L302.91,15.56 L301.43,14.37 L303.32,14.27Z" fill="#000"/>
<path d="M281.40,23.80 L282.08,25.57 L283.97,25.67 L282.49,26.86 L282.99,28.68 L281.40,27.65 L279.81,28.68 L280.31,26.86 L278.83,25.67 L280.72,25.57ZM287.30,23.80 L287.98,25.57 L289.87,25.67 L288.39,26.86 L288.89,28.68 L287.30,27.65 L285.71,28.68 L286.21,26.86 L284.73,25.67 L286.62,25.57ZM293.40,23.80 L294.08,25.57 L295.97,25.67 L294.49,26.86 L294.99,28.68 L293.40,27.65 L291.81,28.68 L292.31,26.86 L290.83,25.67 L292.72,25.57Z" fill="#000"/>
<line x1="276.40" y1="54.14" x2="276.40" y2="38.05" stroke="#222" stroke-width="0.9" />
<line x1="276.40" y1="77.31" x2="276.40" y2="81.45" stroke="#222" stroke-width="0.9" />
<line x1="271.90" y1="38.85" x2="280.90" y2="38.85" stroke="#000" stroke-width="1.0" />
<line x1="271.90" y1="80.65" x2="280.90" y2="80.65" stroke="#000" stroke-width="1.0" />
<rect x="269.60" y="54.14" width="13.60" height="23.16" fill="#808080" stroke="#000" stroke-width="0.9"/>
<circle cx="276.40" cy="38.05" r="2.3" fill="#8c8c8c" stroke="none" stroke-width="0"/>
<circle cx="276.40" cy="52.68" r="2.3" fill="#8c8c8c" stroke="none" stroke-width="0"/>
<circle cx="276.40" cy="55.85" r="2.3" fill="#8c8c8c" stroke="#fff" stroke-width="0.6"/>
<circle cx="276.40" cy="63.17" r="2.3" fill="#8c8c8c" stroke="#fff" stroke-width="0.6"/>
<circle cx="276.40" cy="68.89" r="2.3" fill="#8c8c8c" stroke="#fff" stroke-width="0.6"/>
<circle cx="276.40" cy="72.06" r="2.3" fill="#8c8c8c" stroke="#fff" stroke-width="0.6"/>
<circle cx="276.40" cy="74.62" r="2.3" fill="#8c8c8c" stroke="#fff" stroke-width="0.6"/>
<circle cx="276.40" cy="79.38" r="2.3" fill="#8c8c8c" stroke="none" stroke-width="0"/>
<circle cx="276.40" cy="81.45" r="2.3" fill="#8c8c8c" stroke="none" stroke-width="0"/>
<line x1="270.10" y1="66.21" x2="282.70" y2="66.21" stroke="#fff" stroke-width="0.9" />
<line x1="297.90" y1="83.64" x2="297.90" y2="63.65" stroke="#222" stroke-width="0.9" />
<line x1="297.90" y1="95.59" x2="297.90" y2="98.39" stroke="#222" stroke-width="0.9" />
<line x1="293.40" y1="64.45" x2="302.40" y2="64.45" stroke="#000" stroke-width="1.0" />
<line x1="293.40" y1="97.59" x2="302.40" y2="97.59" stroke="#000" stroke-width="1.0" />
<rect x="291.10" y="83.64" width="13.60" height="11.95" fill="#0000ff" stroke="#000" stroke-width="0.9"/>
<circle cx="297.90" cy="63.65" r="2.3" fill="#0000ff" stroke="none" stroke-width="0"/>
<circle cx="297.90" cy="68.89" r="2.3" fill="#0000ff" stroke="none" stroke-width="0"/>
<circle cx="297.90" cy="83.03" r="2.3" fill="#0000ff" stroke="none" stroke-width="0"/>
<circle cx="297.90" cy="86.33" r="2.3" fill="#0000ff" stroke="#fff" stroke-width="0.6"/>
<circle cx="297.90" cy="89.25" r="2.3" fill="#0000ff" stroke="#fff" stroke-width="0.6"/>
<circle cx="297.90" cy="93.15" r="2.3" fill="#0000ff" stroke="#fff" stroke-width="0.6"/>
<circle cx="297.90" cy="98.39" r="2.3" fill="#0000ff" stroke="none" stroke-width="0"/>
<line x1="291.60" y1="86.33" x2="304.20" y2="86.33" stroke="#fff" stroke-width="0.9" />
<line x1="319.20" y1="80.11" x2="319.20" y2="67.43" stroke="#222" stroke-width="0.9" />
<line x1="319.20" y1="98.39" x2="319.20" y2="104.00" stroke="#222" stroke-width="0.9" />
<line x1="314.70" y1="68.23" x2="323.70" y2="68.23" stroke="#000" stroke-width="1.0" />
<line x1="314.70" y1="103.20" x2="323.70" y2="103.20" stroke="#000" stroke-width="1.0" />
<rect x="312.40" y="80.11" width="13.60" height="18.28" fill="#ff0000" stroke="#000" stroke-width="0.9"/>
<circle cx="319.20" cy="67.43" r="2.3" fill="#ff0000" stroke="none" stroke-width="0"/>
<circle cx="319.20" cy="73.16" r="2.3" fill="#ff0000" stroke="none" stroke-width="0"/>
<circle cx="319.20" cy="78.04" r="2.3" fill="#ff0000" stroke="none" stroke-width="0"/>
<circle cx="319.20" cy="82.18" r="2.3" fill="#ff0000" stroke="#fff" stroke-width="0.6"/>
<circle cx="319.20" cy="85.72" r="2.3" fill="#ff0000" stroke="#fff" stroke-width="0.6"/>
<circle cx="319.20" cy="88.89" r="2.3" fill="#ff0000" stroke="#fff" stroke-width="0.6"/>
<circle cx="319.20" cy="91.57" r="2.3" fill="#ff0000" stroke="#fff" stroke-width="0.6"/>
<circle cx="319.20" cy="94.74" r="2.3" fill="#ff0000" stroke="#fff" stroke-width="0.6"/>
<circle cx="319.20" cy="97.66" r="2.3" fill="#ff0000" stroke="#fff" stroke-width="0.6"/>
<circle cx="319.20" cy="101.08" r="2.3" fill="#ff0000" stroke="none" stroke-width="0"/>
<circle cx="319.20" cy="104.00" r="2.3" fill="#ff0000" stroke="none" stroke-width="0"/>
<circle cx="319.20" cy="114.61" r="2.3" fill="#ff0000" stroke="none" stroke-width="0"/>
<line x1="312.90" y1="89.25" x2="325.50" y2="89.25" stroke="#fff" stroke-width="0.9" />
<rect x="267.10" y="133.50" width="8.00" height="8.00" fill="#a6a6a6" stroke="none" stroke-width="0"/>
<text x="280.10" y="141.45" font-size="10.0" text-anchor="start" fill="#a6a6a6" >Euploid</text>
<rect x="267.10" y="146.90" width="8.00" height="8.00" fill="#0000ff" stroke="none" stroke-width="0"/>
<text x="280.10" y="154.85" font-size="10.0" text-anchor="start" fill="#0000ff" >Ts2Cje</text>
<rect x="267.10" y="160.30" width="8.00" height="8.00" fill="#ff0000" stroke="none" stroke-width="0"/>
<text x="280.10" y="168.25" font-size="10.0" fill="#ff0000">Ts<tspan font-style="italic" dx="0.8">Grik1</tspan><tspan font-size="7.00" dy="-3.60" dx="-0.4">+/−</tspan></text>
<text transform="translate(226.60,314.50) rotate(-90)" font-size="11.4" text-anchor="middle">fEPSP slope (%)</text>
<line x1="262.90" y1="231.70" x2="262.90" y2="362.50" stroke="#666" stroke-width="1.2" />
<line x1="260.50" y1="353.92" x2="262.90" y2="353.92" stroke="#000" stroke-width="0.9" />
<text x="255.30" y="358.27" font-size="11.3" text-anchor="end" fill="#000" >90</text>
<line x1="260.50" y1="322.18" x2="262.90" y2="322.18" stroke="#000" stroke-width="0.9" />
<text x="255.30" y="326.53" font-size="11.3" text-anchor="end" fill="#000" >120</text>
<line x1="260.50" y1="290.44" x2="262.90" y2="290.44" stroke="#000" stroke-width="0.9" />
<text x="255.30" y="294.79" font-size="11.3" text-anchor="end" fill="#000" >150</text>
<line x1="260.50" y1="258.70" x2="262.90" y2="258.70" stroke="#000" stroke-width="0.9" />
<text x="255.30" y="263.05" font-size="11.3" text-anchor="end" fill="#000" >180</text>
<line x1="260.60" y1="365.10" x2="265.20" y2="361.30" stroke="#000" stroke-width="0.9" />
<line x1="261.30" y1="389.80" x2="265.30" y2="385.60" stroke="#000" stroke-width="0.9" />
<line x1="262.90" y1="387.20" x2="262.90" y2="390.80" stroke="#000" stroke-width="0.9" />
<line x1="260.50" y1="390.80" x2="262.90" y2="390.80" stroke="#000" stroke-width="0.9" />
<text x="254.70" y="395.10" font-size="11.3" text-anchor="end" fill="#000" >0</text>
<line x1="277.20" y1="240.90" x2="320.60" y2="240.90" stroke="#000" stroke-width="1.0" />
<line x1="277.90" y1="252.50" x2="298.70" y2="252.50" stroke="#000" stroke-width="1.0" />
<path d="M292.90,234.20 L293.58,235.97 L295.47,236.07 L293.99,237.26 L294.49,239.08 L292.90,238.05 L291.31,239.08 L291.81,237.26 L290.33,236.07 L292.22,235.97ZM298.70,234.20 L299.38,235.97 L301.27,236.07 L299.79,237.26 L300.29,239.08 L298.70,238.05 L297.11,239.08 L297.61,237.26 L296.13,236.07 L298.02,235.97ZM304.60,234.20 L305.28,235.97 L307.17,236.07 L305.69,237.26 L306.19,239.08 L304.60,238.05 L303.01,239.08 L303.51,237.26 L302.03,236.07 L303.92,235.97Z" fill="#000"/>
<path d="M282.30,245.70 L282.98,247.47 L284.87,247.57 L283.39,248.76 L283.89,250.58 L282.30,249.55 L280.71,250.58 L281.21,248.76 L279.73,247.57 L281.62,247.47ZM288.10,245.70 L288.78,247.47 L290.67,247.57 L289.19,248.76 L289.69,250.58 L288.10,249.55 L286.51,250.58 L287.01,248.76 L285.53,247.57 L287.42,247.47ZM294.10,245.70 L294.78,247.47 L296.67,247.57 L295.19,248.76 L295.69,250.58 L294.10,249.55 L292.51,250.58 L293.01,248.76 L291.53,247.57 L293.42,247.47Z" fill="#000"/>
<line x1="277.10" y1="282.25" x2="277.10" y2="269.27" stroke="#222" stroke-width="0.9" />
<line x1="277.10" y1="312.14" x2="277.10" y2="318.79" stroke="#222" stroke-width="0.9" />
<line x1="272.60" y1="270.07" x2="281.60" y2="270.07" stroke="#000" stroke-width="1.0" />
<line x1="272.60" y1="317.99" x2="281.60" y2="317.99" stroke="#000" stroke-width="1.0" />
<rect x="270.30" y="282.25" width="13.60" height="29.88" fill="#808080" stroke="#000" stroke-width="0.9"/>
<circle cx="277.10" cy="259.34" r="2.3" fill="#8c8c8c" stroke="none" stroke-width="0"/>
<circle cx="277.10" cy="265.99" r="2.3" fill="#8c8c8c" stroke="none" stroke-width="0"/>
<circle cx="277.10" cy="269.27" r="2.3" fill="#8c8c8c" stroke="none" stroke-width="0"/>
<circle cx="277.10" cy="273.38" r="2.3" fill="#8c8c8c" stroke="none" stroke-width="0"/>
<circle cx="277.10" cy="278.77" r="2.3" fill="#8c8c8c" stroke="none" stroke-width="0"/>
<circle cx="277.10" cy="285.00" r="2.3" fill="#8c8c8c" stroke="#fff" stroke-width="0.6"/>
<circle cx="277.10" cy="288.17" r="2.3" fill="#8c8c8c" stroke="#fff" stroke-width="0.6"/>
<circle cx="277.10" cy="291.34" r="2.3" fill="#8c8c8c" stroke="#fff" stroke-width="0.6"/>
<circle cx="277.10" cy="294.50" r="2.3" fill="#8c8c8c" stroke="#fff" stroke-width="0.6"/>
<circle cx="277.10" cy="297.67" r="2.3" fill="#8c8c8c" stroke="#fff" stroke-width="0.6"/>
<circle cx="277.10" cy="300.84" r="2.3" fill="#8c8c8c" stroke="#fff" stroke-width="0.6"/>
<circle cx="277.10" cy="304.01" r="2.3" fill="#8c8c8c" stroke="#fff" stroke-width="0.6"/>
<circle cx="277.10" cy="307.18" r="2.3" fill="#8c8c8c" stroke="#fff" stroke-width="0.6"/>
<circle cx="277.10" cy="309.82" r="2.3" fill="#8c8c8c" stroke="#fff" stroke-width="0.6"/>
<circle cx="277.10" cy="315.41" r="2.3" fill="#8c8c8c" stroke="none" stroke-width="0"/>
<circle cx="277.10" cy="318.79" r="2.3" fill="#8c8c8c" stroke="none" stroke-width="0"/>
<circle cx="277.10" cy="323.23" r="2.3" fill="#8c8c8c" stroke="none" stroke-width="0"/>
<circle cx="277.10" cy="328.72" r="2.3" fill="#8c8c8c" stroke="none" stroke-width="0"/>
<line x1="270.80" y1="296.62" x2="283.40" y2="296.62" stroke="#fff" stroke-width="0.9" />
<line x1="298.80" y1="301.05" x2="298.80" y2="288.80" stroke="#222" stroke-width="0.9" />
<line x1="298.80" y1="327.56" x2="298.80" y2="333.89" stroke="#222" stroke-width="0.9" />
<line x1="294.30" y1="289.60" x2="303.30" y2="289.60" stroke="#000" stroke-width="1.0" />
<line x1="294.30" y1="333.09" x2="303.30" y2="333.09" stroke="#000" stroke-width="1.0" />
<rect x="292.00" y="301.05" width="13.60" height="26.51" fill="#0000ff" stroke="#000" stroke-width="0.9"/>
<circle cx="298.80" cy="276.55" r="2.3" fill="#0000ff" stroke="none" stroke-width="0"/>
<circle cx="298.80" cy="287.32" r="2.3" fill="#0000ff" stroke="none" stroke-width="0"/>
<circle cx="298.80" cy="296.62" r="2.3" fill="#0000ff" stroke="none" stroke-width="0"/>
<circle cx="298.80" cy="304.01" r="2.3" fill="#0000ff" stroke="#fff" stroke-width="0.6"/>
<circle cx="298.80" cy="307.18" r="2.3" fill="#0000ff" stroke="#fff" stroke-width="0.6"/>
<circle cx="298.80" cy="310.34" r="2.3" fill="#0000ff" stroke="#fff" stroke-width="0.6"/>
<circle cx="298.80" cy="313.51" r="2.3" fill="#0000ff" stroke="#fff" stroke-width="0.6"/>
<circle cx="298.80" cy="316.68" r="2.3" fill="#0000ff" stroke="#fff" stroke-width="0.6"/>
<circle cx="298.80" cy="319.85" r="2.3" fill="#0000ff" stroke="#fff" stroke-width="0.6"/>
<circle cx="298.80" cy="323.02" r="2.3" fill="#0000ff" stroke="#fff" stroke-width="0.6"/>
<circle cx="298.80" cy="326.18" r="2.3" fill="#0000ff" stroke="#fff" stroke-width="0.6"/>
<circle cx="298.80" cy="333.89" r="2.3" fill="#0000ff" stroke="none" stroke-width="0"/>
<line x1="292.50" y1="312.56" x2="305.10" y2="312.56" stroke="#fff" stroke-width="0.9" />
<line x1="320.40" y1="305.49" x2="320.40" y2="289.54" stroke="#222" stroke-width="0.9" />
<line x1="320.40" y1="324.28" x2="320.40" y2="333.89" stroke="#222" stroke-width="0.9" />
<line x1="315.90" y1="290.34" x2="324.90" y2="290.34" stroke="#000" stroke-width="1.0" />
<line x1="315.90" y1="333.09" x2="324.90" y2="333.09" stroke="#000" stroke-width="1.0" />
<rect x="313.60" y="305.49" width="13.60" height="18.80" fill="#ff0000" stroke="#000" stroke-width="0.9"/>
<circle cx="320.40" cy="279.30" r="2.3" fill="#ff0000" stroke="none" stroke-width="0"/>
<circle cx="320.40" cy="289.54" r="2.3" fill="#ff0000" stroke="none" stroke-width="0"/>
<circle cx="320.40" cy="302.11" r="2.3" fill="#ff0000" stroke="none" stroke-width="0"/>
<circle cx="320.40" cy="309.29" r="2.3" fill="#ff0000" stroke="#fff" stroke-width="0.6"/>
<circle cx="320.40" cy="315.62" r="2.3" fill="#ff0000" stroke="#fff" stroke-width="0.6"/>
<circle cx="320.40" cy="319.85" r="2.3" fill="#ff0000" stroke="#fff" stroke-width="0.6"/>
<circle cx="320.40" cy="323.02" r="2.3" fill="#ff0000" stroke="#fff" stroke-width="0.6"/>
<circle cx="320.40" cy="328.72" r="2.3" fill="#ff0000" stroke="none" stroke-width="0"/>
<circle cx="320.40" cy="333.89" r="2.3" fill="#ff0000" stroke="none" stroke-width="0"/>
<circle cx="320.40" cy="336.96" r="2.3" fill="#ff0000" stroke="none" stroke-width="0"/>
<line x1="314.10" y1="314.78" x2="326.70" y2="314.78" stroke="#fff" stroke-width="0.9" />
<rect x="268.00" y="355.40" width="8.00" height="8.00" fill="#a6a6a6" stroke="none" stroke-width="0"/>
<text x="281.00" y="363.35" font-size="10.0" text-anchor="start" fill="#a6a6a6" >Euploid</text>
<rect x="268.00" y="368.80" width="8.00" height="8.00" fill="#0000ff" stroke="none" stroke-width="0"/>
<text x="281.00" y="376.75" font-size="10.0" text-anchor="start" fill="#0000ff" >Ts2Cje</text>
<rect x="268.00" y="382.20" width="8.00" height="8.00" fill="#ff0000" stroke="none" stroke-width="0"/>
<text x="281.00" y="390.15" font-size="10.0" fill="#ff0000">Ts<tspan font-style="italic" dx="0.8">Grik1</tspan><tspan font-size="7.00" dy="-3.60" dx="-0.4">+/−</tspan></text>
<text transform="translate(585.60,96.90) rotate(-90)" font-size="11.4" text-anchor="middle">fEPSP slope (%)</text>
<line x1="620.50" y1="10.00" x2="620.50" y2="171.00" stroke="#000" stroke-width="1" />
<line x1="618.10" y1="170.50" x2="620.50" y2="170.50" stroke="#000" stroke-width="0.9" />
<text x="613.15" y="174.85" font-size="11.3" text-anchor="end" fill="#000" >0</text>
<line x1="618.10" y1="143.75" x2="620.50" y2="143.75" stroke="#000" stroke-width="0.9" />
<text x="613.15" y="148.10" font-size="11.3" text-anchor="end" fill="#000" >20</text>
<line x1="618.10" y1="117.00" x2="620.50" y2="117.00" stroke="#000" stroke-width="0.9" />
<text x="613.15" y="121.35" font-size="11.3" text-anchor="end" fill="#000" >40</text>
<line x1="618.10" y1="90.25" x2="620.50" y2="90.25" stroke="#000" stroke-width="0.9" />
<text x="613.15" y="94.60" font-size="11.3" text-anchor="end" fill="#000" >60</text>
<line x1="618.10" y1="63.50" x2="620.50" y2="63.50" stroke="#000" stroke-width="0.9" />
<text x="613.15" y="67.85" font-size="11.3" text-anchor="end" fill="#000" >80</text>
<line x1="618.10" y1="36.75" x2="620.50" y2="36.75" stroke="#000" stroke-width="0.9" />
<text x="613.15" y="41.10" font-size="11.3" text-anchor="end" fill="#000" >100</text>
<line x1="618.10" y1="10.00" x2="620.50" y2="10.00" stroke="#000" stroke-width="0.9" />
<text x="613.15" y="14.35" font-size="11.3" text-anchor="end" fill="#000" >120</text>
<line x1="634.65" y1="46.65" x2="634.65" y2="45.44" stroke="#777" stroke-width="0.9" />
<line x1="634.65" y1="62.06" x2="634.65" y2="97.70" stroke="#777" stroke-width="0.9" />
<line x1="630.15" y1="46.24" x2="639.15" y2="46.24" stroke="#000" stroke-width="1.0" />
<line x1="630.15" y1="96.90" x2="639.15" y2="96.90" stroke="#000" stroke-width="1.0" />
<rect x="627.85" y="46.65" width="13.60" height="15.41" fill="#808080" stroke="#000" stroke-width="0.9"/>
<circle cx="634.65" cy="45.44" r="2.3" fill="#8c8c8c" stroke="none" stroke-width="0"/>
<circle cx="634.65" cy="49.73" r="2.3" fill="#8c8c8c" stroke="#fff" stroke-width="0.6"/>
<circle cx="634.65" cy="58.17" r="2.3" fill="#8c8c8c" stroke="#fff" stroke-width="0.6"/>
<circle cx="634.65" cy="60.32" r="2.3" fill="#8c8c8c" stroke="#fff" stroke-width="0.6"/>
<circle cx="634.65" cy="97.70" r="2.3" fill="#8c8c8c" stroke="none" stroke-width="0"/>
<line x1="628.35" y1="60.32" x2="640.95" y2="60.32" stroke="#fff" stroke-width="0.9" />
<line x1="656.10" y1="49.06" x2="656.10" y2="39.82" stroke="#777" stroke-width="0.9" />
<line x1="656.10" y1="68.09" x2="656.10" y2="92.48" stroke="#777" stroke-width="0.9" />
<line x1="651.60" y1="40.62" x2="660.60" y2="40.62" stroke="#000" stroke-width="1.0" />
<line x1="651.60" y1="91.68" x2="660.60" y2="91.68" stroke="#000" stroke-width="1.0" />
<rect x="649.30" y="49.06" width="13.60" height="19.03" fill="#0000ff" stroke="#000" stroke-width="0.9"/>
<circle cx="656.10" cy="39.82" r="2.3" fill="#0000ff" stroke="none" stroke-width="0"/>
<circle cx="656.10" cy="46.25" r="2.3" fill="#0000ff" stroke="none" stroke-width="0"/>
<circle cx="656.10" cy="49.73" r="2.3" fill="#0000ff" stroke="#fff" stroke-width="0.6"/>
<circle cx="656.10" cy="53.89" r="2.3" fill="#0000ff" stroke="#fff" stroke-width="0.6"/>
<circle cx="656.10" cy="58.17" r="2.3" fill="#0000ff" stroke="#fff" stroke-width="0.6"/>
<circle cx="656.10" cy="62.33" r="2.3" fill="#0000ff" stroke="#fff" stroke-width="0.6"/>
<circle cx="656.10" cy="65.54" r="2.3" fill="#0000ff" stroke="#fff" stroke-width="0.6"/>
<circle cx="656.10" cy="71.44" r="2.3" fill="#0000ff" stroke="none" stroke-width="0"/>
<circle cx="656.10" cy="92.48" r="2.3" fill="#0000ff" stroke="none" stroke-width="0"/>
<line x1="649.80" y1="60.32" x2="662.40" y2="60.32" stroke="#fff" stroke-width="0.9" />
<line x1="677.40" y1="41.96" x2="677.40" y2="29.63" stroke="#555" stroke-width="0.9" />
<line x1="677.40" y1="68.76" x2="677.40" y2="82.83" stroke="#555" stroke-width="0.9" />
<line x1="672.90" y1="30.43" x2="681.90" y2="30.43" stroke="#000" stroke-width="1.0" />
<line x1="672.90" y1="82.03" x2="681.90" y2="82.03" stroke="#000" stroke-width="1.0" />
<rect x="670.60" y="41.96" width="13.60" height="26.80" fill="#ff0000" stroke="#000" stroke-width="0.9"/>
<circle cx="677.40" cy="20.92" r="2.3" fill="#ff0000" stroke="none" stroke-width="0"/>
<circle cx="677.40" cy="31.78" r="2.3" fill="#ff0000" stroke="none" stroke-width="0"/>
<circle cx="677.40" cy="34.99" r="2.3" fill="#ff0000" stroke="none" stroke-width="0"/>
<circle cx="677.40" cy="41.29" r="2.3" fill="#ff0000" stroke="none" stroke-width="0"/>
<circle cx="677.40" cy="46.65" r="2.3" fill="#ff0000" stroke="#fff" stroke-width="0.6"/>
<circle cx="677.40" cy="51.74" r="2.3" fill="#ff0000" stroke="#fff" stroke-width="0.6"/>
<circle cx="677.40" cy="56.03" r="2.3" fill="#ff0000" stroke="#fff" stroke-width="0.6"/>
<circle cx="677.40" cy="59.11" r="2.3" fill="#ff0000" stroke="#fff" stroke-width="0.6"/>
<circle cx="677.40" cy="71.84" r="2.3" fill="#ff0000" stroke="none" stroke-width="0"/>
<circle cx="677.40" cy="77.07" r="2.3" fill="#ff0000" stroke="none" stroke-width="0"/>
<circle cx="677.40" cy="96.10" r="2.3" fill="#ff0000" stroke="none" stroke-width="0"/>
<line x1="671.10" y1="53.35" x2="683.70" y2="53.35" stroke="#fff" stroke-width="0.9" />
<rect x="623.20" y="133.70" width="8.00" height="8.00" fill="#a6a6a6" stroke="none" stroke-width="0"/>
<text x="636.20" y="141.65" font-size="10.0" text-anchor="start" fill="#a6a6a6" >Euploid</text>
<rect x="623.20" y="147.15" width="8.00" height="8.00" fill="#0000ff" stroke="none" stroke-width="0"/>
<text x="636.20" y="155.10" font-size="10.0" text-anchor="start" fill="#0000ff" >Ts2Cje</text>
<rect x="623.20" y="160.60" width="8.00" height="8.00" fill="#ff0000" stroke="none" stroke-width="0"/>
<text x="636.20" y="168.55" font-size="10.0" fill="#ff0000">Ts<tspan font-style="italic" dx="0.8">Grik1</tspan><tspan font-size="7.00" dy="-3.60" dx="-0.4">+/−</tspan></text>
<text transform="translate(586.60,319.00) rotate(-90)" font-size="11.4" text-anchor="middle">fEPSP slope (%)</text>
<line x1="621.20" y1="230.70" x2="621.20" y2="392.80" stroke="#000" stroke-width="1" />
<line x1="618.80" y1="392.30" x2="621.20" y2="392.30" stroke="#000" stroke-width="0.9" />
<text x="613.85" y="396.65" font-size="11.3" text-anchor="end" fill="#000" >0</text>
<line x1="618.80" y1="365.37" x2="621.20" y2="365.37" stroke="#000" stroke-width="0.9" />
<text x="613.85" y="369.72" font-size="11.3" text-anchor="end" fill="#000" >20</text>
<line x1="618.80" y1="338.43" x2="621.20" y2="338.43" stroke="#000" stroke-width="0.9" />
<text x="613.85" y="342.78" font-size="11.3" text-anchor="end" fill="#000" >40</text>
<line x1="618.80" y1="311.50" x2="621.20" y2="311.50" stroke="#000" stroke-width="0.9" />
<text x="613.85" y="315.85" font-size="11.3" text-anchor="end" fill="#000" >60</text>
<line x1="618.80" y1="284.56" x2="621.20" y2="284.56" stroke="#000" stroke-width="0.9" />
<text x="613.85" y="288.91" font-size="11.3" text-anchor="end" fill="#000" >80</text>
<line x1="618.80" y1="257.63" x2="621.20" y2="257.63" stroke="#000" stroke-width="0.9" />
<text x="613.85" y="261.98" font-size="11.3" text-anchor="end" fill="#000" >100</text>
<line x1="618.80" y1="230.70" x2="621.20" y2="230.70" stroke="#000" stroke-width="0.9" />
<text x="613.85" y="235.05" font-size="11.3" text-anchor="end" fill="#000" >120</text>
<line x1="635.05" y1="271.23" x2="635.05" y2="261.37" stroke="#777" stroke-width="0.9" />
<line x1="635.05" y1="291.36" x2="635.05" y2="297.09" stroke="#777" stroke-width="0.9" />
<line x1="630.55" y1="262.17" x2="639.55" y2="262.17" stroke="#000" stroke-width="1.0" />
<line x1="630.55" y1="296.29" x2="639.55" y2="296.29" stroke="#000" stroke-width="1.0" />
<rect x="628.25" y="271.23" width="13.60" height="20.13" fill="#808080" stroke="#000" stroke-width="0.9"/>
<circle cx="635.05" cy="245.90" r="2.3" fill="#8c8c8c" stroke="none" stroke-width="0"/>
<circle cx="635.05" cy="261.37" r="2.3" fill="#8c8c8c" stroke="none" stroke-width="0"/>
<circle cx="635.05" cy="264.96" r="2.3" fill="#8c8c8c" stroke="none" stroke-width="0"/>
<circle cx="635.05" cy="268.70" r="2.3" fill="#8c8c8c" stroke="none" stroke-width="0"/>
<circle cx="635.05" cy="273.50" r="2.3" fill="#8c8c8c" stroke="#fff" stroke-width="0.6"/>
<circle cx="635.05" cy="277.50" r="2.3" fill="#8c8c8c" stroke="#fff" stroke-width="0.6"/>
<circle cx="635.05" cy="280.16" r="2.3" fill="#8c8c8c" stroke="#fff" stroke-width="0.6"/>
<circle cx="635.05" cy="284.16" r="2.3" fill="#8c8c8c" stroke="#fff" stroke-width="0.6"/>
<circle cx="635.05" cy="288.16" r="2.3" fill="#8c8c8c" stroke="#fff" stroke-width="0.6"/>
<circle cx="635.05" cy="290.83" r="2.3" fill="#8c8c8c" stroke="#fff" stroke-width="0.6"/>
<circle cx="635.05" cy="294.42" r="2.3" fill="#8c8c8c" stroke="none" stroke-width="0"/>
<circle cx="635.05" cy="304.16" r="2.3" fill="#8c8c8c" stroke="none" stroke-width="0"/>
<circle cx="635.05" cy="319.22" r="2.3" fill="#8c8c8c" stroke="none" stroke-width="0"/>
<line x1="628.75" y1="282.16" x2="641.35" y2="282.16" stroke="#fff" stroke-width="0.9" />
<line x1="656.75" y1="264.56" x2="656.75" y2="250.84" stroke="#777" stroke-width="0.9" />
<line x1="656.75" y1="292.96" x2="656.75" y2="318.15" stroke="#777" stroke-width="0.9" />
<line x1="652.25" y1="251.64" x2="661.25" y2="251.64" stroke="#000" stroke-width="1.0" />
<line x1="652.25" y1="317.35" x2="661.25" y2="317.35" stroke="#000" stroke-width="1.0" />
<rect x="649.95" y="264.56" width="13.60" height="28.39" fill="#0000ff" stroke="#000" stroke-width="0.9"/>
<circle cx="656.75" cy="244.44" r="2.3" fill="#0000ff" stroke="none" stroke-width="0"/>
<circle cx="656.75" cy="250.84" r="2.3" fill="#0000ff" stroke="none" stroke-width="0"/>
<circle cx="656.75" cy="257.77" r="2.3" fill="#0000ff" stroke="none" stroke-width="0"/>
<circle cx="656.75" cy="263.37" r="2.3" fill="#0000ff" stroke="none" stroke-width="0"/>
<circle cx="656.75" cy="269.50" r="2.3" fill="#0000ff" stroke="#fff" stroke-width="0.6"/>
<circle cx="656.75" cy="274.83" r="2.3" fill="#0000ff" stroke="#fff" stroke-width="0.6"/>
<circle cx="656.75" cy="278.83" r="2.3" fill="#0000ff" stroke="#fff" stroke-width="0.6"/>
<circle cx="656.75" cy="282.83" r="2.3" fill="#0000ff" stroke="#fff" stroke-width="0.6"/>
<circle cx="656.75" cy="286.83" r="2.3" fill="#0000ff" stroke="#fff" stroke-width="0.6"/>
<circle cx="656.75" cy="290.83" r="2.3" fill="#0000ff" stroke="#fff" stroke-width="0.6"/>
<circle cx="656.75" cy="302.02" r="2.3" fill="#0000ff" stroke="none" stroke-width="0"/>
<circle cx="656.75" cy="319.62" r="2.3" fill="#0000ff" stroke="none" stroke-width="0"/>
<line x1="650.45" y1="282.43" x2="663.05" y2="282.43" stroke="#fff" stroke-width="0.9" />
<line x1="678.05" y1="272.83" x2="678.05" y2="244.44" stroke="#555" stroke-width="0.9" />
<line x1="678.05" y1="290.16" x2="678.05" y2="317.09" stroke="#555" stroke-width="0.9" />
<line x1="673.55" y1="245.24" x2="682.55" y2="245.24" stroke="#000" stroke-width="1.0" />
<line x1="673.55" y1="316.29" x2="682.55" y2="316.29" stroke="#000" stroke-width="1.0" />
<rect x="671.25" y="272.83" width="13.60" height="17.33" fill="#ff0000" stroke="#000" stroke-width="0.9"/>
<circle cx="678.05" cy="239.24" r="2.3" fill="#ff0000" stroke="none" stroke-width="0"/>
<circle cx="678.05" cy="244.44" r="2.3" fill="#ff0000" stroke="none" stroke-width="0"/>
<circle cx="678.05" cy="253.50" r="2.3" fill="#ff0000" stroke="none" stroke-width="0"/>
<circle cx="678.05" cy="269.76" r="2.3" fill="#ff0000" stroke="none" stroke-width="0"/>
<circle cx="678.05" cy="278.16" r="2.3" fill="#ff0000" stroke="#fff" stroke-width="0.6"/>
<circle cx="678.05" cy="281.36" r="2.3" fill="#ff0000" stroke="#fff" stroke-width="0.6"/>
<circle cx="678.05" cy="285.49" r="2.3" fill="#ff0000" stroke="#fff" stroke-width="0.6"/>
<circle cx="678.05" cy="287.63" r="2.3" fill="#ff0000" stroke="#fff" stroke-width="0.6"/>
<circle cx="678.05" cy="303.36" r="2.3" fill="#ff0000" stroke="none" stroke-width="0"/>
<circle cx="678.05" cy="309.09" r="2.3" fill="#ff0000" stroke="none" stroke-width="0"/>
<circle cx="678.05" cy="317.09" r="2.3" fill="#ff0000" stroke="none" stroke-width="0"/>
<circle cx="678.05" cy="322.95" r="2.3" fill="#ff0000" stroke="none" stroke-width="0"/>
<line x1="671.75" y1="280.29" x2="684.35" y2="280.29" stroke="#fff" stroke-width="0.9" />
<rect x="623.20" y="353.90" width="8.00" height="8.00" fill="#a6a6a6" stroke="none" stroke-width="0"/>
<text x="636.20" y="361.85" font-size="10.0" text-anchor="start" fill="#a6a6a6" >Euploid</text>
<rect x="623.20" y="367.35" width="8.00" height="8.00" fill="#0000ff" stroke="none" stroke-width="0"/>
<text x="636.20" y="375.30" font-size="10.0" text-anchor="start" fill="#0000ff" >Ts2Cje</text>
<rect x="623.20" y="380.80" width="8.00" height="8.00" fill="#ff0000" stroke="none" stroke-width="0"/>
<text x="636.20" y="388.75" font-size="10.0" fill="#ff0000">Ts<tspan font-style="italic" dx="0.8">Grik1</tspan><tspan font-size="7.00" dy="-3.60" dx="-0.4">+/−</tspan></text>
</svg>
</body></html>
